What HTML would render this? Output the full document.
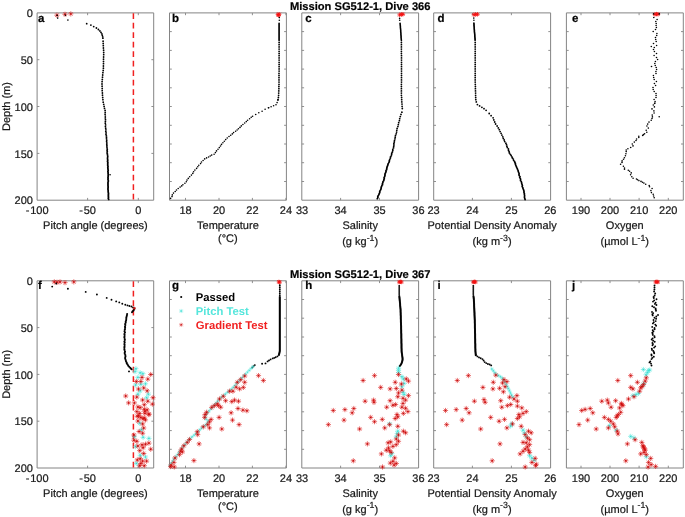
<!DOCTYPE html>
<html><head><meta charset="utf-8"><title>Mission SG512-1 dives 366-367</title>
<style>
html,body{margin:0;padding:0;background:#fff;}
body{width:685px;height:517px;overflow:hidden;font-family:"Liberation Sans",sans-serif;}
svg{display:block;text-rendering:geometricPrecision;shape-rendering:geometricPrecision;will-change:transform;}
</style></head><body>
<svg width="685" height="517" viewBox="0 0 685 517">
<rect x="0" y="0" width="685" height="517" fill="#fff"/>
<g font-family="'Liberation Sans', sans-serif" font-size="11" fill="#1a1a1a" stroke="#1a1a1a" stroke-width="0.22" stroke-linejoin="round">
<path d="M87.6 200.2v-2.3M87.6 12.9v2.3M138.3 200.2v-2.3M138.3 12.9v2.3M37.1 59.7h2.3M153.7 59.7h-2.3M37.1 106.5h2.3M153.7 106.5h-2.3M37.1 153.4h2.3M153.7 153.4h-2.3" stroke="#848484" stroke-width="0.9" fill="none"/>
<rect x="37.1" y="12.9" width="116.6" height="187.3" fill="none" stroke="#848484" stroke-width="1"/>
<text x="37.1" y="214.4" text-anchor="middle" font-size="11"><tspan letter-spacing="0.9">-</tspan>100</text>
<text x="87.6" y="214.4" text-anchor="middle" font-size="11"><tspan letter-spacing="0.9">-</tspan>50</text>
<text x="138.3" y="214.4" text-anchor="middle" font-size="11">0</text>
<text x="95.4" y="228.8" text-anchor="middle">Pitch angle (degrees)</text>
<text x="37.9" y="21.7" font-weight="bold" font-size="11.5" fill="#000">a</text>
<text x="32.9" y="17.1" text-anchor="end" font-size="11">0</text>
<text x="32.9" y="63.9" text-anchor="end" font-size="11">50</text>
<text x="32.9" y="110.8" text-anchor="end" font-size="11">100</text>
<text x="32.9" y="157.6" text-anchor="end" font-size="11">150</text>
<text x="32.9" y="204.4" text-anchor="end" font-size="11">200</text>
<text transform="translate(10.2,106.5) rotate(-90)" text-anchor="middle">Depth (m)</text>
<path d="M185.5 200.2v-2.3M185.5 12.9v2.3M219.0 200.2v-2.3M219.0 12.9v2.3M252.4 200.2v-2.3M252.4 12.9v2.3M285.9 200.2v-2.3M285.9 12.9v2.3M169.5 31.6h2.3M286.4 31.6h-2.3M169.5 50.4h2.3M286.4 50.4h-2.3M169.5 69.1h2.3M286.4 69.1h-2.3M169.5 87.8h2.3M286.4 87.8h-2.3M169.5 106.5h2.3M286.4 106.5h-2.3M169.5 125.3h2.3M286.4 125.3h-2.3M169.5 144.0h2.3M286.4 144.0h-2.3M169.5 162.7h2.3M286.4 162.7h-2.3M169.5 181.5h2.3M286.4 181.5h-2.3" stroke="#848484" stroke-width="0.9" fill="none"/>
<rect x="169.5" y="12.9" width="116.9" height="187.3" fill="none" stroke="#848484" stroke-width="1"/>
<text x="185.5" y="214.4" text-anchor="middle" font-size="11">18</text>
<text x="219.0" y="214.4" text-anchor="middle" font-size="11">20</text>
<text x="252.4" y="214.4" text-anchor="middle" font-size="11">22</text>
<text x="285.9" y="214.4" text-anchor="middle" font-size="11">24</text>
<text x="227.9" y="228.8" text-anchor="middle">Temperature</text>
<text x="227.9" y="241.9" text-anchor="middle">(°C)</text>
<text x="172.0" y="21.7" font-weight="bold" font-size="11.5" fill="#000">b</text>
<path d="M340.6 200.2v-2.3M340.6 12.9v2.3M379.5 200.2v-2.3M379.5 12.9v2.3M301.8 31.6h2.3M418.6 31.6h-2.3M301.8 50.4h2.3M418.6 50.4h-2.3M301.8 69.1h2.3M418.6 69.1h-2.3M301.8 87.8h2.3M418.6 87.8h-2.3M301.8 106.5h2.3M418.6 106.5h-2.3M301.8 125.3h2.3M418.6 125.3h-2.3M301.8 144.0h2.3M418.6 144.0h-2.3M301.8 162.7h2.3M418.6 162.7h-2.3M301.8 181.5h2.3M418.6 181.5h-2.3" stroke="#848484" stroke-width="0.9" fill="none"/>
<rect x="301.8" y="12.9" width="116.8" height="187.3" fill="none" stroke="#848484" stroke-width="1"/>
<text x="302.0" y="214.4" text-anchor="middle" font-size="11">33</text>
<text x="340.6" y="214.4" text-anchor="middle" font-size="11">34</text>
<text x="379.5" y="214.4" text-anchor="middle" font-size="11">35</text>
<text x="418.4" y="214.4" text-anchor="middle" font-size="11">36</text>
<text x="360.2" y="228.8" text-anchor="middle">Salinity</text>
<text x="360.2" y="244.8" text-anchor="middle">(g kg<tspan dy="-4.1" font-size="8.8">-1</tspan><tspan dy="4.1">)</tspan></text>
<text x="305.2" y="21.7" font-weight="bold" font-size="11.5" fill="#000">c</text>
<text x="360.2" y="10.2" text-anchor="middle" font-weight="bold" font-size="11.15" fill="#000">Mission SG512-1, Dive 366</text>
<path d="M472.4 200.2v-2.3M472.4 12.9v2.3M511.4 200.2v-2.3M511.4 12.9v2.3M433.7 31.6h2.3M550.6 31.6h-2.3M433.7 50.4h2.3M550.6 50.4h-2.3M433.7 69.1h2.3M550.6 69.1h-2.3M433.7 87.8h2.3M550.6 87.8h-2.3M433.7 106.5h2.3M550.6 106.5h-2.3M433.7 125.3h2.3M550.6 125.3h-2.3M433.7 144.0h2.3M550.6 144.0h-2.3M433.7 162.7h2.3M550.6 162.7h-2.3M433.7 181.5h2.3M550.6 181.5h-2.3" stroke="#848484" stroke-width="0.9" fill="none"/>
<rect x="433.7" y="12.9" width="116.9" height="187.3" fill="none" stroke="#848484" stroke-width="1"/>
<text x="433.6" y="214.4" text-anchor="middle" font-size="11">23</text>
<text x="472.4" y="214.4" text-anchor="middle" font-size="11">24</text>
<text x="511.4" y="214.4" text-anchor="middle" font-size="11">25</text>
<text x="550.3" y="214.4" text-anchor="middle" font-size="11">26</text>
<text x="492.1" y="228.8" text-anchor="middle" textLength="129.3" lengthAdjust="spacing">Potential Density Anomaly</text>
<text x="492.1" y="244.8" text-anchor="middle">(kg m<tspan dy="-4.1" font-size="8.8">-3</tspan><tspan dy="4.1">)</tspan></text>
<text x="437.4" y="21.7" font-weight="bold" font-size="11.5" fill="#000">d</text>
<path d="M581.0 200.2v-2.3M581.0 12.9v2.3M610.0 200.2v-2.3M610.0 12.9v2.3M639.1 200.2v-2.3M639.1 12.9v2.3M668.3 200.2v-2.3M668.3 12.9v2.3M566.4 31.6h2.3M683.3 31.6h-2.3M566.4 50.4h2.3M683.3 50.4h-2.3M566.4 69.1h2.3M683.3 69.1h-2.3M566.4 87.8h2.3M683.3 87.8h-2.3M566.4 106.5h2.3M683.3 106.5h-2.3M566.4 125.3h2.3M683.3 125.3h-2.3M566.4 144.0h2.3M683.3 144.0h-2.3M566.4 162.7h2.3M683.3 162.7h-2.3M566.4 181.5h2.3M683.3 181.5h-2.3" stroke="#848484" stroke-width="0.9" fill="none"/>
<rect x="566.4" y="12.9" width="116.9" height="187.3" fill="none" stroke="#848484" stroke-width="1"/>
<text x="581.0" y="214.4" text-anchor="middle" font-size="11">190</text>
<text x="610.0" y="214.4" text-anchor="middle" font-size="11">200</text>
<text x="639.1" y="214.4" text-anchor="middle" font-size="11">210</text>
<text x="668.3" y="214.4" text-anchor="middle" font-size="11">220</text>
<text x="624.8" y="228.8" text-anchor="middle">Oxygen</text>
<text x="624.8" y="244.8" text-anchor="middle">(µmol L<tspan dy="-4.1" font-size="8.8">-1</tspan><tspan dy="4.1">)</tspan></text>
<text x="572.0" y="21.7" font-weight="bold" font-size="11.5" fill="#000">e</text>
<path d="M87.6 468.0v-2.3M87.6 280.8v2.3M138.3 468.0v-2.3M138.3 280.8v2.3M37.1 327.6h2.3M153.7 327.6h-2.3M37.1 374.4h2.3M153.7 374.4h-2.3M37.1 421.2h2.3M153.7 421.2h-2.3" stroke="#848484" stroke-width="0.9" fill="none"/>
<rect x="37.1" y="280.8" width="116.6" height="187.2" fill="none" stroke="#848484" stroke-width="1"/>
<text x="37.1" y="482.2" text-anchor="middle" font-size="11"><tspan letter-spacing="0.9">-</tspan>100</text>
<text x="87.6" y="482.2" text-anchor="middle" font-size="11"><tspan letter-spacing="0.9">-</tspan>50</text>
<text x="138.3" y="482.2" text-anchor="middle" font-size="11">0</text>
<text x="95.4" y="496.6" text-anchor="middle">Pitch angle (degrees)</text>
<text x="37.9" y="289.3" font-weight="bold" font-size="11.5" fill="#000">f</text>
<text x="32.9" y="285.0" text-anchor="end" font-size="11">0</text>
<text x="32.9" y="331.8" text-anchor="end" font-size="11">50</text>
<text x="32.9" y="378.6" text-anchor="end" font-size="11">100</text>
<text x="32.9" y="425.4" text-anchor="end" font-size="11">150</text>
<text x="32.9" y="472.2" text-anchor="end" font-size="11">200</text>
<text transform="translate(10.2,374.4) rotate(-90)" text-anchor="middle">Depth (m)</text>
<path d="M185.5 468.0v-2.3M185.5 280.8v2.3M219.0 468.0v-2.3M219.0 280.8v2.3M252.4 468.0v-2.3M252.4 280.8v2.3M285.9 468.0v-2.3M285.9 280.8v2.3M169.5 299.5h2.3M286.4 299.5h-2.3M169.5 318.2h2.3M286.4 318.2h-2.3M169.5 337.0h2.3M286.4 337.0h-2.3M169.5 355.7h2.3M286.4 355.7h-2.3M169.5 374.4h2.3M286.4 374.4h-2.3M169.5 393.1h2.3M286.4 393.1h-2.3M169.5 411.8h2.3M286.4 411.8h-2.3M169.5 430.6h2.3M286.4 430.6h-2.3M169.5 449.3h2.3M286.4 449.3h-2.3" stroke="#848484" stroke-width="0.9" fill="none"/>
<rect x="169.5" y="280.8" width="116.9" height="187.2" fill="none" stroke="#848484" stroke-width="1"/>
<text x="185.5" y="482.2" text-anchor="middle" font-size="11">18</text>
<text x="219.0" y="482.2" text-anchor="middle" font-size="11">20</text>
<text x="252.4" y="482.2" text-anchor="middle" font-size="11">22</text>
<text x="285.9" y="482.2" text-anchor="middle" font-size="11">24</text>
<text x="227.9" y="496.6" text-anchor="middle">Temperature</text>
<text x="227.9" y="509.7" text-anchor="middle">(°C)</text>
<text x="172.0" y="289.3" font-weight="bold" font-size="11.5" fill="#000">g</text>
<path d="M340.6 468.0v-2.3M340.6 280.8v2.3M379.5 468.0v-2.3M379.5 280.8v2.3M301.8 299.5h2.3M418.6 299.5h-2.3M301.8 318.2h2.3M418.6 318.2h-2.3M301.8 337.0h2.3M418.6 337.0h-2.3M301.8 355.7h2.3M418.6 355.7h-2.3M301.8 374.4h2.3M418.6 374.4h-2.3M301.8 393.1h2.3M418.6 393.1h-2.3M301.8 411.8h2.3M418.6 411.8h-2.3M301.8 430.6h2.3M418.6 430.6h-2.3M301.8 449.3h2.3M418.6 449.3h-2.3" stroke="#848484" stroke-width="0.9" fill="none"/>
<rect x="301.8" y="280.8" width="116.8" height="187.2" fill="none" stroke="#848484" stroke-width="1"/>
<text x="302.0" y="482.2" text-anchor="middle" font-size="11">33</text>
<text x="340.6" y="482.2" text-anchor="middle" font-size="11">34</text>
<text x="379.5" y="482.2" text-anchor="middle" font-size="11">35</text>
<text x="418.4" y="482.2" text-anchor="middle" font-size="11">36</text>
<text x="360.2" y="496.6" text-anchor="middle">Salinity</text>
<text x="360.2" y="512.6" text-anchor="middle">(g kg<tspan dy="-4.1" font-size="8.8">-1</tspan><tspan dy="4.1">)</tspan></text>
<text x="305.2" y="289.3" font-weight="bold" font-size="11.5" fill="#000">h</text>
<text x="360.2" y="277.5" text-anchor="middle" font-weight="bold" font-size="11.15" fill="#000">Mission SG512-1, Dive 367</text>
<path d="M472.4 468.0v-2.3M472.4 280.8v2.3M511.4 468.0v-2.3M511.4 280.8v2.3M433.7 299.5h2.3M550.6 299.5h-2.3M433.7 318.2h2.3M550.6 318.2h-2.3M433.7 337.0h2.3M550.6 337.0h-2.3M433.7 355.7h2.3M550.6 355.7h-2.3M433.7 374.4h2.3M550.6 374.4h-2.3M433.7 393.1h2.3M550.6 393.1h-2.3M433.7 411.8h2.3M550.6 411.8h-2.3M433.7 430.6h2.3M550.6 430.6h-2.3M433.7 449.3h2.3M550.6 449.3h-2.3" stroke="#848484" stroke-width="0.9" fill="none"/>
<rect x="433.7" y="280.8" width="116.9" height="187.2" fill="none" stroke="#848484" stroke-width="1"/>
<text x="433.6" y="482.2" text-anchor="middle" font-size="11">23</text>
<text x="472.4" y="482.2" text-anchor="middle" font-size="11">24</text>
<text x="511.4" y="482.2" text-anchor="middle" font-size="11">25</text>
<text x="550.3" y="482.2" text-anchor="middle" font-size="11">26</text>
<text x="492.1" y="496.6" text-anchor="middle" textLength="129.3" lengthAdjust="spacing">Potential Density Anomaly</text>
<text x="492.1" y="512.6" text-anchor="middle">(kg m<tspan dy="-4.1" font-size="8.8">-3</tspan><tspan dy="4.1">)</tspan></text>
<text x="437.4" y="289.3" font-weight="bold" font-size="11.5" fill="#000">i</text>
<path d="M581.0 468.0v-2.3M581.0 280.8v2.3M610.0 468.0v-2.3M610.0 280.8v2.3M639.1 468.0v-2.3M639.1 280.8v2.3M668.3 468.0v-2.3M668.3 280.8v2.3M566.4 299.5h2.3M683.3 299.5h-2.3M566.4 318.2h2.3M683.3 318.2h-2.3M566.4 337.0h2.3M683.3 337.0h-2.3M566.4 355.7h2.3M683.3 355.7h-2.3M566.4 374.4h2.3M683.3 374.4h-2.3M566.4 393.1h2.3M683.3 393.1h-2.3M566.4 411.8h2.3M683.3 411.8h-2.3M566.4 430.6h2.3M683.3 430.6h-2.3M566.4 449.3h2.3M683.3 449.3h-2.3" stroke="#848484" stroke-width="0.9" fill="none"/>
<rect x="566.4" y="280.8" width="116.9" height="187.2" fill="none" stroke="#848484" stroke-width="1"/>
<text x="581.0" y="482.2" text-anchor="middle" font-size="11">190</text>
<text x="610.0" y="482.2" text-anchor="middle" font-size="11">200</text>
<text x="639.1" y="482.2" text-anchor="middle" font-size="11">210</text>
<text x="668.3" y="482.2" text-anchor="middle" font-size="11">220</text>
<text x="624.8" y="496.6" text-anchor="middle">Oxygen</text>
<text x="624.8" y="512.6" text-anchor="middle">(µmol L<tspan dy="-4.1" font-size="8.8">-1</tspan><tspan dy="4.1">)</tspan></text>
<text x="572.0" y="289.3" font-weight="bold" font-size="11.5" fill="#000">j</text>
</g>
<path d="M133.4 13.3V199.79999999999998" stroke="#f02020" stroke-width="1.5" stroke-dasharray="5.8 3.7" fill="none"/>
<path d="M133.4 281.2V467.6" stroke="#f02020" stroke-width="1.5" stroke-dasharray="5.8 3.7" fill="none"/>
<path d="M54.3 15.2H59.5M56.9 12.6V17.8M55.1 13.4L58.7 17.0M55.1 17.0L58.7 13.4" stroke="#dc1010" stroke-width="0.6" fill="none"/>
<circle cx="56.9" cy="15.2" r="0.70" fill="#b80f0f"/>
<path d="M62.4 14.3H67.6M65.0 11.7V16.9M63.2 12.5L66.8 16.1M63.2 16.1L66.8 12.5" stroke="#dc1010" stroke-width="0.6" fill="none"/>
<circle cx="65.0" cy="14.3" r="0.70" fill="#b80f0f"/>
<path d="M68.2 13.9H73.4M70.8 11.3V16.5M69.0 12.1L72.6 15.7M69.0 15.7L72.6 12.1" stroke="#dc1010" stroke-width="0.6" fill="none"/>
<circle cx="70.8" cy="13.9" r="0.70" fill="#b80f0f"/>
<circle cx="57.7" cy="18.1" r="0.8" fill="#000"/>
<circle cx="67.9" cy="20.1" r="0.8" fill="#000"/>
<circle cx="65.4" cy="15.2" r="0.8" fill="#000"/>
<circle cx="57.2" cy="15.4" r="0.8" fill="#000"/>
<circle cx="86.7" cy="23.7" r="0.9" fill="#000"/>
<circle cx="90.9" cy="25.1" r="0.9" fill="#000"/>
<circle cx="93.7" cy="26.6" r="0.9" fill="#000"/>
<circle cx="96.4" cy="28.0" r="0.9" fill="#000"/>
<circle cx="98.4" cy="29.5" r="0.9" fill="#000"/>
<circle cx="99.9" cy="30.9" r="0.9" fill="#000"/>
<circle cx="101.0" cy="32.4" r="0.9" fill="#000"/>
<circle cx="101.9" cy="33.9" r="0.9" fill="#000"/>
<circle cx="102.3" cy="35.3" r="0.9" fill="#000"/>
<circle cx="102.7" cy="36.8" r="0.9" fill="#000"/>
<circle cx="102.9" cy="38.2" r="0.9" fill="#000"/>
<circle cx="103.1" cy="41.2" r="0.9" fill="#000"/>
<circle cx="103.2" cy="43.5" r="0.9" fill="#000"/>
<circle cx="103.3" cy="45.7" r="0.9" fill="#000"/>
<circle cx="103.4" cy="48.0" r="0.9" fill="#000"/>
<circle cx="103.6" cy="50.2" r="0.9" fill="#000"/>
<circle cx="103.7" cy="52.5" r="0.9" fill="#000"/>
<circle cx="103.7" cy="54.7" r="0.9" fill="#000"/>
<circle cx="103.6" cy="57.0" r="0.9" fill="#000"/>
<circle cx="103.5" cy="59.2" r="0.9" fill="#000"/>
<circle cx="103.5" cy="61.5" r="0.9" fill="#000"/>
<circle cx="103.5" cy="63.7" r="0.9" fill="#000"/>
<circle cx="103.4" cy="66.0" r="0.9" fill="#000"/>
<circle cx="103.4" cy="68.2" r="0.9" fill="#000"/>
<circle cx="103.2" cy="70.5" r="0.9" fill="#000"/>
<circle cx="102.9" cy="72.7" r="0.9" fill="#000"/>
<circle cx="102.7" cy="75.0" r="0.9" fill="#000"/>
<circle cx="102.5" cy="77.2" r="0.9" fill="#000"/>
<circle cx="102.3" cy="79.5" r="0.9" fill="#000"/>
<circle cx="102.1" cy="81.7" r="0.9" fill="#000"/>
<circle cx="102.0" cy="84.0" r="0.9" fill="#000"/>
<circle cx="102.1" cy="86.2" r="0.9" fill="#000"/>
<circle cx="102.2" cy="88.5" r="0.9" fill="#000"/>
<circle cx="102.2" cy="90.7" r="0.9" fill="#000"/>
<circle cx="102.4" cy="93.0" r="0.9" fill="#000"/>
<circle cx="102.5" cy="95.2" r="0.9" fill="#000"/>
<circle cx="102.7" cy="97.5" r="0.9" fill="#000"/>
<circle cx="102.9" cy="99.7" r="0.9" fill="#000"/>
<circle cx="103.2" cy="102.2" r="0.9" fill="#000"/>
<circle cx="103.7" cy="104.3" r="0.9" fill="#000"/>
<circle cx="104.1" cy="106.4" r="0.9" fill="#000"/>
<circle cx="104.5" cy="108.4" r="0.9" fill="#000"/>
<circle cx="105.1" cy="110.4" r="0.9" fill="#000"/>
<circle cx="105.2" cy="112.3" r="0.9" fill="#000"/>
<circle cx="105.1" cy="114.2" r="0.9" fill="#000"/>
<circle cx="105.3" cy="116.1" r="0.9" fill="#000"/>
<circle cx="105.3" cy="117.9" r="0.9" fill="#000"/>
<circle cx="105.5" cy="119.7" r="0.9" fill="#000"/>
<circle cx="105.4" cy="121.5" r="0.9" fill="#000"/>
<circle cx="105.3" cy="123.2" r="0.9" fill="#000"/>
<circle cx="105.6" cy="124.9" r="0.9" fill="#000"/>
<circle cx="105.4" cy="126.6" r="0.9" fill="#000"/>
<circle cx="105.7" cy="128.2" r="0.9" fill="#000"/>
<circle cx="105.9" cy="129.8" r="0.9" fill="#000"/>
<circle cx="105.8" cy="131.4" r="0.9" fill="#000"/>
<circle cx="106.1" cy="132.9" r="0.9" fill="#000"/>
<circle cx="106.0" cy="134.5" r="0.9" fill="#000"/>
<circle cx="106.4" cy="135.9" r="0.9" fill="#000"/>
<circle cx="106.5" cy="137.4" r="0.9" fill="#000"/>
<circle cx="106.5" cy="138.8" r="0.9" fill="#000"/>
<circle cx="106.7" cy="140.2" r="0.9" fill="#000"/>
<circle cx="106.6" cy="141.6" r="0.9" fill="#000"/>
<circle cx="106.8" cy="143.0" r="0.9" fill="#000"/>
<circle cx="106.8" cy="144.3" r="0.9" fill="#000"/>
<circle cx="106.9" cy="145.6" r="0.9" fill="#000"/>
<circle cx="106.9" cy="146.9" r="0.9" fill="#000"/>
<circle cx="107.1" cy="148.1" r="0.9" fill="#000"/>
<circle cx="107.3" cy="149.3" r="0.9" fill="#000"/>
<circle cx="107.1" cy="150.5" r="0.9" fill="#000"/>
<circle cx="107.3" cy="151.7" r="0.9" fill="#000"/>
<circle cx="107.1" cy="152.9" r="0.9" fill="#000"/>
<circle cx="107.4" cy="154.0" r="0.9" fill="#000"/>
<circle cx="107.5" cy="155.1" r="0.9" fill="#000"/>
<circle cx="107.7" cy="156.2" r="0.9" fill="#000"/>
<circle cx="107.6" cy="157.3" r="0.9" fill="#000"/>
<circle cx="107.5" cy="158.3" r="0.9" fill="#000"/>
<circle cx="107.6" cy="159.4" r="0.9" fill="#000"/>
<circle cx="107.7" cy="160.4" r="0.9" fill="#000"/>
<circle cx="107.5" cy="161.4" r="0.9" fill="#000"/>
<circle cx="107.8" cy="162.4" r="0.9" fill="#000"/>
<circle cx="107.7" cy="163.4" r="0.9" fill="#000"/>
<circle cx="107.7" cy="164.4" r="0.9" fill="#000"/>
<circle cx="107.7" cy="165.4" r="0.9" fill="#000"/>
<circle cx="108.0" cy="166.4" r="0.9" fill="#000"/>
<circle cx="107.8" cy="167.4" r="0.9" fill="#000"/>
<circle cx="107.9" cy="168.4" r="0.9" fill="#000"/>
<circle cx="108.0" cy="169.4" r="0.9" fill="#000"/>
<circle cx="108.2" cy="170.4" r="0.9" fill="#000"/>
<circle cx="107.9" cy="171.4" r="0.9" fill="#000"/>
<circle cx="108.1" cy="172.4" r="0.9" fill="#000"/>
<circle cx="108.1" cy="173.4" r="0.9" fill="#000"/>
<circle cx="108.3" cy="174.4" r="0.9" fill="#000"/>
<circle cx="108.2" cy="175.4" r="0.9" fill="#000"/>
<circle cx="108.2" cy="176.4" r="0.9" fill="#000"/>
<circle cx="108.0" cy="177.4" r="0.9" fill="#000"/>
<circle cx="108.1" cy="178.4" r="0.9" fill="#000"/>
<circle cx="108.0" cy="179.4" r="0.9" fill="#000"/>
<circle cx="108.3" cy="180.4" r="0.9" fill="#000"/>
<circle cx="108.3" cy="181.4" r="0.9" fill="#000"/>
<circle cx="108.0" cy="182.4" r="0.9" fill="#000"/>
<circle cx="108.0" cy="183.4" r="0.9" fill="#000"/>
<circle cx="108.0" cy="184.4" r="0.9" fill="#000"/>
<circle cx="108.0" cy="185.4" r="0.9" fill="#000"/>
<circle cx="108.1" cy="186.4" r="0.9" fill="#000"/>
<circle cx="108.1" cy="187.4" r="0.9" fill="#000"/>
<circle cx="108.0" cy="188.4" r="0.9" fill="#000"/>
<circle cx="108.0" cy="189.4" r="0.9" fill="#000"/>
<circle cx="108.2" cy="190.4" r="0.9" fill="#000"/>
<circle cx="108.2" cy="191.4" r="0.9" fill="#000"/>
<circle cx="108.3" cy="192.4" r="0.9" fill="#000"/>
<circle cx="108.5" cy="193.4" r="0.9" fill="#000"/>
<circle cx="108.4" cy="194.4" r="0.9" fill="#000"/>
<circle cx="108.4" cy="195.4" r="0.9" fill="#000"/>
<circle cx="108.4" cy="196.4" r="0.9" fill="#000"/>
<circle cx="108.5" cy="197.4" r="0.9" fill="#000"/>
<circle cx="108.3" cy="198.4" r="0.9" fill="#000"/>
<circle cx="108.7" cy="199.4" r="0.9" fill="#000"/>
<circle cx="110.1" cy="174.7" r="0.8" fill="#000"/>
<path d="M275.7 14.6H280.1M277.9 12.4V16.8M276.3 13.0L279.5 16.2M276.3 16.2L279.5 13.0" stroke="#f41010" stroke-width="0.8" fill="none"/>
<path d="M277.0 14.3H281.4M279.2 12.1V16.5M277.6 12.7L280.8 15.9M277.6 15.9L280.8 12.7" stroke="#f41010" stroke-width="0.8" fill="none"/>
<path d="M276.4 15.2H280.8M278.6 13.0V17.4M277.0 13.6L280.2 16.8M277.0 16.8L280.2 13.6" stroke="#f41010" stroke-width="0.8" fill="none"/>
<circle cx="279.3" cy="17.6" r="0.8" fill="#000"/>
<circle cx="279.3" cy="20.2" r="0.8" fill="#000"/>
<circle cx="279.1" cy="23.3" r="0.85" fill="#000"/>
<circle cx="279.1" cy="24.3" r="0.85" fill="#000"/>
<circle cx="279.1" cy="25.3" r="0.85" fill="#000"/>
<circle cx="279.1" cy="26.3" r="0.85" fill="#000"/>
<circle cx="279.1" cy="27.3" r="0.85" fill="#000"/>
<circle cx="279.1" cy="28.3" r="0.85" fill="#000"/>
<circle cx="279.1" cy="29.3" r="0.85" fill="#000"/>
<circle cx="279.1" cy="30.3" r="0.85" fill="#000"/>
<circle cx="279.1" cy="31.3" r="0.85" fill="#000"/>
<circle cx="279.1" cy="32.3" r="0.85" fill="#000"/>
<circle cx="279.1" cy="33.3" r="0.85" fill="#000"/>
<circle cx="279.1" cy="34.3" r="0.85" fill="#000"/>
<circle cx="279.1" cy="35.3" r="0.85" fill="#000"/>
<circle cx="279.1" cy="36.3" r="0.85" fill="#000"/>
<circle cx="279.1" cy="37.3" r="0.85" fill="#000"/>
<circle cx="279.1" cy="38.3" r="0.85" fill="#000"/>
<circle cx="279.1" cy="39.3" r="0.85" fill="#000"/>
<circle cx="279.1" cy="40.3" r="0.85" fill="#000"/>
<circle cx="279.1" cy="42.5" r="0.9" fill="#000"/>
<circle cx="279.1" cy="44.7" r="0.9" fill="#000"/>
<circle cx="279.1" cy="46.9" r="0.9" fill="#000"/>
<circle cx="279.1" cy="49.1" r="0.9" fill="#000"/>
<circle cx="279.1" cy="51.3" r="0.9" fill="#000"/>
<circle cx="279.1" cy="53.5" r="0.9" fill="#000"/>
<circle cx="279.1" cy="55.7" r="0.9" fill="#000"/>
<circle cx="279.1" cy="57.9" r="0.9" fill="#000"/>
<circle cx="279.1" cy="60.1" r="0.9" fill="#000"/>
<circle cx="279.1" cy="62.3" r="0.9" fill="#000"/>
<circle cx="279.1" cy="64.5" r="0.9" fill="#000"/>
<circle cx="279.1" cy="66.7" r="0.9" fill="#000"/>
<circle cx="279.1" cy="68.9" r="0.9" fill="#000"/>
<circle cx="279.1" cy="71.1" r="0.9" fill="#000"/>
<circle cx="279.0" cy="73.3" r="0.9" fill="#000"/>
<circle cx="279.0" cy="75.5" r="0.9" fill="#000"/>
<circle cx="279.0" cy="77.7" r="0.9" fill="#000"/>
<circle cx="279.0" cy="79.9" r="0.9" fill="#000"/>
<circle cx="279.0" cy="82.1" r="0.9" fill="#000"/>
<circle cx="279.0" cy="84.3" r="0.9" fill="#000"/>
<circle cx="278.9" cy="86.5" r="0.9" fill="#000"/>
<circle cx="278.9" cy="88.7" r="0.9" fill="#000"/>
<circle cx="278.8" cy="90.9" r="0.9" fill="#000"/>
<circle cx="278.7" cy="93.1" r="0.9" fill="#000"/>
<circle cx="278.6" cy="95.3" r="0.9" fill="#000"/>
<circle cx="278.4" cy="97.5" r="0.9" fill="#000"/>
<circle cx="278.0" cy="99.7" r="0.9" fill="#000"/>
<circle cx="277.9" cy="100.1" r="0.8" fill="#000"/>
<circle cx="277.1" cy="102.6" r="0.8" fill="#000"/>
<circle cx="276.0" cy="104.8" r="0.8" fill="#000"/>
<circle cx="273.6" cy="105.7" r="0.8" fill="#000"/>
<circle cx="271.1" cy="106.7" r="0.8" fill="#000"/>
<circle cx="268.7" cy="107.7" r="0.8" fill="#000"/>
<circle cx="268.4" cy="107.8" r="0.8" fill="#000"/>
<circle cx="265.1" cy="109.3" r="0.8" fill="#000"/>
<circle cx="262.1" cy="111.2" r="0.8" fill="#000"/>
<circle cx="258.8" cy="112.8" r="0.8" fill="#000"/>
<circle cx="255.7" cy="114.5" r="0.8" fill="#000"/>
<circle cx="252.6" cy="116.3" r="0.8" fill="#000"/>
<circle cx="251.2" cy="117.3" r="0.8" fill="#000"/>
<circle cx="249.6" cy="118.7" r="0.8" fill="#000"/>
<circle cx="247.6" cy="120.2" r="0.8" fill="#000"/>
<circle cx="246.3" cy="121.6" r="0.8" fill="#000"/>
<circle cx="244.7" cy="123.0" r="0.8" fill="#000"/>
<circle cx="242.9" cy="124.5" r="0.8" fill="#000"/>
<circle cx="241.3" cy="125.9" r="0.8" fill="#000"/>
<circle cx="240.0" cy="127.4" r="0.8" fill="#000"/>
<circle cx="238.4" cy="128.7" r="0.8" fill="#000"/>
<circle cx="237.1" cy="130.0" r="0.8" fill="#000"/>
<circle cx="235.6" cy="131.3" r="0.8" fill="#000"/>
<circle cx="233.6" cy="132.6" r="0.8" fill="#000"/>
<circle cx="232.3" cy="133.9" r="0.8" fill="#000"/>
<circle cx="230.7" cy="135.2" r="0.8" fill="#000"/>
<circle cx="229.0" cy="136.5" r="0.8" fill="#000"/>
<circle cx="227.2" cy="138.0" r="0.8" fill="#000"/>
<circle cx="225.7" cy="139.6" r="0.8" fill="#000"/>
<circle cx="224.3" cy="141.2" r="0.8" fill="#000"/>
<circle cx="222.9" cy="142.8" r="0.8" fill="#000"/>
<circle cx="221.5" cy="144.4" r="0.8" fill="#000"/>
<circle cx="220.5" cy="146.0" r="0.8" fill="#000"/>
<circle cx="219.3" cy="147.6" r="0.8" fill="#000"/>
<circle cx="218.0" cy="149.3" r="0.8" fill="#000"/>
<circle cx="216.5" cy="150.9" r="0.8" fill="#000"/>
<circle cx="215.4" cy="152.6" r="0.8" fill="#000"/>
<circle cx="214.1" cy="154.2" r="0.8" fill="#000"/>
<circle cx="211.7" cy="155.1" r="0.8" fill="#000"/>
<circle cx="210.2" cy="156.0" r="0.8" fill="#000"/>
<circle cx="208.6" cy="157.0" r="0.8" fill="#000"/>
<circle cx="206.6" cy="157.9" r="0.8" fill="#000"/>
<circle cx="204.7" cy="158.9" r="0.8" fill="#000"/>
<circle cx="203.1" cy="160.5" r="0.8" fill="#000"/>
<circle cx="201.5" cy="162.0" r="0.8" fill="#000"/>
<circle cx="200.6" cy="163.6" r="0.8" fill="#000"/>
<circle cx="198.8" cy="165.2" r="0.8" fill="#000"/>
<circle cx="197.8" cy="166.8" r="0.8" fill="#000"/>
<circle cx="196.6" cy="168.4" r="0.8" fill="#000"/>
<circle cx="194.9" cy="170.1" r="0.8" fill="#000"/>
<circle cx="193.6" cy="171.7" r="0.8" fill="#000"/>
<circle cx="192.8" cy="173.4" r="0.8" fill="#000"/>
<circle cx="191.4" cy="175.1" r="0.8" fill="#000"/>
<circle cx="189.7" cy="176.8" r="0.8" fill="#000"/>
<circle cx="188.3" cy="178.4" r="0.8" fill="#000"/>
<circle cx="187.0" cy="180.1" r="0.8" fill="#000"/>
<circle cx="186.3" cy="181.7" r="0.8" fill="#000"/>
<circle cx="184.9" cy="183.3" r="0.8" fill="#000"/>
<circle cx="182.9" cy="184.8" r="0.8" fill="#000"/>
<circle cx="181.7" cy="185.9" r="0.8" fill="#000"/>
<circle cx="180.1" cy="187.1" r="0.8" fill="#000"/>
<circle cx="178.2" cy="188.5" r="0.8" fill="#000"/>
<circle cx="176.5" cy="190.0" r="0.8" fill="#000"/>
<circle cx="175.2" cy="191.5" r="0.8" fill="#000"/>
<circle cx="173.5" cy="193.1" r="0.8" fill="#000"/>
<circle cx="172.3" cy="194.9" r="0.8" fill="#000"/>
<circle cx="172.0" cy="196.6" r="0.8" fill="#000"/>
<circle cx="170.6" cy="198.4" r="0.8" fill="#000"/>
<path d="M397.4 14.9H401.8M399.6 12.7V17.1M398.0 13.3L401.2 16.5M398.0 16.5L401.2 13.3" stroke="#f41010" stroke-width="0.8" fill="none"/>
<path d="M399.2 14.4H403.6M401.4 12.2V16.6M399.8 12.8L403.0 16.0M399.8 16.0L403.0 12.8" stroke="#f41010" stroke-width="0.8" fill="none"/>
<path d="M400.7 14.3H405.1M402.9 12.1V16.5M401.3 12.7L404.5 15.9M401.3 15.9L404.5 12.7" stroke="#f41010" stroke-width="0.8" fill="none"/>
<circle cx="399.6" cy="18.4" r="0.8" fill="#000"/>
<circle cx="399.7" cy="20.3" r="0.8" fill="#000"/>
<circle cx="400.1" cy="23.3" r="0.85" fill="#000"/>
<circle cx="400.2" cy="24.3" r="0.85" fill="#000"/>
<circle cx="400.3" cy="25.3" r="0.85" fill="#000"/>
<circle cx="400.4" cy="26.3" r="0.85" fill="#000"/>
<circle cx="400.4" cy="27.3" r="0.85" fill="#000"/>
<circle cx="400.5" cy="28.3" r="0.85" fill="#000"/>
<circle cx="400.6" cy="29.3" r="0.85" fill="#000"/>
<circle cx="400.7" cy="30.3" r="0.85" fill="#000"/>
<circle cx="400.7" cy="31.3" r="0.85" fill="#000"/>
<circle cx="400.8" cy="32.3" r="0.85" fill="#000"/>
<circle cx="400.9" cy="33.3" r="0.85" fill="#000"/>
<circle cx="400.9" cy="34.3" r="0.85" fill="#000"/>
<circle cx="401.0" cy="35.3" r="0.85" fill="#000"/>
<circle cx="401.1" cy="36.3" r="0.85" fill="#000"/>
<circle cx="401.1" cy="37.3" r="0.85" fill="#000"/>
<circle cx="401.2" cy="38.3" r="0.85" fill="#000"/>
<circle cx="401.3" cy="39.3" r="0.85" fill="#000"/>
<circle cx="401.4" cy="40.3" r="0.85" fill="#000"/>
<circle cx="401.4" cy="42.5" r="0.9" fill="#000"/>
<circle cx="401.4" cy="44.7" r="0.9" fill="#000"/>
<circle cx="401.4" cy="46.9" r="0.9" fill="#000"/>
<circle cx="401.4" cy="49.1" r="0.9" fill="#000"/>
<circle cx="401.4" cy="51.3" r="0.9" fill="#000"/>
<circle cx="401.4" cy="53.5" r="0.9" fill="#000"/>
<circle cx="401.5" cy="55.7" r="0.9" fill="#000"/>
<circle cx="401.5" cy="57.9" r="0.9" fill="#000"/>
<circle cx="401.5" cy="60.1" r="0.9" fill="#000"/>
<circle cx="401.5" cy="62.3" r="0.9" fill="#000"/>
<circle cx="401.5" cy="64.5" r="0.9" fill="#000"/>
<circle cx="401.5" cy="66.7" r="0.9" fill="#000"/>
<circle cx="401.5" cy="68.9" r="0.9" fill="#000"/>
<circle cx="401.5" cy="71.1" r="0.9" fill="#000"/>
<circle cx="401.5" cy="73.3" r="0.9" fill="#000"/>
<circle cx="401.5" cy="75.5" r="0.9" fill="#000"/>
<circle cx="401.5" cy="77.7" r="0.9" fill="#000"/>
<circle cx="401.5" cy="79.9" r="0.9" fill="#000"/>
<circle cx="401.5" cy="82.1" r="0.9" fill="#000"/>
<circle cx="401.4" cy="84.3" r="0.9" fill="#000"/>
<circle cx="401.4" cy="86.5" r="0.9" fill="#000"/>
<circle cx="401.4" cy="88.7" r="0.9" fill="#000"/>
<circle cx="401.4" cy="90.9" r="0.9" fill="#000"/>
<circle cx="401.4" cy="93.1" r="0.9" fill="#000"/>
<circle cx="401.4" cy="95.3" r="0.9" fill="#000"/>
<circle cx="401.6" cy="97.5" r="0.9" fill="#000"/>
<circle cx="401.7" cy="99.7" r="0.9" fill="#000"/>
<circle cx="401.8" cy="101.9" r="0.9" fill="#000"/>
<circle cx="402.0" cy="104.1" r="0.9" fill="#000"/>
<circle cx="402.1" cy="106.3" r="0.9" fill="#000"/>
<circle cx="402.3" cy="108.5" r="0.9" fill="#000"/>
<circle cx="401.9" cy="112.2" r="0.9" fill="#000"/>
<circle cx="401.0" cy="114.4" r="0.9" fill="#000"/>
<circle cx="400.3" cy="116.6" r="0.9" fill="#000"/>
<circle cx="399.7" cy="118.7" r="0.9" fill="#000"/>
<circle cx="399.4" cy="120.7" r="0.9" fill="#000"/>
<circle cx="398.7" cy="122.7" r="0.9" fill="#000"/>
<circle cx="398.3" cy="124.7" r="0.9" fill="#000"/>
<circle cx="397.9" cy="126.6" r="0.9" fill="#000"/>
<circle cx="397.1" cy="128.5" r="0.9" fill="#000"/>
<circle cx="396.8" cy="130.3" r="0.9" fill="#000"/>
<circle cx="396.6" cy="132.1" r="0.9" fill="#000"/>
<circle cx="396.2" cy="133.8" r="0.9" fill="#000"/>
<circle cx="395.5" cy="135.5" r="0.9" fill="#000"/>
<circle cx="395.2" cy="137.2" r="0.9" fill="#000"/>
<circle cx="395.0" cy="138.8" r="0.9" fill="#000"/>
<circle cx="394.5" cy="140.4" r="0.9" fill="#000"/>
<circle cx="394.3" cy="142.0" r="0.9" fill="#000"/>
<circle cx="393.9" cy="143.5" r="0.9" fill="#000"/>
<circle cx="393.9" cy="145.0" r="0.9" fill="#000"/>
<circle cx="393.7" cy="146.5" r="0.9" fill="#000"/>
<circle cx="393.5" cy="147.9" r="0.9" fill="#000"/>
<circle cx="392.8" cy="149.3" r="0.9" fill="#000"/>
<circle cx="392.8" cy="150.6" r="0.9" fill="#000"/>
<circle cx="392.4" cy="152.0" r="0.9" fill="#000"/>
<circle cx="391.7" cy="153.2" r="0.9" fill="#000"/>
<circle cx="391.6" cy="154.5" r="0.9" fill="#000"/>
<circle cx="391.3" cy="155.8" r="0.9" fill="#000"/>
<circle cx="390.5" cy="157.0" r="0.9" fill="#000"/>
<circle cx="390.4" cy="158.1" r="0.9" fill="#000"/>
<circle cx="389.8" cy="159.3" r="0.9" fill="#000"/>
<circle cx="389.4" cy="160.4" r="0.9" fill="#000"/>
<circle cx="389.3" cy="161.5" r="0.9" fill="#000"/>
<circle cx="388.9" cy="162.6" r="0.9" fill="#000"/>
<circle cx="388.2" cy="163.7" r="0.9" fill="#000"/>
<circle cx="387.9" cy="164.7" r="0.9" fill="#000"/>
<circle cx="387.6" cy="165.7" r="0.9" fill="#000"/>
<circle cx="387.2" cy="166.7" r="0.9" fill="#000"/>
<circle cx="386.9" cy="167.7" r="0.9" fill="#000"/>
<circle cx="386.7" cy="168.7" r="0.9" fill="#000"/>
<circle cx="386.6" cy="169.7" r="0.9" fill="#000"/>
<circle cx="386.0" cy="170.7" r="0.9" fill="#000"/>
<circle cx="386.0" cy="171.7" r="0.9" fill="#000"/>
<circle cx="385.6" cy="172.7" r="0.9" fill="#000"/>
<circle cx="385.1" cy="173.7" r="0.9" fill="#000"/>
<circle cx="385.0" cy="174.7" r="0.9" fill="#000"/>
<circle cx="384.9" cy="175.7" r="0.9" fill="#000"/>
<circle cx="384.6" cy="176.7" r="0.9" fill="#000"/>
<circle cx="384.1" cy="177.7" r="0.9" fill="#000"/>
<circle cx="384.3" cy="178.7" r="0.9" fill="#000"/>
<circle cx="383.9" cy="179.7" r="0.9" fill="#000"/>
<circle cx="383.7" cy="180.7" r="0.9" fill="#000"/>
<circle cx="383.0" cy="181.7" r="0.9" fill="#000"/>
<circle cx="382.8" cy="182.7" r="0.9" fill="#000"/>
<circle cx="382.4" cy="183.7" r="0.9" fill="#000"/>
<circle cx="382.5" cy="184.7" r="0.9" fill="#000"/>
<circle cx="381.9" cy="185.7" r="0.9" fill="#000"/>
<circle cx="381.4" cy="186.7" r="0.9" fill="#000"/>
<circle cx="381.2" cy="187.7" r="0.9" fill="#000"/>
<circle cx="381.1" cy="188.7" r="0.9" fill="#000"/>
<circle cx="380.7" cy="189.7" r="0.9" fill="#000"/>
<circle cx="380.1" cy="190.7" r="0.9" fill="#000"/>
<circle cx="379.7" cy="191.7" r="0.9" fill="#000"/>
<circle cx="379.7" cy="192.7" r="0.9" fill="#000"/>
<circle cx="379.2" cy="193.7" r="0.9" fill="#000"/>
<circle cx="378.9" cy="194.7" r="0.9" fill="#000"/>
<circle cx="378.2" cy="195.7" r="0.9" fill="#000"/>
<circle cx="377.8" cy="196.7" r="0.9" fill="#000"/>
<circle cx="377.8" cy="197.7" r="0.9" fill="#000"/>
<circle cx="377.3" cy="198.7" r="0.9" fill="#000"/>
<path d="M471.7 14.7H476.1M473.9 12.5V16.9M472.3 13.1L475.5 16.3M472.3 16.3L475.5 13.1" stroke="#f41010" stroke-width="0.8" fill="none"/>
<path d="M473.4 14.4H477.8M475.6 12.2V16.6M474.0 12.8L477.2 16.0M474.0 16.0L477.2 12.8" stroke="#f41010" stroke-width="0.8" fill="none"/>
<path d="M475.3 14.3H479.7M477.5 12.1V16.5M475.9 12.7L479.1 15.9M475.9 15.9L479.1 12.7" stroke="#f41010" stroke-width="0.8" fill="none"/>
<circle cx="473.8" cy="18.1" r="0.8" fill="#000"/>
<circle cx="473.9" cy="20.2" r="0.8" fill="#000"/>
<circle cx="473.9" cy="23.2" r="0.85" fill="#000"/>
<circle cx="474.0" cy="24.2" r="0.85" fill="#000"/>
<circle cx="474.0" cy="25.2" r="0.85" fill="#000"/>
<circle cx="474.1" cy="26.2" r="0.85" fill="#000"/>
<circle cx="474.2" cy="27.2" r="0.85" fill="#000"/>
<circle cx="474.2" cy="28.2" r="0.85" fill="#000"/>
<circle cx="474.3" cy="29.2" r="0.85" fill="#000"/>
<circle cx="474.4" cy="30.2" r="0.85" fill="#000"/>
<circle cx="474.4" cy="31.2" r="0.85" fill="#000"/>
<circle cx="474.5" cy="32.2" r="0.85" fill="#000"/>
<circle cx="474.6" cy="33.2" r="0.85" fill="#000"/>
<circle cx="474.7" cy="34.2" r="0.85" fill="#000"/>
<circle cx="474.8" cy="35.2" r="0.85" fill="#000"/>
<circle cx="474.8" cy="36.2" r="0.85" fill="#000"/>
<circle cx="474.9" cy="37.2" r="0.85" fill="#000"/>
<circle cx="475.0" cy="38.2" r="0.85" fill="#000"/>
<circle cx="475.1" cy="39.2" r="0.85" fill="#000"/>
<circle cx="475.1" cy="40.2" r="0.85" fill="#000"/>
<circle cx="475.2" cy="42.5" r="0.9" fill="#000"/>
<circle cx="475.2" cy="44.7" r="0.9" fill="#000"/>
<circle cx="475.2" cy="46.9" r="0.9" fill="#000"/>
<circle cx="475.2" cy="49.1" r="0.9" fill="#000"/>
<circle cx="475.2" cy="51.3" r="0.9" fill="#000"/>
<circle cx="475.2" cy="53.5" r="0.9" fill="#000"/>
<circle cx="475.2" cy="55.7" r="0.9" fill="#000"/>
<circle cx="475.2" cy="57.9" r="0.9" fill="#000"/>
<circle cx="475.2" cy="60.1" r="0.9" fill="#000"/>
<circle cx="475.2" cy="62.3" r="0.9" fill="#000"/>
<circle cx="475.2" cy="64.5" r="0.9" fill="#000"/>
<circle cx="475.2" cy="66.7" r="0.9" fill="#000"/>
<circle cx="475.2" cy="68.9" r="0.9" fill="#000"/>
<circle cx="475.2" cy="71.1" r="0.9" fill="#000"/>
<circle cx="475.2" cy="73.3" r="0.9" fill="#000"/>
<circle cx="475.2" cy="75.5" r="0.9" fill="#000"/>
<circle cx="475.2" cy="77.7" r="0.9" fill="#000"/>
<circle cx="475.2" cy="79.9" r="0.9" fill="#000"/>
<circle cx="475.2" cy="82.1" r="0.9" fill="#000"/>
<circle cx="475.3" cy="84.3" r="0.9" fill="#000"/>
<circle cx="475.4" cy="86.5" r="0.9" fill="#000"/>
<circle cx="475.4" cy="88.7" r="0.9" fill="#000"/>
<circle cx="475.5" cy="90.9" r="0.9" fill="#000"/>
<circle cx="475.6" cy="93.1" r="0.9" fill="#000"/>
<circle cx="475.6" cy="95.3" r="0.9" fill="#000"/>
<circle cx="475.7" cy="97.5" r="0.9" fill="#000"/>
<circle cx="475.8" cy="99.7" r="0.9" fill="#000"/>
<circle cx="476.3" cy="101.9" r="0.9" fill="#000"/>
<circle cx="477.4" cy="104.6" r="0.9" fill="#000"/>
<circle cx="479.6" cy="105.9" r="0.9" fill="#000"/>
<circle cx="481.9" cy="107.3" r="0.9" fill="#000"/>
<circle cx="484.0" cy="108.7" r="0.9" fill="#000"/>
<circle cx="486.1" cy="110.3" r="0.9" fill="#000"/>
<circle cx="489.2" cy="113.5" r="0.9" fill="#000"/>
<circle cx="491.1" cy="115.7" r="0.9" fill="#000"/>
<circle cx="493.1" cy="117.8" r="0.9" fill="#000"/>
<circle cx="493.8" cy="119.9" r="0.9" fill="#000"/>
<circle cx="494.7" cy="122.0" r="0.9" fill="#000"/>
<circle cx="495.6" cy="124.0" r="0.9" fill="#000"/>
<circle cx="497.1" cy="126.0" r="0.9" fill="#000"/>
<circle cx="498.3" cy="127.9" r="0.9" fill="#000"/>
<circle cx="499.3" cy="129.7" r="0.9" fill="#000"/>
<circle cx="500.1" cy="131.6" r="0.9" fill="#000"/>
<circle cx="501.1" cy="133.3" r="0.9" fill="#000"/>
<circle cx="501.9" cy="135.1" r="0.9" fill="#000"/>
<circle cx="502.8" cy="136.8" r="0.9" fill="#000"/>
<circle cx="503.3" cy="138.4" r="0.9" fill="#000"/>
<circle cx="504.2" cy="140.0" r="0.9" fill="#000"/>
<circle cx="504.7" cy="141.6" r="0.9" fill="#000"/>
<circle cx="505.9" cy="143.2" r="0.9" fill="#000"/>
<circle cx="506.5" cy="144.7" r="0.9" fill="#000"/>
<circle cx="506.9" cy="146.2" r="0.9" fill="#000"/>
<circle cx="507.3" cy="147.6" r="0.9" fill="#000"/>
<circle cx="508.4" cy="149.0" r="0.9" fill="#000"/>
<circle cx="508.5" cy="150.4" r="0.9" fill="#000"/>
<circle cx="509.1" cy="151.7" r="0.9" fill="#000"/>
<circle cx="509.4" cy="153.0" r="0.9" fill="#000"/>
<circle cx="510.3" cy="154.3" r="0.9" fill="#000"/>
<circle cx="511.1" cy="155.5" r="0.9" fill="#000"/>
<circle cx="511.9" cy="156.8" r="0.9" fill="#000"/>
<circle cx="512.4" cy="158.0" r="0.9" fill="#000"/>
<circle cx="513.3" cy="159.1" r="0.9" fill="#000"/>
<circle cx="513.6" cy="160.3" r="0.9" fill="#000"/>
<circle cx="514.5" cy="161.4" r="0.9" fill="#000"/>
<circle cx="514.9" cy="162.5" r="0.9" fill="#000"/>
<circle cx="515.4" cy="163.5" r="0.9" fill="#000"/>
<circle cx="515.5" cy="164.6" r="0.9" fill="#000"/>
<circle cx="515.9" cy="165.6" r="0.9" fill="#000"/>
<circle cx="516.4" cy="166.6" r="0.9" fill="#000"/>
<circle cx="516.7" cy="167.6" r="0.9" fill="#000"/>
<circle cx="517.3" cy="168.6" r="0.9" fill="#000"/>
<circle cx="517.6" cy="169.6" r="0.9" fill="#000"/>
<circle cx="518.1" cy="170.6" r="0.9" fill="#000"/>
<circle cx="518.3" cy="171.6" r="0.9" fill="#000"/>
<circle cx="518.7" cy="172.6" r="0.9" fill="#000"/>
<circle cx="519.1" cy="173.6" r="0.9" fill="#000"/>
<circle cx="519.0" cy="174.6" r="0.9" fill="#000"/>
<circle cx="519.2" cy="175.6" r="0.9" fill="#000"/>
<circle cx="520.0" cy="176.6" r="0.9" fill="#000"/>
<circle cx="519.7" cy="177.6" r="0.9" fill="#000"/>
<circle cx="520.4" cy="178.6" r="0.9" fill="#000"/>
<circle cx="520.6" cy="179.6" r="0.9" fill="#000"/>
<circle cx="520.5" cy="180.6" r="0.9" fill="#000"/>
<circle cx="521.3" cy="181.6" r="0.9" fill="#000"/>
<circle cx="521.6" cy="182.6" r="0.9" fill="#000"/>
<circle cx="521.7" cy="183.6" r="0.9" fill="#000"/>
<circle cx="522.1" cy="184.6" r="0.9" fill="#000"/>
<circle cx="522.4" cy="185.6" r="0.9" fill="#000"/>
<circle cx="522.2" cy="186.6" r="0.9" fill="#000"/>
<circle cx="522.8" cy="187.6" r="0.9" fill="#000"/>
<circle cx="523.0" cy="188.6" r="0.9" fill="#000"/>
<circle cx="523.5" cy="189.6" r="0.9" fill="#000"/>
<circle cx="523.8" cy="190.6" r="0.9" fill="#000"/>
<circle cx="524.0" cy="191.6" r="0.9" fill="#000"/>
<circle cx="524.0" cy="192.6" r="0.9" fill="#000"/>
<circle cx="524.4" cy="193.6" r="0.9" fill="#000"/>
<circle cx="524.4" cy="194.6" r="0.9" fill="#000"/>
<circle cx="524.6" cy="195.6" r="0.9" fill="#000"/>
<circle cx="524.5" cy="196.6" r="0.9" fill="#000"/>
<circle cx="524.5" cy="197.6" r="0.9" fill="#000"/>
<circle cx="524.8" cy="198.6" r="0.9" fill="#000"/>
<circle cx="525.1" cy="199.6" r="0.9" fill="#000"/>
<path d="M652.7 14.3H657.1M654.9 12.1V16.5M653.3 12.7L656.5 15.9M653.3 15.9L656.5 12.7" stroke="#f41010" stroke-width="0.8" fill="none"/>
<path d="M654.3 14.1H658.7M656.5 11.9V16.3M654.9 12.5L658.1 15.7M654.9 15.7L658.1 12.5" stroke="#f41010" stroke-width="0.8" fill="none"/>
<path d="M655.8 14.2H660.2M658.0 12.0V16.4M656.4 12.6L659.6 15.8M656.4 15.8L659.6 12.6" stroke="#f41010" stroke-width="0.8" fill="none"/>
<circle cx="653.6" cy="13.9" r="0.8" fill="#000"/>
<circle cx="659.3" cy="13.9" r="0.8" fill="#000"/>
<circle cx="653.8" cy="17.5" r="0.8" fill="#000"/>
<circle cx="657.1" cy="19.5" r="0.8" fill="#000"/>
<circle cx="655.8" cy="21.5" r="0.8" fill="#000"/>
<circle cx="656.2" cy="23.5" r="0.8" fill="#000"/>
<circle cx="656.1" cy="25.5" r="0.8" fill="#000"/>
<circle cx="656.4" cy="27.5" r="0.8" fill="#000"/>
<circle cx="655.5" cy="29.5" r="0.8" fill="#000"/>
<circle cx="653.2" cy="31.5" r="0.8" fill="#000"/>
<circle cx="656.9" cy="33.5" r="0.8" fill="#000"/>
<circle cx="656.7" cy="35.5" r="0.8" fill="#000"/>
<circle cx="655.5" cy="37.5" r="0.8" fill="#000"/>
<circle cx="655.7" cy="39.5" r="0.8" fill="#000"/>
<circle cx="656.2" cy="41.5" r="0.8" fill="#000"/>
<circle cx="653.5" cy="43.5" r="0.8" fill="#000"/>
<circle cx="656.6" cy="45.5" r="0.8" fill="#000"/>
<circle cx="654.3" cy="47.5" r="0.8" fill="#000"/>
<circle cx="653.5" cy="49.5" r="0.8" fill="#000"/>
<circle cx="654.4" cy="51.5" r="0.8" fill="#000"/>
<circle cx="656.5" cy="53.5" r="0.8" fill="#000"/>
<circle cx="654.1" cy="55.5" r="0.8" fill="#000"/>
<circle cx="656.5" cy="57.5" r="0.8" fill="#000"/>
<circle cx="657.6" cy="59.5" r="0.8" fill="#000"/>
<circle cx="655.4" cy="61.5" r="0.8" fill="#000"/>
<circle cx="654.8" cy="63.5" r="0.8" fill="#000"/>
<circle cx="655.3" cy="65.5" r="0.8" fill="#000"/>
<circle cx="656.2" cy="67.5" r="0.8" fill="#000"/>
<circle cx="656.6" cy="69.5" r="0.8" fill="#000"/>
<circle cx="655.9" cy="71.5" r="0.8" fill="#000"/>
<circle cx="656.0" cy="73.5" r="0.8" fill="#000"/>
<circle cx="653.4" cy="75.5" r="0.8" fill="#000"/>
<circle cx="653.7" cy="77.5" r="0.8" fill="#000"/>
<circle cx="654.2" cy="79.5" r="0.8" fill="#000"/>
<circle cx="656.4" cy="81.5" r="0.8" fill="#000"/>
<circle cx="654.4" cy="83.5" r="0.8" fill="#000"/>
<circle cx="655.6" cy="85.5" r="0.8" fill="#000"/>
<circle cx="653.0" cy="87.5" r="0.8" fill="#000"/>
<circle cx="653.2" cy="89.5" r="0.8" fill="#000"/>
<circle cx="654.2" cy="91.5" r="0.8" fill="#000"/>
<circle cx="656.0" cy="93.5" r="0.8" fill="#000"/>
<circle cx="656.1" cy="95.5" r="0.8" fill="#000"/>
<circle cx="656.0" cy="97.5" r="0.8" fill="#000"/>
<circle cx="654.1" cy="99.5" r="0.8" fill="#000"/>
<circle cx="655.1" cy="101.5" r="0.8" fill="#000"/>
<circle cx="654.6" cy="103.5" r="0.8" fill="#000"/>
<circle cx="654.9" cy="103.0" r="0.8" fill="#000"/>
<circle cx="653.3" cy="105.0" r="0.8" fill="#000"/>
<circle cx="654.4" cy="106.9" r="0.8" fill="#000"/>
<circle cx="652.0" cy="108.9" r="0.8" fill="#000"/>
<circle cx="653.9" cy="110.9" r="0.8" fill="#000"/>
<circle cx="654.1" cy="113.0" r="0.8" fill="#000"/>
<circle cx="652.2" cy="115.1" r="0.8" fill="#000"/>
<circle cx="652.4" cy="116.9" r="0.8" fill="#000"/>
<circle cx="652.0" cy="118.5" r="0.8" fill="#000"/>
<circle cx="651.2" cy="120.2" r="0.8" fill="#000"/>
<circle cx="649.0" cy="122.1" r="0.8" fill="#000"/>
<circle cx="647.7" cy="124.1" r="0.8" fill="#000"/>
<circle cx="646.9" cy="126.0" r="0.8" fill="#000"/>
<circle cx="648.3" cy="128.1" r="0.8" fill="#000"/>
<circle cx="646.2" cy="130.2" r="0.8" fill="#000"/>
<circle cx="646.8" cy="132.2" r="0.8" fill="#000"/>
<circle cx="644.6" cy="133.7" r="0.8" fill="#000"/>
<circle cx="643.6" cy="134.6" r="0.8" fill="#000"/>
<circle cx="642.7" cy="135.4" r="0.8" fill="#000"/>
<circle cx="638.8" cy="136.2" r="0.8" fill="#000"/>
<circle cx="638.8" cy="137.5" r="0.8" fill="#000"/>
<circle cx="636.6" cy="139.0" r="0.8" fill="#000"/>
<circle cx="636.0" cy="140.5" r="0.8" fill="#000"/>
<circle cx="634.3" cy="142.1" r="0.8" fill="#000"/>
<circle cx="632.3" cy="144.0" r="0.8" fill="#000"/>
<circle cx="633.0" cy="145.9" r="0.8" fill="#000"/>
<circle cx="630.7" cy="147.5" r="0.8" fill="#000"/>
<circle cx="627.9" cy="148.7" r="0.8" fill="#000"/>
<circle cx="626.2" cy="150.0" r="0.8" fill="#000"/>
<circle cx="626.2" cy="151.6" r="0.8" fill="#000"/>
<circle cx="625.9" cy="153.7" r="0.8" fill="#000"/>
<circle cx="625.4" cy="155.7" r="0.8" fill="#000"/>
<circle cx="624.4" cy="157.7" r="0.8" fill="#000"/>
<circle cx="623.5" cy="159.3" r="0.8" fill="#000"/>
<circle cx="622.1" cy="160.9" r="0.8" fill="#000"/>
<circle cx="622.0" cy="162.4" r="0.8" fill="#000"/>
<circle cx="620.6" cy="164.3" r="0.8" fill="#000"/>
<circle cx="623.4" cy="166.2" r="0.8" fill="#000"/>
<circle cx="624.5" cy="168.1" r="0.8" fill="#000"/>
<circle cx="624.5" cy="169.2" r="0.8" fill="#000"/>
<circle cx="628.3" cy="170.2" r="0.8" fill="#000"/>
<circle cx="629.6" cy="171.3" r="0.8" fill="#000"/>
<circle cx="631.2" cy="172.9" r="0.8" fill="#000"/>
<circle cx="630.6" cy="174.8" r="0.8" fill="#000"/>
<circle cx="631.8" cy="176.7" r="0.8" fill="#000"/>
<circle cx="633.1" cy="178.2" r="0.8" fill="#000"/>
<circle cx="636.5" cy="179.0" r="0.8" fill="#000"/>
<circle cx="637.5" cy="179.8" r="0.8" fill="#000"/>
<circle cx="638.9" cy="180.6" r="0.8" fill="#000"/>
<circle cx="641.0" cy="181.4" r="0.8" fill="#000"/>
<circle cx="642.5" cy="182.3" r="0.8" fill="#000"/>
<circle cx="643.9" cy="183.1" r="0.8" fill="#000"/>
<circle cx="645.7" cy="184.3" r="0.8" fill="#000"/>
<circle cx="649.2" cy="185.6" r="0.8" fill="#000"/>
<circle cx="649.5" cy="186.8" r="0.8" fill="#000"/>
<circle cx="652.1" cy="188.5" r="0.8" fill="#000"/>
<circle cx="650.9" cy="190.6" r="0.8" fill="#000"/>
<circle cx="651.4" cy="192.6" r="0.8" fill="#000"/>
<circle cx="653.2" cy="194.3" r="0.8" fill="#000"/>
<circle cx="653.6" cy="196.0" r="0.8" fill="#000"/>
<circle cx="654.2" cy="197.8" r="0.8" fill="#000"/>
<circle cx="659.2" cy="116.7" r="0.8" fill="#000"/>
<circle cx="651.3" cy="46.5" r="0.8" fill="#000"/>
<circle cx="651.5" cy="66.5" r="0.8" fill="#000"/>
<circle cx="181.2" cy="297.0" r="1.05" fill="#000"/>
<path d="M179.1 311.0H183.3M181.2 308.9V313.1M179.7 309.5L182.7 312.5M179.7 312.5L182.7 309.5" stroke="#55e6dc" stroke-width="0.5" fill="none"/>
<circle cx="181.2" cy="311.0" r="0.57" fill="#3fd9cf"/>
<path d="M179.1 324.8H183.3M181.2 322.7V326.9M179.7 323.3L182.7 326.3M179.7 326.3L182.7 323.3" stroke="#dc1010" stroke-width="0.42" fill="none"/>
<circle cx="181.2" cy="324.8" r="0.57" fill="#b80f0f"/>
<g font-family="'Liberation Sans', sans-serif" font-size="11.25" font-weight="bold">
<text x="195.8" y="300.9" fill="#000">Passed</text>
<text x="195.8" y="314.8" fill="#55e6dc">Pitch Test</text>
<text x="195.8" y="328.7" fill="#f02020">Gradient Test</text>
</g>
<path d="M51.7 281.9H56.9M54.3 279.3V284.5M52.5 280.1L56.1 283.7M52.5 283.7L56.1 280.1" stroke="#dc1010" stroke-width="0.6" fill="none"/>
<circle cx="54.3" cy="281.9" r="0.70" fill="#b80f0f"/>
<path d="M57.4 281.9H62.6M60.0 279.3V284.5M58.2 280.1L61.8 283.7M58.2 283.7L61.8 280.1" stroke="#dc1010" stroke-width="0.6" fill="none"/>
<circle cx="60.0" cy="281.9" r="0.70" fill="#b80f0f"/>
<path d="M62.4 282.6H67.6M65.0 280.0V285.2M63.2 280.8L66.8 284.4M63.2 284.4L66.8 280.8" stroke="#dc1010" stroke-width="0.6" fill="none"/>
<circle cx="65.0" cy="282.6" r="0.70" fill="#b80f0f"/>
<path d="M71.2 281.9H76.4M73.8 279.3V284.5M72.0 280.1L75.6 283.7M72.0 283.7L75.6 280.1" stroke="#dc1010" stroke-width="0.6" fill="none"/>
<circle cx="73.8" cy="281.9" r="0.70" fill="#b80f0f"/>
<path d="M54.4 282.3H59.6M57.0 279.7V284.9M55.2 280.5L58.8 284.1M55.2 284.1L58.8 280.5" stroke="#dc1010" stroke-width="0.6" fill="none"/>
<circle cx="57.0" cy="282.3" r="0.70" fill="#b80f0f"/>
<circle cx="52.2" cy="286.6" r="0.95" fill="#000"/>
<circle cx="56.3" cy="283.5" r="0.95" fill="#000"/>
<circle cx="67.9" cy="288.8" r="0.95" fill="#000"/>
<circle cx="85.7" cy="291.9" r="0.95" fill="#000"/>
<circle cx="96.9" cy="294.5" r="0.95" fill="#000"/>
<circle cx="106.7" cy="297.9" r="0.95" fill="#000"/>
<circle cx="111.5" cy="299.8" r="0.95" fill="#000"/>
<circle cx="116.2" cy="301.4" r="0.95" fill="#000"/>
<circle cx="119.3" cy="302.4" r="0.95" fill="#000"/>
<circle cx="122.3" cy="303.8" r="0.95" fill="#000"/>
<circle cx="125.3" cy="304.8" r="0.95" fill="#000"/>
<circle cx="127.5" cy="305.4" r="0.95" fill="#000"/>
<circle cx="129.4" cy="306.0" r="0.95" fill="#000"/>
<circle cx="131.4" cy="306.5" r="0.95" fill="#000"/>
<circle cx="133.0" cy="307.4" r="0.95" fill="#000"/>
<circle cx="134.5" cy="308.5" r="0.95" fill="#000"/>
<circle cx="134.0" cy="309.6" r="0.95" fill="#000"/>
<circle cx="133.5" cy="310.5" r="0.95" fill="#000"/>
<circle cx="132.6" cy="311.3" r="0.95" fill="#000"/>
<circle cx="132.0" cy="312.2" r="0.95" fill="#000"/>
<circle cx="129.0" cy="371.4" r="0.95" fill="#000"/>
<path d="M132.7 308.2H135.9M134.3 306.6V309.8M133.2 307.1L135.4 309.3M133.2 309.3L135.4 307.1" stroke="#dc1010" stroke-width="0.6" fill="none"/>
<circle cx="134.3" cy="308.2" r="0.43" fill="#b80f0f"/>
<circle cx="127.1" cy="314.0" r="1.0" fill="#000"/>
<circle cx="126.9" cy="315.2" r="1.0" fill="#000"/>
<circle cx="126.6" cy="316.5" r="1.0" fill="#000"/>
<circle cx="126.3" cy="317.7" r="1.0" fill="#000"/>
<circle cx="126.3" cy="318.9" r="1.0" fill="#000"/>
<circle cx="126.1" cy="320.2" r="1.0" fill="#000"/>
<circle cx="125.7" cy="321.4" r="1.0" fill="#000"/>
<circle cx="125.7" cy="322.7" r="1.0" fill="#000"/>
<circle cx="125.1" cy="323.9" r="1.0" fill="#000"/>
<circle cx="125.4" cy="325.1" r="1.0" fill="#000"/>
<circle cx="125.0" cy="326.4" r="1.0" fill="#000"/>
<circle cx="125.1" cy="327.6" r="1.0" fill="#000"/>
<circle cx="125.0" cy="328.9" r="1.0" fill="#000"/>
<circle cx="124.7" cy="330.1" r="1.0" fill="#000"/>
<circle cx="124.5" cy="331.4" r="1.0" fill="#000"/>
<circle cx="125.0" cy="332.6" r="1.0" fill="#000"/>
<circle cx="124.4" cy="333.9" r="1.0" fill="#000"/>
<circle cx="124.6" cy="335.1" r="1.0" fill="#000"/>
<circle cx="124.5" cy="336.4" r="1.0" fill="#000"/>
<circle cx="124.4" cy="337.6" r="1.0" fill="#000"/>
<circle cx="124.7" cy="338.9" r="1.0" fill="#000"/>
<circle cx="124.8" cy="340.1" r="1.0" fill="#000"/>
<circle cx="124.4" cy="341.4" r="1.0" fill="#000"/>
<circle cx="124.7" cy="342.6" r="1.0" fill="#000"/>
<circle cx="124.4" cy="343.9" r="1.0" fill="#000"/>
<circle cx="124.6" cy="345.1" r="1.0" fill="#000"/>
<circle cx="124.5" cy="346.4" r="1.0" fill="#000"/>
<circle cx="124.4" cy="347.6" r="1.0" fill="#000"/>
<circle cx="124.4" cy="348.9" r="1.0" fill="#000"/>
<circle cx="124.5" cy="350.1" r="1.0" fill="#000"/>
<circle cx="125.0" cy="351.4" r="1.0" fill="#000"/>
<circle cx="124.7" cy="352.6" r="1.0" fill="#000"/>
<circle cx="124.7" cy="353.8" r="1.0" fill="#000"/>
<circle cx="125.3" cy="355.1" r="1.0" fill="#000"/>
<circle cx="125.5" cy="356.3" r="1.0" fill="#000"/>
<circle cx="125.2" cy="357.6" r="1.0" fill="#000"/>
<circle cx="125.2" cy="358.8" r="1.0" fill="#000"/>
<circle cx="125.7" cy="360.0" r="1.0" fill="#000"/>
<circle cx="126.0" cy="361.2" r="1.0" fill="#000"/>
<circle cx="126.6" cy="362.4" r="1.0" fill="#000"/>
<circle cx="126.8" cy="363.5" r="1.0" fill="#000"/>
<circle cx="127.6" cy="364.6" r="1.0" fill="#000"/>
<circle cx="128.2" cy="365.7" r="1.0" fill="#000"/>
<circle cx="129.1" cy="366.8" r="1.0" fill="#000"/>
<circle cx="130.1" cy="367.7" r="1.0" fill="#000"/>
<circle cx="130.9" cy="368.5" r="1.0" fill="#000"/>
<circle cx="131.6" cy="369.3" r="1.0" fill="#000"/>
<path d="M133.3 368.7H138.5M135.9 366.1V371.3M134.1 366.9L137.7 370.5M134.1 370.5L137.7 366.9" stroke="#55e6dc" stroke-width="0.6" fill="none"/>
<circle cx="135.9" cy="368.7" r="0.70" fill="#3fd9cf"/>
<path d="M132.4 371.6H137.6M135.0 369.0V374.2M133.2 369.8L136.8 373.4M133.2 373.4L136.8 369.8" stroke="#55e6dc" stroke-width="0.6" fill="none"/>
<circle cx="135.0" cy="371.6" r="0.70" fill="#3fd9cf"/>
<path d="M137.6 372.8H142.8M140.2 370.2V375.4M138.4 371.0L142.0 374.6M138.4 374.6L142.0 371.0" stroke="#55e6dc" stroke-width="0.6" fill="none"/>
<circle cx="140.2" cy="372.8" r="0.70" fill="#3fd9cf"/>
<path d="M140.3 373.7H145.5M142.9 371.1V376.3M141.1 371.9L144.7 375.5M141.1 375.5L144.7 371.9" stroke="#55e6dc" stroke-width="0.6" fill="none"/>
<circle cx="142.9" cy="373.7" r="0.70" fill="#3fd9cf"/>
<path d="M135.3 377.4H140.5M137.9 374.8V380.0M136.1 375.6L139.7 379.2M136.1 379.2L139.7 375.6" stroke="#55e6dc" stroke-width="0.6" fill="none"/>
<circle cx="137.9" cy="377.4" r="0.70" fill="#3fd9cf"/>
<path d="M142.9 383.8H148.1M145.5 381.2V386.4M143.7 382.0L147.3 385.6M143.7 385.6L147.3 382.0" stroke="#55e6dc" stroke-width="0.6" fill="none"/>
<circle cx="145.5" cy="383.8" r="0.70" fill="#3fd9cf"/>
<path d="M138.2 384.4H143.4M140.8 381.8V387.0M139.0 382.6L142.6 386.2M139.0 386.2L142.6 382.6" stroke="#55e6dc" stroke-width="0.6" fill="none"/>
<circle cx="140.8" cy="384.4" r="0.70" fill="#3fd9cf"/>
<path d="M133.0 385.0H138.2M135.6 382.4V387.6M133.8 383.2L137.4 386.8M133.8 386.8L137.4 383.2" stroke="#55e6dc" stroke-width="0.6" fill="none"/>
<circle cx="135.6" cy="385.0" r="0.70" fill="#3fd9cf"/>
<path d="M137.6 390.8H142.8M140.2 388.2V393.4M138.4 389.0L142.0 392.6M138.4 392.6L142.0 389.0" stroke="#55e6dc" stroke-width="0.6" fill="none"/>
<circle cx="140.2" cy="390.8" r="0.70" fill="#3fd9cf"/>
<path d="M135.3 394.2H140.5M137.9 391.6V396.8M136.1 392.4L139.7 396.0M136.1 396.0L139.7 392.4" stroke="#55e6dc" stroke-width="0.6" fill="none"/>
<circle cx="137.9" cy="394.2" r="0.70" fill="#3fd9cf"/>
<path d="M145.8 394.2H151.0M148.4 391.6V396.8M146.6 392.4L150.2 396.0M146.6 396.0L150.2 392.4" stroke="#55e6dc" stroke-width="0.6" fill="none"/>
<circle cx="148.4" cy="394.2" r="0.70" fill="#3fd9cf"/>
<path d="M144.0 397.7H149.2M146.6 395.1V400.3M144.8 395.9L148.4 399.5M144.8 399.5L148.4 395.9" stroke="#55e6dc" stroke-width="0.6" fill="none"/>
<circle cx="146.6" cy="397.7" r="0.70" fill="#3fd9cf"/>
<path d="M137.1 423.3H142.3M139.7 420.7V425.9M137.9 421.5L141.5 425.1M137.9 425.1L141.5 421.5" stroke="#55e6dc" stroke-width="0.6" fill="none"/>
<circle cx="139.7" cy="423.3" r="0.70" fill="#3fd9cf"/>
<path d="M138.8 429.7H144.0M141.4 427.1V432.3M139.6 427.9L143.2 431.5M139.6 431.5L143.2 427.9" stroke="#55e6dc" stroke-width="0.6" fill="none"/>
<circle cx="141.4" cy="429.7" r="0.70" fill="#3fd9cf"/>
<path d="M131.8 436.7H137.0M134.4 434.1V439.3M132.6 434.9L136.2 438.5M132.6 438.5L136.2 434.9" stroke="#55e6dc" stroke-width="0.6" fill="none"/>
<circle cx="134.4" cy="436.7" r="0.70" fill="#3fd9cf"/>
<path d="M140.5 437.3H145.7M143.1 434.7V439.9M141.3 435.5L144.9 439.1M141.3 439.1L144.9 435.5" stroke="#55e6dc" stroke-width="0.6" fill="none"/>
<circle cx="143.1" cy="437.3" r="0.70" fill="#3fd9cf"/>
<path d="M146.3 438.4H151.5M148.9 435.8V441.0M147.1 436.6L150.7 440.2M147.1 440.2L150.7 436.6" stroke="#55e6dc" stroke-width="0.6" fill="none"/>
<circle cx="148.9" cy="438.4" r="0.70" fill="#3fd9cf"/>
<path d="M133.0 446.6H138.2M135.6 444.0V449.2M133.8 444.8L137.4 448.4M133.8 448.4L137.4 444.8" stroke="#55e6dc" stroke-width="0.6" fill="none"/>
<circle cx="135.6" cy="446.6" r="0.70" fill="#3fd9cf"/>
<path d="M137.6 455.3H142.8M140.2 452.7V457.9M138.4 453.5L142.0 457.1M138.4 457.1L142.0 453.5" stroke="#55e6dc" stroke-width="0.6" fill="none"/>
<circle cx="140.2" cy="455.3" r="0.70" fill="#3fd9cf"/>
<path d="M142.9 457.0H148.1M145.5 454.4V459.6M143.7 455.2L147.3 458.8M143.7 458.8L147.3 455.2" stroke="#55e6dc" stroke-width="0.6" fill="none"/>
<circle cx="145.5" cy="457.0" r="0.70" fill="#3fd9cf"/>
<path d="M133.8 463.4H139.0M136.4 460.8V466.0M134.6 461.6L138.2 465.2M134.6 465.2L138.2 461.6" stroke="#55e6dc" stroke-width="0.6" fill="none"/>
<circle cx="136.4" cy="463.4" r="0.70" fill="#3fd9cf"/>
<path d="M148.1 374.5H153.3M150.7 371.9V377.1M148.9 372.7L152.5 376.3M148.9 376.3L152.5 372.7" stroke="#dc1010" stroke-width="0.6" fill="none"/>
<circle cx="150.7" cy="374.5" r="0.70" fill="#b80f0f"/>
<path d="M139.4 377.4H144.6M142.0 374.8V380.0M140.2 375.6L143.8 379.2M140.2 379.2L143.8 375.6" stroke="#dc1010" stroke-width="0.6" fill="none"/>
<circle cx="142.0" cy="377.4" r="0.70" fill="#b80f0f"/>
<path d="M145.2 379.1H150.4M147.8 376.5V381.7M146.0 377.3L149.6 380.9M146.0 380.9L149.6 377.3" stroke="#dc1010" stroke-width="0.6" fill="none"/>
<circle cx="147.8" cy="379.1" r="0.70" fill="#b80f0f"/>
<path d="M133.8 381.5H139.0M136.4 378.9V384.1M134.6 379.7L138.2 383.3M134.6 383.3L138.2 379.7" stroke="#dc1010" stroke-width="0.6" fill="none"/>
<circle cx="136.4" cy="381.5" r="0.70" fill="#b80f0f"/>
<path d="M138.2 381.5H143.4M140.8 378.9V384.1M139.0 379.7L142.6 383.3M139.0 383.3L142.6 379.7" stroke="#dc1010" stroke-width="0.6" fill="none"/>
<circle cx="140.8" cy="381.5" r="0.70" fill="#b80f0f"/>
<path d="M141.1 387.9H146.3M143.7 385.3V390.5M141.9 386.1L145.5 389.7M141.9 389.7L145.5 386.1" stroke="#dc1010" stroke-width="0.6" fill="none"/>
<circle cx="143.7" cy="387.9" r="0.70" fill="#b80f0f"/>
<path d="M135.9 389.0H141.1M138.5 386.4V391.6M136.7 387.2L140.3 390.8M136.7 390.8L140.3 387.2" stroke="#dc1010" stroke-width="0.6" fill="none"/>
<circle cx="138.5" cy="389.0" r="0.70" fill="#b80f0f"/>
<path d="M144.6 390.8H149.8M147.2 388.2V393.4M145.4 389.0L149.0 392.6M145.4 392.6L149.0 389.0" stroke="#dc1010" stroke-width="0.6" fill="none"/>
<circle cx="147.2" cy="390.8" r="0.70" fill="#b80f0f"/>
<path d="M123.1 396.0H128.3M125.7 393.4V398.6M123.9 394.2L127.5 397.8M123.9 397.8L127.5 394.2" stroke="#dc1010" stroke-width="0.6" fill="none"/>
<circle cx="125.7" cy="396.0" r="0.70" fill="#b80f0f"/>
<path d="M134.2 397.1H139.4M136.8 394.5V399.7M135.0 395.3L138.6 398.9M135.0 398.9L138.6 395.3" stroke="#dc1010" stroke-width="0.6" fill="none"/>
<circle cx="136.8" cy="397.1" r="0.70" fill="#b80f0f"/>
<path d="M150.4 397.7H155.6M153.0 395.1V400.3M151.2 395.9L154.8 399.5M151.2 399.5L154.8 395.9" stroke="#dc1010" stroke-width="0.6" fill="none"/>
<circle cx="153.0" cy="397.7" r="0.70" fill="#b80f0f"/>
<path d="M140.0 400.0H145.2M142.6 397.4V402.6M140.8 398.2L144.4 401.8M140.8 401.8L144.4 398.2" stroke="#dc1010" stroke-width="0.6" fill="none"/>
<circle cx="142.6" cy="400.0" r="0.70" fill="#b80f0f"/>
<path d="M145.2 401.2H150.4M147.8 398.6V403.8M146.0 399.4L149.6 403.0M146.0 403.0L149.6 399.4" stroke="#dc1010" stroke-width="0.6" fill="none"/>
<circle cx="147.8" cy="401.2" r="0.70" fill="#b80f0f"/>
<path d="M126.0 402.9H131.2M128.6 400.3V405.5M126.8 401.1L130.4 404.7M126.8 404.7L130.4 401.1" stroke="#dc1010" stroke-width="0.6" fill="none"/>
<circle cx="128.6" cy="402.9" r="0.70" fill="#b80f0f"/>
<path d="M131.8 402.9H137.0M134.4 400.3V405.5M132.6 401.1L136.2 404.7M132.6 404.7L136.2 401.1" stroke="#dc1010" stroke-width="0.6" fill="none"/>
<circle cx="134.4" cy="402.9" r="0.70" fill="#b80f0f"/>
<path d="M141.7 404.7H146.9M144.3 402.1V407.3M142.5 402.9L146.1 406.5M142.5 406.5L146.1 402.9" stroke="#dc1010" stroke-width="0.6" fill="none"/>
<circle cx="144.3" cy="404.7" r="0.70" fill="#b80f0f"/>
<path d="M149.8 404.1H155.0M152.4 401.5V406.7M150.6 402.3L154.2 405.9M150.6 405.9L154.2 402.3" stroke="#dc1010" stroke-width="0.6" fill="none"/>
<circle cx="152.4" cy="404.1" r="0.70" fill="#b80f0f"/>
<path d="M135.3 407.0H140.5M137.9 404.4V409.6M136.1 405.2L139.7 408.8M136.1 408.8L139.7 405.2" stroke="#dc1010" stroke-width="0.6" fill="none"/>
<circle cx="137.9" cy="407.0" r="0.70" fill="#b80f0f"/>
<path d="M137.6 407.6H142.8M140.2 405.0V410.2M138.4 405.8L142.0 409.4M138.4 409.4L142.0 405.8" stroke="#dc1010" stroke-width="0.6" fill="none"/>
<circle cx="140.2" cy="407.6" r="0.70" fill="#b80f0f"/>
<path d="M141.7 409.3H146.9M144.3 406.7V411.9M142.5 407.5L146.1 411.1M142.5 411.1L146.1 407.5" stroke="#dc1010" stroke-width="0.6" fill="none"/>
<circle cx="144.3" cy="409.3" r="0.70" fill="#b80f0f"/>
<path d="M144.6 409.9H149.8M147.2 407.3V412.5M145.4 408.1L149.0 411.7M145.4 411.7L149.0 408.1" stroke="#dc1010" stroke-width="0.6" fill="none"/>
<circle cx="147.2" cy="409.9" r="0.70" fill="#b80f0f"/>
<path d="M134.2 411.6H139.4M136.8 409.0V414.2M135.0 409.8L138.6 413.4M135.0 413.4L138.6 409.8" stroke="#dc1010" stroke-width="0.6" fill="none"/>
<circle cx="136.8" cy="411.6" r="0.70" fill="#b80f0f"/>
<path d="M137.1 413.4H142.3M139.7 410.8V416.0M137.9 411.6L141.5 415.2M137.9 415.2L141.5 411.6" stroke="#dc1010" stroke-width="0.6" fill="none"/>
<circle cx="139.7" cy="413.4" r="0.70" fill="#b80f0f"/>
<path d="M146.3 414.0H151.5M148.9 411.4V416.6M147.1 412.2L150.7 415.8M147.1 415.8L150.7 412.2" stroke="#dc1010" stroke-width="0.6" fill="none"/>
<circle cx="148.9" cy="414.0" r="0.70" fill="#b80f0f"/>
<path d="M142.3 413.4H147.5M144.9 410.8V416.0M143.1 411.6L146.7 415.2M143.1 415.2L146.7 411.6" stroke="#dc1010" stroke-width="0.6" fill="none"/>
<circle cx="144.9" cy="413.4" r="0.70" fill="#b80f0f"/>
<path d="M134.7 416.3H139.9M137.3 413.7V418.9M135.5 414.5L139.1 418.1M135.5 418.1L139.1 414.5" stroke="#dc1010" stroke-width="0.6" fill="none"/>
<circle cx="137.3" cy="416.3" r="0.70" fill="#b80f0f"/>
<path d="M138.2 417.4H143.4M140.8 414.8V420.0M139.0 415.6L142.6 419.2M139.0 419.2L142.6 415.6" stroke="#dc1010" stroke-width="0.6" fill="none"/>
<circle cx="140.8" cy="417.4" r="0.70" fill="#b80f0f"/>
<path d="M141.7 418.0H146.9M144.3 415.4V420.6M142.5 416.2L146.1 419.8M142.5 419.8L146.1 416.2" stroke="#dc1010" stroke-width="0.6" fill="none"/>
<circle cx="144.3" cy="418.0" r="0.70" fill="#b80f0f"/>
<path d="M142.3 411.2H147.5M144.9 408.6V413.8M143.1 409.4L146.7 413.0M143.1 413.0L146.7 409.4" stroke="#dc1010" stroke-width="0.6" fill="none"/>
<circle cx="144.9" cy="411.2" r="0.70" fill="#b80f0f"/>
<path d="M146.3 414.6H151.5M148.9 412.0V417.2M147.1 412.8L150.7 416.4M147.1 416.4L150.7 412.8" stroke="#dc1010" stroke-width="0.6" fill="none"/>
<circle cx="148.9" cy="414.6" r="0.70" fill="#b80f0f"/>
<path d="M135.9 415.8H141.1M138.5 413.2V418.4M136.7 414.0L140.3 417.6M136.7 417.6L140.3 414.0" stroke="#dc1010" stroke-width="0.6" fill="none"/>
<circle cx="138.5" cy="415.8" r="0.70" fill="#b80f0f"/>
<path d="M140.5 418.7H145.7M143.1 416.1V421.3M141.3 416.9L144.9 420.5M141.3 420.5L144.9 416.9" stroke="#dc1010" stroke-width="0.6" fill="none"/>
<circle cx="143.1" cy="418.7" r="0.70" fill="#b80f0f"/>
<path d="M142.9 419.9H148.1M145.5 417.3V422.5M143.7 418.1L147.3 421.7M143.7 421.7L147.3 418.1" stroke="#dc1010" stroke-width="0.6" fill="none"/>
<circle cx="145.5" cy="419.9" r="0.70" fill="#b80f0f"/>
<path d="M135.3 421.0H140.5M137.9 418.4V423.6M136.1 419.2L139.7 422.8M136.1 422.8L139.7 419.2" stroke="#dc1010" stroke-width="0.6" fill="none"/>
<circle cx="137.9" cy="421.0" r="0.70" fill="#b80f0f"/>
<path d="M140.0 423.9H145.2M142.6 421.3V426.5M140.8 422.1L144.4 425.7M140.8 425.7L144.4 422.1" stroke="#dc1010" stroke-width="0.6" fill="none"/>
<circle cx="142.6" cy="423.9" r="0.70" fill="#b80f0f"/>
<path d="M141.1 428.0H146.3M143.7 425.4V430.6M141.9 426.2L145.5 429.8M141.9 429.8L145.5 426.2" stroke="#dc1010" stroke-width="0.6" fill="none"/>
<circle cx="143.7" cy="428.0" r="0.70" fill="#b80f0f"/>
<path d="M136.5 431.5H141.7M139.1 428.9V434.1M137.3 429.7L140.9 433.3M137.3 433.3L140.9 429.7" stroke="#dc1010" stroke-width="0.6" fill="none"/>
<circle cx="139.1" cy="431.5" r="0.70" fill="#b80f0f"/>
<path d="M140.0 433.2H145.2M142.6 430.6V435.8M140.8 431.4L144.4 435.0M140.8 435.0L144.4 431.4" stroke="#dc1010" stroke-width="0.6" fill="none"/>
<circle cx="142.6" cy="433.2" r="0.70" fill="#b80f0f"/>
<path d="M131.3 435.0H136.5M133.9 432.4V437.6M132.1 433.2L135.7 436.8M132.1 436.8L135.7 433.2" stroke="#dc1010" stroke-width="0.6" fill="none"/>
<circle cx="133.9" cy="435.0" r="0.70" fill="#b80f0f"/>
<path d="M131.3 440.2H136.5M133.9 437.6V442.8M132.1 438.4L135.7 442.0M132.1 442.0L135.7 438.4" stroke="#dc1010" stroke-width="0.6" fill="none"/>
<circle cx="133.9" cy="440.2" r="0.70" fill="#b80f0f"/>
<path d="M134.2 441.3H139.4M136.8 438.7V443.9M135.0 439.5L138.6 443.1M135.0 443.1L138.6 439.5" stroke="#dc1010" stroke-width="0.6" fill="none"/>
<circle cx="136.8" cy="441.3" r="0.70" fill="#b80f0f"/>
<path d="M146.3 443.1H151.5M148.9 440.5V445.7M147.1 441.3L150.7 444.9M147.1 444.9L150.7 441.3" stroke="#dc1010" stroke-width="0.6" fill="none"/>
<circle cx="148.9" cy="443.1" r="0.70" fill="#b80f0f"/>
<path d="M142.9 444.2H148.1M145.5 441.6V446.8M143.7 442.4L147.3 446.0M143.7 446.0L147.3 442.4" stroke="#dc1010" stroke-width="0.6" fill="none"/>
<circle cx="145.5" cy="444.2" r="0.70" fill="#b80f0f"/>
<path d="M139.4 444.8H144.6M142.0 442.2V447.4M140.2 443.0L143.8 446.6M140.2 446.6L143.8 443.0" stroke="#dc1010" stroke-width="0.6" fill="none"/>
<circle cx="142.0" cy="444.8" r="0.70" fill="#b80f0f"/>
<path d="M135.3 446.0H140.5M137.9 443.4V448.6M136.1 444.2L139.7 447.8M136.1 447.8L139.7 444.2" stroke="#dc1010" stroke-width="0.6" fill="none"/>
<circle cx="137.9" cy="446.0" r="0.70" fill="#b80f0f"/>
<path d="M140.5 447.7H145.7M143.1 445.1V450.3M141.3 445.9L144.9 449.5M141.3 449.5L144.9 445.9" stroke="#dc1010" stroke-width="0.6" fill="none"/>
<circle cx="143.1" cy="447.7" r="0.70" fill="#b80f0f"/>
<path d="M148.1 449.2H153.3M150.7 446.6V451.8M148.9 447.4L152.5 451.0M148.9 451.0L152.5 447.4" stroke="#dc1010" stroke-width="0.6" fill="none"/>
<circle cx="150.7" cy="449.2" r="0.70" fill="#b80f0f"/>
<path d="M137.1 450.6H142.3M139.7 448.0V453.2M137.9 448.8L141.5 452.4M137.9 452.4L141.5 448.8" stroke="#dc1010" stroke-width="0.6" fill="none"/>
<circle cx="139.7" cy="450.6" r="0.70" fill="#b80f0f"/>
<path d="M141.1 453.5H146.3M143.7 450.9V456.1M141.9 451.7L145.5 455.3M141.9 455.3L145.5 451.7" stroke="#dc1010" stroke-width="0.6" fill="none"/>
<circle cx="143.7" cy="453.5" r="0.70" fill="#b80f0f"/>
<path d="M137.6 458.7H142.8M140.2 456.1V461.3M138.4 456.9L142.0 460.5M138.4 460.5L142.0 456.9" stroke="#dc1010" stroke-width="0.6" fill="none"/>
<circle cx="140.2" cy="458.7" r="0.70" fill="#b80f0f"/>
<path d="M134.7 459.9H139.9M137.3 457.3V462.5M135.5 458.1L139.1 461.7M135.5 461.7L139.1 458.1" stroke="#dc1010" stroke-width="0.6" fill="none"/>
<circle cx="137.3" cy="459.9" r="0.70" fill="#b80f0f"/>
<path d="M140.0 461.1H145.2M142.6 458.5V463.7M140.8 459.3L144.4 462.9M140.8 462.9L144.4 459.3" stroke="#dc1010" stroke-width="0.6" fill="none"/>
<circle cx="142.6" cy="461.1" r="0.70" fill="#b80f0f"/>
<path d="M144.0 461.1H149.2M146.6 458.5V463.7M144.8 459.3L148.4 462.9M144.8 462.9L148.4 459.3" stroke="#dc1010" stroke-width="0.6" fill="none"/>
<circle cx="146.6" cy="461.1" r="0.70" fill="#b80f0f"/>
<path d="M141.7 465.7H146.9M144.3 463.1V468.3M142.5 463.9L146.1 467.5M142.5 467.5L146.1 463.9" stroke="#dc1010" stroke-width="0.6" fill="none"/>
<circle cx="144.3" cy="465.7" r="0.70" fill="#b80f0f"/>
<path d="M137.1 465.7H142.3M139.7 463.1V468.3M137.9 463.9L141.5 467.5M137.9 467.5L141.5 463.9" stroke="#dc1010" stroke-width="0.6" fill="none"/>
<circle cx="139.7" cy="465.7" r="0.70" fill="#b80f0f"/>
<path d="M138.2 463.4H143.4M140.8 460.8V466.0M139.0 461.6L142.6 465.2M139.0 465.2L142.6 461.6" stroke="#dc1010" stroke-width="0.6" fill="none"/>
<circle cx="140.8" cy="463.4" r="0.70" fill="#b80f0f"/>
<path d="M276.7 281.9H281.1M278.9 279.7V284.1M277.3 280.3L280.5 283.5M277.3 283.5L280.5 280.3" stroke="#f41010" stroke-width="0.8" fill="none"/>
<path d="M277.4 282.2H281.8M279.6 280.0V284.4M278.0 280.6L281.2 283.8M278.0 283.8L281.2 280.6" stroke="#f41010" stroke-width="0.8" fill="none"/>
<circle cx="279.8" cy="285.2" r="0.95" fill="#000"/>
<circle cx="279.8" cy="287.2" r="0.95" fill="#000"/>
<circle cx="279.8" cy="289.2" r="0.95" fill="#000"/>
<circle cx="279.8" cy="291.2" r="0.95" fill="#000"/>
<circle cx="279.8" cy="293.2" r="0.95" fill="#000"/>
<circle cx="279.8" cy="295.2" r="0.95" fill="#000"/>
<circle cx="279.8" cy="297.0" r="1.07" fill="#000"/>
<circle cx="279.8" cy="298.0" r="1.07" fill="#000"/>
<circle cx="279.8" cy="299.0" r="1.07" fill="#000"/>
<circle cx="279.8" cy="300.0" r="1.07" fill="#000"/>
<circle cx="279.8" cy="301.0" r="1.07" fill="#000"/>
<circle cx="279.8" cy="302.0" r="1.07" fill="#000"/>
<circle cx="279.8" cy="303.0" r="1.07" fill="#000"/>
<circle cx="279.8" cy="304.0" r="1.07" fill="#000"/>
<circle cx="279.8" cy="305.0" r="1.07" fill="#000"/>
<circle cx="279.8" cy="306.0" r="1.07" fill="#000"/>
<circle cx="279.8" cy="307.0" r="1.07" fill="#000"/>
<circle cx="279.8" cy="308.0" r="1.07" fill="#000"/>
<circle cx="279.8" cy="309.0" r="1.07" fill="#000"/>
<circle cx="279.8" cy="310.0" r="1.07" fill="#000"/>
<circle cx="279.8" cy="311.0" r="1.07" fill="#000"/>
<circle cx="279.8" cy="312.0" r="1.07" fill="#000"/>
<circle cx="279.8" cy="313.0" r="1.07" fill="#000"/>
<circle cx="279.8" cy="314.0" r="1.07" fill="#000"/>
<circle cx="279.8" cy="315.0" r="1.07" fill="#000"/>
<circle cx="279.8" cy="316.0" r="1.07" fill="#000"/>
<circle cx="279.8" cy="317.0" r="1.07" fill="#000"/>
<circle cx="279.8" cy="318.0" r="1.07" fill="#000"/>
<circle cx="279.8" cy="319.0" r="1.07" fill="#000"/>
<circle cx="279.8" cy="320.0" r="1.07" fill="#000"/>
<circle cx="279.8" cy="321.0" r="1.07" fill="#000"/>
<circle cx="279.8" cy="322.0" r="1.07" fill="#000"/>
<circle cx="279.8" cy="323.0" r="1.07" fill="#000"/>
<circle cx="279.8" cy="324.0" r="1.07" fill="#000"/>
<circle cx="279.8" cy="325.0" r="1.07" fill="#000"/>
<circle cx="279.8" cy="326.0" r="1.07" fill="#000"/>
<circle cx="279.8" cy="327.0" r="1.07" fill="#000"/>
<circle cx="279.8" cy="328.0" r="1.07" fill="#000"/>
<circle cx="279.8" cy="329.0" r="1.07" fill="#000"/>
<circle cx="279.8" cy="330.0" r="1.07" fill="#000"/>
<circle cx="279.8" cy="331.0" r="1.07" fill="#000"/>
<circle cx="279.8" cy="332.0" r="1.07" fill="#000"/>
<circle cx="279.8" cy="333.0" r="1.07" fill="#000"/>
<circle cx="279.8" cy="334.0" r="1.07" fill="#000"/>
<circle cx="279.8" cy="335.0" r="1.07" fill="#000"/>
<circle cx="279.8" cy="336.0" r="1.07" fill="#000"/>
<circle cx="279.8" cy="337.0" r="1.07" fill="#000"/>
<circle cx="279.8" cy="338.0" r="1.07" fill="#000"/>
<circle cx="279.8" cy="339.0" r="1.07" fill="#000"/>
<circle cx="279.8" cy="340.0" r="1.07" fill="#000"/>
<circle cx="279.8" cy="341.0" r="1.07" fill="#000"/>
<circle cx="279.8" cy="342.0" r="1.07" fill="#000"/>
<circle cx="279.8" cy="343.0" r="1.07" fill="#000"/>
<circle cx="279.8" cy="344.0" r="1.07" fill="#000"/>
<circle cx="279.8" cy="345.0" r="1.07" fill="#000"/>
<circle cx="279.8" cy="346.0" r="1.07" fill="#000"/>
<circle cx="279.8" cy="347.0" r="1.07" fill="#000"/>
<circle cx="279.8" cy="348.0" r="1.07" fill="#000"/>
<circle cx="279.8" cy="349.0" r="1.07" fill="#000"/>
<circle cx="279.8" cy="350.0" r="1.07" fill="#000"/>
<circle cx="279.8" cy="351.0" r="1.07" fill="#000"/>
<circle cx="279.6" cy="352.0" r="1.07" fill="#000"/>
<circle cx="279.4" cy="353.0" r="1.07" fill="#000"/>
<circle cx="279.1" cy="354.0" r="1.07" fill="#000"/>
<circle cx="278.9" cy="355.0" r="1.07" fill="#000"/>
<circle cx="277.4" cy="356.4" r="0.95" fill="#000"/>
<circle cx="275.7" cy="357.3" r="0.95" fill="#000"/>
<circle cx="274.2" cy="357.9" r="0.95" fill="#000"/>
<circle cx="272.7" cy="358.4" r="0.95" fill="#000"/>
<circle cx="270.6" cy="359.4" r="0.95" fill="#000"/>
<circle cx="269.0" cy="360.4" r="0.95" fill="#000"/>
<circle cx="267.6" cy="361.4" r="0.95" fill="#000"/>
<circle cx="265.5" cy="363.4" r="0.95" fill="#000"/>
<circle cx="262.1" cy="363.8" r="0.95" fill="#000"/>
<circle cx="254.8" cy="365.1" r="0.95" fill="#000"/>
<circle cx="253.5" cy="366.3" r="0.95" fill="#000"/>
<circle cx="252.3" cy="367.5" r="0.95" fill="#000"/>
<path d="M251.1 366.7H254.7M252.9 364.9V368.5M251.6 365.4L254.2 368.0M251.6 368.0L254.2 365.4" stroke="#55e6dc" stroke-width="0.45" fill="none"/>
<circle cx="252.9" cy="366.7" r="0.49" fill="#3fd9cf"/>
<path d="M249.3 368.5H252.9M251.1 366.7V370.3M249.8 367.3L252.3 369.8M249.8 369.8L252.3 367.3" stroke="#55e6dc" stroke-width="0.45" fill="none"/>
<circle cx="251.1" cy="368.5" r="0.49" fill="#3fd9cf"/>
<path d="M247.4 370.4H251.0M249.2 368.6V372.2M248.0 369.1L250.5 371.6M248.0 371.6L250.5 369.1" stroke="#55e6dc" stroke-width="0.45" fill="none"/>
<circle cx="249.2" cy="370.4" r="0.49" fill="#3fd9cf"/>
<path d="M245.6 372.2H249.2M247.4 370.4V374.0M246.1 370.9L248.7 373.5M246.1 373.5L248.7 370.9" stroke="#55e6dc" stroke-width="0.45" fill="none"/>
<circle cx="247.4" cy="372.2" r="0.49" fill="#3fd9cf"/>
<path d="M243.7 374.1H247.3M245.5 372.3V375.9M244.3 372.8L246.8 375.3M244.3 375.3L246.8 372.8" stroke="#55e6dc" stroke-width="0.45" fill="none"/>
<circle cx="245.5" cy="374.1" r="0.49" fill="#3fd9cf"/>
<path d="M241.9 375.9H245.5M243.7 374.1V377.7M242.4 374.6L245.0 377.2M242.4 377.2L245.0 374.6" stroke="#55e6dc" stroke-width="0.45" fill="none"/>
<circle cx="243.7" cy="375.9" r="0.49" fill="#3fd9cf"/>
<path d="M240.1 377.8H243.7M241.9 376.0V379.6M240.6 376.5L243.2 379.1M240.6 379.1L243.2 376.5" stroke="#55e6dc" stroke-width="0.45" fill="none"/>
<circle cx="241.9" cy="377.8" r="0.49" fill="#3fd9cf"/>
<path d="M238.4 379.7H242.0M240.2 377.9V381.5M238.9 378.4L241.4 381.0M238.9 381.0L241.4 378.4" stroke="#55e6dc" stroke-width="0.45" fill="none"/>
<circle cx="240.2" cy="379.7" r="0.49" fill="#3fd9cf"/>
<path d="M236.6 381.6H240.2M238.4 379.8V383.4M237.1 380.4L239.7 382.9M237.1 382.9L239.7 380.4" stroke="#55e6dc" stroke-width="0.45" fill="none"/>
<circle cx="238.4" cy="381.6" r="0.49" fill="#3fd9cf"/>
<path d="M234.9 383.5H238.5M236.7 381.7V385.3M235.4 382.3L237.9 384.8M235.4 384.8L237.9 382.3" stroke="#55e6dc" stroke-width="0.45" fill="none"/>
<circle cx="236.7" cy="383.5" r="0.49" fill="#3fd9cf"/>
<path d="M233.1 385.5H236.7M234.9 383.7V387.3M233.6 384.2L236.2 386.7M233.6 386.7L236.2 384.2" stroke="#55e6dc" stroke-width="0.45" fill="none"/>
<circle cx="234.9" cy="385.5" r="0.49" fill="#3fd9cf"/>
<path d="M231.4 387.4H235.0M233.2 385.6V389.2M231.9 386.1L234.4 388.7M231.9 388.7L234.4 386.1" stroke="#55e6dc" stroke-width="0.45" fill="none"/>
<circle cx="233.2" cy="387.4" r="0.49" fill="#3fd9cf"/>
<path d="M229.6 389.3H233.2M231.4 387.5V391.1M230.1 388.0L232.6 390.5M230.1 390.5L232.6 388.0" stroke="#55e6dc" stroke-width="0.45" fill="none"/>
<circle cx="231.4" cy="389.3" r="0.49" fill="#3fd9cf"/>
<path d="M227.5 390.9H231.1M229.3 389.1V392.7M228.1 389.6L230.6 392.2M228.1 392.2L230.6 389.6" stroke="#55e6dc" stroke-width="0.45" fill="none"/>
<circle cx="229.3" cy="390.9" r="0.49" fill="#3fd9cf"/>
<path d="M225.5 392.5H229.1M227.3 390.7V394.3M226.0 391.2L228.6 393.8M226.0 393.8L228.6 391.2" stroke="#55e6dc" stroke-width="0.45" fill="none"/>
<circle cx="227.3" cy="392.5" r="0.49" fill="#3fd9cf"/>
<path d="M223.5 394.1H227.1M225.3 392.3V395.9M224.0 392.9L226.5 395.4M224.0 395.4L226.5 392.9" stroke="#55e6dc" stroke-width="0.45" fill="none"/>
<circle cx="225.3" cy="394.1" r="0.49" fill="#3fd9cf"/>
<path d="M221.4 395.8H225.0M223.2 394.0V397.6M222.0 394.5L224.5 397.0M222.0 397.0L224.5 394.5" stroke="#55e6dc" stroke-width="0.45" fill="none"/>
<circle cx="223.2" cy="395.8" r="0.49" fill="#3fd9cf"/>
<path d="M219.4 397.4H223.0M221.2 395.6V399.2M219.9 396.1L222.5 398.7M219.9 398.7L222.5 396.1" stroke="#55e6dc" stroke-width="0.45" fill="none"/>
<circle cx="221.2" cy="397.4" r="0.49" fill="#3fd9cf"/>
<path d="M217.6 399.3H221.2M219.4 397.5V401.1M218.2 398.0L220.7 400.5M218.2 400.5L220.7 398.0" stroke="#55e6dc" stroke-width="0.45" fill="none"/>
<circle cx="219.4" cy="399.3" r="0.49" fill="#3fd9cf"/>
<path d="M215.9 401.2H219.5M217.7 399.4V403.0M216.4 399.9L219.0 402.5M216.4 402.5L219.0 399.9" stroke="#55e6dc" stroke-width="0.45" fill="none"/>
<circle cx="217.7" cy="401.2" r="0.49" fill="#3fd9cf"/>
<path d="M214.2 403.2H217.8M216.0 401.4V405.0M214.7 401.9L217.3 404.4M214.7 404.4L217.3 401.9" stroke="#55e6dc" stroke-width="0.45" fill="none"/>
<circle cx="216.0" cy="403.2" r="0.49" fill="#3fd9cf"/>
<path d="M212.5 405.1H216.1M214.3 403.3V406.9M213.0 403.8L215.6 406.4M213.0 406.4L215.6 403.8" stroke="#55e6dc" stroke-width="0.45" fill="none"/>
<circle cx="214.3" cy="405.1" r="0.49" fill="#3fd9cf"/>
<path d="M210.8 407.1H214.4M212.6 405.3V408.9M211.3 405.8L213.8 408.3M211.3 408.3L213.8 405.8" stroke="#55e6dc" stroke-width="0.45" fill="none"/>
<circle cx="212.6" cy="407.1" r="0.49" fill="#3fd9cf"/>
<path d="M209.0 409.0H212.6M210.8 407.2V410.8M209.6 407.8L212.1 410.3M209.6 410.3L212.1 407.8" stroke="#55e6dc" stroke-width="0.45" fill="none"/>
<circle cx="210.8" cy="409.0" r="0.49" fill="#3fd9cf"/>
<path d="M207.3 411.0H210.9M209.1 409.2V412.8M207.8 409.7L210.4 412.2M207.8 412.2L210.4 409.7" stroke="#55e6dc" stroke-width="0.45" fill="none"/>
<circle cx="209.1" cy="411.0" r="0.49" fill="#3fd9cf"/>
<path d="M205.6 412.9H209.2M207.4 411.1V414.7M206.1 411.6L208.7 414.2M206.1 414.2L208.7 411.6" stroke="#55e6dc" stroke-width="0.45" fill="none"/>
<circle cx="207.4" cy="412.9" r="0.49" fill="#3fd9cf"/>
<path d="M204.1 415.0H207.7M205.9 413.2V416.8M204.6 413.7L207.1 416.2M204.6 416.2L207.1 413.7" stroke="#55e6dc" stroke-width="0.45" fill="none"/>
<circle cx="205.9" cy="415.0" r="0.49" fill="#3fd9cf"/>
<path d="M203.3 417.5H206.9M205.1 415.7V419.3M203.8 416.2L206.4 418.7M203.8 418.7L206.4 416.2" stroke="#55e6dc" stroke-width="0.45" fill="none"/>
<circle cx="205.1" cy="417.5" r="0.49" fill="#3fd9cf"/>
<path d="M204.3 419.3H207.9M206.1 417.5V421.1M204.8 418.1L207.3 420.6M204.8 420.6L207.3 418.1" stroke="#55e6dc" stroke-width="0.45" fill="none"/>
<circle cx="206.1" cy="419.3" r="0.49" fill="#3fd9cf"/>
<path d="M206.4 420.8H210.0M208.2 419.0V422.6M206.9 419.5L209.5 422.1M206.9 422.1L209.5 419.5" stroke="#55e6dc" stroke-width="0.45" fill="none"/>
<circle cx="208.2" cy="420.8" r="0.49" fill="#3fd9cf"/>
<path d="M205.6 423.0H209.2M207.4 421.2V424.8M206.1 421.7L208.7 424.2M206.1 424.2L208.7 421.7" stroke="#55e6dc" stroke-width="0.45" fill="none"/>
<circle cx="207.4" cy="423.0" r="0.49" fill="#3fd9cf"/>
<path d="M204.0 424.9H207.6M205.8 423.1V426.7M204.5 423.7L207.1 426.2M204.5 426.2L207.1 423.7" stroke="#55e6dc" stroke-width="0.45" fill="none"/>
<circle cx="205.8" cy="424.9" r="0.49" fill="#3fd9cf"/>
<path d="M201.8 426.3H205.4M203.6 424.5V428.1M202.3 425.0L204.9 427.6M202.3 427.6L204.9 425.0" stroke="#55e6dc" stroke-width="0.45" fill="none"/>
<circle cx="203.6" cy="426.3" r="0.49" fill="#3fd9cf"/>
<path d="M199.8 428.0H203.4M201.6 426.2V429.8M200.4 426.7L202.9 429.3M200.4 429.3L202.9 426.7" stroke="#55e6dc" stroke-width="0.45" fill="none"/>
<circle cx="201.6" cy="428.0" r="0.49" fill="#3fd9cf"/>
<path d="M198.0 429.8H201.6M199.8 428.0V431.6M198.5 428.6L201.1 431.1M198.5 431.1L201.1 428.6" stroke="#55e6dc" stroke-width="0.45" fill="none"/>
<circle cx="199.8" cy="429.8" r="0.49" fill="#3fd9cf"/>
<path d="M196.2 431.7H199.8M198.0 429.9V433.5M196.7 430.4L199.3 433.0M196.7 433.0L199.3 430.4" stroke="#55e6dc" stroke-width="0.45" fill="none"/>
<circle cx="198.0" cy="431.7" r="0.49" fill="#3fd9cf"/>
<path d="M194.3 433.4H197.9M196.1 431.6V435.2M194.8 432.2L197.4 434.7M194.8 434.7L197.4 432.2" stroke="#55e6dc" stroke-width="0.45" fill="none"/>
<circle cx="196.1" cy="433.4" r="0.49" fill="#3fd9cf"/>
<path d="M192.3 435.1H195.9M194.1 433.3V436.9M192.8 433.9L195.4 436.4M192.8 436.4L195.4 433.9" stroke="#55e6dc" stroke-width="0.45" fill="none"/>
<circle cx="194.1" cy="435.1" r="0.49" fill="#3fd9cf"/>
<path d="M190.3 436.8H193.9M192.1 435.0V438.6M190.9 435.6L193.4 438.1M190.9 438.1L193.4 435.6" stroke="#55e6dc" stroke-width="0.45" fill="none"/>
<circle cx="192.1" cy="436.8" r="0.49" fill="#3fd9cf"/>
<path d="M188.4 438.5H192.0M190.2 436.7V440.3M188.9 437.3L191.4 439.8M188.9 439.8L191.4 437.3" stroke="#55e6dc" stroke-width="0.45" fill="none"/>
<circle cx="190.2" cy="438.5" r="0.49" fill="#3fd9cf"/>
<path d="M186.6 440.4H190.2M188.4 438.6V442.2M187.1 439.1L189.6 441.7M187.1 441.7L189.6 439.1" stroke="#55e6dc" stroke-width="0.45" fill="none"/>
<circle cx="188.4" cy="440.4" r="0.49" fill="#3fd9cf"/>
<path d="M184.9 442.4H188.5M186.7 440.6V444.2M185.4 441.1L188.0 443.7M185.4 443.7L188.0 441.1" stroke="#55e6dc" stroke-width="0.45" fill="none"/>
<circle cx="186.7" cy="442.4" r="0.49" fill="#3fd9cf"/>
<path d="M183.2 444.4H186.8M185.0 442.6V446.2M183.7 443.1L186.3 445.6M183.7 445.6L186.3 443.1" stroke="#55e6dc" stroke-width="0.45" fill="none"/>
<circle cx="185.0" cy="444.4" r="0.49" fill="#3fd9cf"/>
<path d="M181.5 446.3H185.1M183.3 444.5V448.1M182.0 445.1L184.6 447.6M182.0 447.6L184.6 445.1" stroke="#55e6dc" stroke-width="0.45" fill="none"/>
<circle cx="183.3" cy="446.3" r="0.49" fill="#3fd9cf"/>
<path d="M180.0 448.4H183.6M181.8 446.6V450.2M180.5 447.2L183.0 449.7M180.5 449.7L183.0 447.2" stroke="#55e6dc" stroke-width="0.45" fill="none"/>
<circle cx="181.8" cy="448.4" r="0.49" fill="#3fd9cf"/>
<path d="M178.5 450.6H182.1M180.3 448.8V452.4M179.1 449.3L181.6 451.9M179.1 451.9L181.6 449.3" stroke="#55e6dc" stroke-width="0.45" fill="none"/>
<circle cx="180.3" cy="450.6" r="0.49" fill="#3fd9cf"/>
<path d="M177.1 452.8H180.7M178.9 451.0V454.6M177.6 451.5L180.2 454.0M177.6 454.0L180.2 451.5" stroke="#55e6dc" stroke-width="0.45" fill="none"/>
<circle cx="178.9" cy="452.8" r="0.49" fill="#3fd9cf"/>
<path d="M175.5 454.8H179.1M177.3 453.0V456.6M176.1 453.6L178.6 456.1M176.1 456.1L178.6 453.6" stroke="#55e6dc" stroke-width="0.45" fill="none"/>
<circle cx="177.3" cy="454.8" r="0.49" fill="#3fd9cf"/>
<path d="M173.9 456.9H177.5M175.7 455.1V458.7M174.4 455.6L177.0 458.1M174.4 458.1L177.0 455.6" stroke="#55e6dc" stroke-width="0.45" fill="none"/>
<circle cx="175.7" cy="456.9" r="0.49" fill="#3fd9cf"/>
<path d="M172.3 458.9H175.9M174.1 457.1V460.7M172.8 457.6L175.3 460.2M172.8 460.2L175.3 457.6" stroke="#55e6dc" stroke-width="0.45" fill="none"/>
<circle cx="174.1" cy="458.9" r="0.49" fill="#3fd9cf"/>
<path d="M170.9 461.1H174.5M172.7 459.3V462.9M171.4 459.8L173.9 462.4M171.4 462.4L173.9 459.8" stroke="#55e6dc" stroke-width="0.45" fill="none"/>
<circle cx="172.7" cy="461.1" r="0.49" fill="#3fd9cf"/>
<path d="M169.5 463.3H173.1M171.3 461.5V465.1M170.0 462.0L172.6 464.6M170.0 464.6L172.6 462.0" stroke="#55e6dc" stroke-width="0.45" fill="none"/>
<circle cx="171.3" cy="463.3" r="0.49" fill="#3fd9cf"/>
<path d="M168.1 465.5H171.7M169.9 463.7V467.3M168.7 464.2L171.2 466.8M168.7 466.8L171.2 464.2" stroke="#55e6dc" stroke-width="0.45" fill="none"/>
<circle cx="169.9" cy="465.5" r="0.49" fill="#3fd9cf"/>
<path d="M255.9 375.6H261.1M258.5 373.0V378.2M256.7 373.8L260.3 377.4M256.7 377.4L260.3 373.8" stroke="#dc1010" stroke-width="0.6" fill="none"/>
<circle cx="258.5" cy="375.6" r="0.70" fill="#b80f0f"/>
<path d="M260.8 380.5H266.0M263.4 377.9V383.1M261.6 378.7L265.2 382.3M261.6 382.3L265.2 378.7" stroke="#dc1010" stroke-width="0.6" fill="none"/>
<circle cx="263.4" cy="380.5" r="0.70" fill="#b80f0f"/>
<path d="M242.1 376.0H247.3M244.7 373.4V378.6M242.9 374.2L246.5 377.8M242.9 377.8L246.5 374.2" stroke="#dc1010" stroke-width="0.6" fill="none"/>
<circle cx="244.7" cy="376.0" r="0.70" fill="#b80f0f"/>
<path d="M238.1 379.6H243.3M240.7 377.0V382.2M238.9 377.8L242.5 381.4M238.9 381.4L242.5 377.8" stroke="#dc1010" stroke-width="0.6" fill="none"/>
<circle cx="240.7" cy="379.6" r="0.70" fill="#b80f0f"/>
<path d="M234.7 382.3H239.9M237.3 379.7V384.9M235.5 380.5L239.1 384.1M235.5 384.1L239.1 380.5" stroke="#dc1010" stroke-width="0.6" fill="none"/>
<circle cx="237.3" cy="382.3" r="0.70" fill="#b80f0f"/>
<path d="M242.1 382.3H247.3M244.7 379.7V384.9M242.9 380.5L246.5 384.1M242.9 384.1L246.5 380.5" stroke="#dc1010" stroke-width="0.6" fill="none"/>
<circle cx="244.7" cy="382.3" r="0.70" fill="#b80f0f"/>
<path d="M233.6 387.2H238.8M236.2 384.6V389.8M234.4 385.4L238.0 389.0M234.4 389.0L238.0 385.4" stroke="#dc1010" stroke-width="0.6" fill="none"/>
<circle cx="236.2" cy="387.2" r="0.70" fill="#b80f0f"/>
<path d="M237.0 388.9H242.2M239.6 386.3V391.5M237.8 387.1L241.4 390.7M237.8 390.7L241.4 387.1" stroke="#dc1010" stroke-width="0.6" fill="none"/>
<circle cx="239.6" cy="388.9" r="0.70" fill="#b80f0f"/>
<path d="M240.8 387.4H246.0M243.4 384.8V390.0M241.6 385.6L245.2 389.2M241.6 389.2L245.2 385.6" stroke="#dc1010" stroke-width="0.6" fill="none"/>
<circle cx="243.4" cy="387.4" r="0.70" fill="#b80f0f"/>
<path d="M227.0 391.2H232.2M229.6 388.6V393.8M227.8 389.4L231.4 393.0M227.8 393.0L231.4 389.4" stroke="#dc1010" stroke-width="0.6" fill="none"/>
<circle cx="229.6" cy="391.2" r="0.70" fill="#b80f0f"/>
<path d="M230.3 391.2H235.5M232.9 388.6V393.8M231.1 389.4L234.7 393.0M231.1 393.0L234.7 389.4" stroke="#dc1010" stroke-width="0.6" fill="none"/>
<circle cx="232.9" cy="391.2" r="0.70" fill="#b80f0f"/>
<path d="M220.7 396.3H225.9M223.3 393.7V398.9M221.5 394.5L225.1 398.1M221.5 398.1L225.1 394.5" stroke="#dc1010" stroke-width="0.6" fill="none"/>
<circle cx="223.3" cy="396.3" r="0.70" fill="#b80f0f"/>
<path d="M216.9 399.0H222.1M219.5 396.4V401.6M217.7 397.2L221.3 400.8M217.7 400.8L221.3 397.2" stroke="#dc1010" stroke-width="0.6" fill="none"/>
<circle cx="219.5" cy="399.0" r="0.70" fill="#b80f0f"/>
<path d="M223.0 400.7H228.2M225.6 398.1V403.3M223.8 398.9L227.4 402.5M223.8 402.5L227.4 398.9" stroke="#dc1010" stroke-width="0.6" fill="none"/>
<circle cx="225.6" cy="400.7" r="0.70" fill="#b80f0f"/>
<path d="M229.2 401.6H234.4M231.8 399.0V404.2M230.0 399.8L233.6 403.4M230.0 403.4L233.6 399.8" stroke="#dc1010" stroke-width="0.6" fill="none"/>
<circle cx="231.8" cy="401.6" r="0.70" fill="#b80f0f"/>
<path d="M231.9 400.1H237.1M234.5 397.5V402.7M232.7 398.3L236.3 401.9M232.7 401.9L236.3 398.3" stroke="#dc1010" stroke-width="0.6" fill="none"/>
<circle cx="234.5" cy="400.1" r="0.70" fill="#b80f0f"/>
<path d="M235.9 401.2H241.1M238.5 398.6V403.8M236.7 399.4L240.3 403.0M236.7 403.0L240.3 399.4" stroke="#dc1010" stroke-width="0.6" fill="none"/>
<circle cx="238.5" cy="401.2" r="0.70" fill="#b80f0f"/>
<path d="M214.7 403.9H219.9M217.3 401.3V406.5M215.5 402.1L219.1 405.7M215.5 405.7L219.1 402.1" stroke="#dc1010" stroke-width="0.6" fill="none"/>
<circle cx="217.3" cy="403.9" r="0.70" fill="#b80f0f"/>
<path d="M211.8 405.6H217.0M214.4 403.0V408.2M212.6 403.8L216.2 407.4M212.6 407.4L216.2 403.8" stroke="#dc1010" stroke-width="0.6" fill="none"/>
<circle cx="214.4" cy="405.6" r="0.70" fill="#b80f0f"/>
<path d="M209.1 407.4H214.3M211.7 404.8V410.0M209.9 405.6L213.5 409.2M209.9 409.2L213.5 405.6" stroke="#dc1010" stroke-width="0.6" fill="none"/>
<circle cx="211.7" cy="407.4" r="0.70" fill="#b80f0f"/>
<path d="M215.8 405.6H221.0M218.4 403.0V408.2M216.6 403.8L220.2 407.4M216.6 407.4L220.2 403.8" stroke="#dc1010" stroke-width="0.6" fill="none"/>
<circle cx="218.4" cy="405.6" r="0.70" fill="#b80f0f"/>
<path d="M218.1 407.2H223.3M220.7 404.6V409.8M218.9 405.4L222.5 409.0M218.9 409.0L222.5 405.4" stroke="#dc1010" stroke-width="0.6" fill="none"/>
<circle cx="220.7" cy="407.2" r="0.70" fill="#b80f0f"/>
<path d="M235.4 408.5H240.6M238.0 405.9V411.1M236.2 406.7L239.8 410.3M236.2 410.3L239.8 406.7" stroke="#dc1010" stroke-width="0.6" fill="none"/>
<circle cx="238.0" cy="408.5" r="0.70" fill="#b80f0f"/>
<path d="M240.3 410.1H245.5M242.9 407.5V412.7M241.1 408.3L244.7 411.9M241.1 411.9L244.7 408.3" stroke="#dc1010" stroke-width="0.6" fill="none"/>
<circle cx="242.9" cy="410.1" r="0.70" fill="#b80f0f"/>
<path d="M244.3 410.8H249.5M246.9 408.2V413.4M245.1 409.0L248.7 412.6M245.1 412.6L248.7 409.0" stroke="#dc1010" stroke-width="0.6" fill="none"/>
<circle cx="246.9" cy="410.8" r="0.70" fill="#b80f0f"/>
<path d="M228.5 412.8H233.7M231.1 410.2V415.4M229.3 411.0L232.9 414.6M229.3 414.6L232.9 411.0" stroke="#dc1010" stroke-width="0.6" fill="none"/>
<circle cx="231.1" cy="412.8" r="0.70" fill="#b80f0f"/>
<path d="M204.0 412.3H209.2M206.6 409.7V414.9M204.8 410.5L208.4 414.1M204.8 414.1L208.4 410.5" stroke="#dc1010" stroke-width="0.6" fill="none"/>
<circle cx="206.6" cy="412.3" r="0.70" fill="#b80f0f"/>
<path d="M202.5 414.5H207.7M205.1 411.9V417.1M203.3 412.7L206.9 416.3M203.3 416.3L206.9 412.7" stroke="#dc1010" stroke-width="0.6" fill="none"/>
<circle cx="205.1" cy="414.5" r="0.70" fill="#b80f0f"/>
<path d="M202.0 417.4H207.2M204.6 414.8V420.0M202.8 415.6L206.4 419.2M202.8 419.2L206.4 415.6" stroke="#dc1010" stroke-width="0.6" fill="none"/>
<circle cx="204.6" cy="417.4" r="0.70" fill="#b80f0f"/>
<path d="M216.5 417.4H221.7M219.1 414.8V420.0M217.3 415.6L220.9 419.2M217.3 419.2L220.9 415.6" stroke="#dc1010" stroke-width="0.6" fill="none"/>
<circle cx="219.1" cy="417.4" r="0.70" fill="#b80f0f"/>
<path d="M208.5 419.4H213.7M211.1 416.8V422.0M209.3 417.6L212.9 421.2M209.3 421.2L212.9 417.6" stroke="#dc1010" stroke-width="0.6" fill="none"/>
<circle cx="211.1" cy="419.4" r="0.70" fill="#b80f0f"/>
<path d="M206.9 421.9H212.1M209.5 419.3V424.5M207.7 420.1L211.3 423.7M207.7 423.7L211.3 420.1" stroke="#dc1010" stroke-width="0.6" fill="none"/>
<circle cx="209.5" cy="421.9" r="0.70" fill="#b80f0f"/>
<path d="M229.9 420.1H235.1M232.5 417.5V422.7M230.7 418.3L234.3 421.9M230.7 421.9L234.3 418.3" stroke="#dc1010" stroke-width="0.6" fill="none"/>
<circle cx="232.5" cy="420.1" r="0.70" fill="#b80f0f"/>
<path d="M236.5 424.6H241.7M239.1 422.0V427.2M237.3 422.8L240.9 426.4M237.3 426.4L240.9 422.8" stroke="#dc1010" stroke-width="0.6" fill="none"/>
<circle cx="239.1" cy="424.6" r="0.70" fill="#b80f0f"/>
<path d="M205.1 424.6H210.3M207.7 422.0V427.2M205.9 422.8L209.5 426.4M205.9 426.4L209.5 422.8" stroke="#dc1010" stroke-width="0.6" fill="none"/>
<circle cx="207.7" cy="424.6" r="0.70" fill="#b80f0f"/>
<path d="M200.7 426.8H205.9M203.3 424.2V429.4M201.5 425.0L205.1 428.6M201.5 428.6L205.1 425.0" stroke="#dc1010" stroke-width="0.6" fill="none"/>
<circle cx="203.3" cy="426.8" r="0.70" fill="#b80f0f"/>
<path d="M206.9 427.9H212.1M209.5 425.3V430.5M207.7 426.1L211.3 429.7M207.7 429.7L211.3 426.1" stroke="#dc1010" stroke-width="0.6" fill="none"/>
<circle cx="209.5" cy="427.9" r="0.70" fill="#b80f0f"/>
<path d="M219.2 429.0H224.4M221.8 426.4V431.6M220.0 427.2L223.6 430.8M220.0 430.8L223.6 427.2" stroke="#dc1010" stroke-width="0.6" fill="none"/>
<circle cx="221.8" cy="429.0" r="0.70" fill="#b80f0f"/>
<path d="M194.7 431.7H199.9M197.3 429.1V434.3M195.5 429.9L199.1 433.5M195.5 433.5L199.1 429.9" stroke="#dc1010" stroke-width="0.6" fill="none"/>
<circle cx="197.3" cy="431.7" r="0.70" fill="#b80f0f"/>
<path d="M195.1 434.6H200.3M197.7 432.0V437.2M195.9 432.8L199.5 436.4M195.9 436.4L199.5 432.8" stroke="#dc1010" stroke-width="0.6" fill="none"/>
<circle cx="197.7" cy="434.6" r="0.70" fill="#b80f0f"/>
<path d="M186.9 439.5H192.1M189.5 436.9V442.1M187.7 437.7L191.3 441.3M187.7 441.3L191.3 437.7" stroke="#dc1010" stroke-width="0.6" fill="none"/>
<circle cx="189.5" cy="439.5" r="0.70" fill="#b80f0f"/>
<path d="M184.7 442.4H189.9M187.3 439.8V445.0M185.5 440.6L189.1 444.2M185.5 444.2L189.1 440.6" stroke="#dc1010" stroke-width="0.6" fill="none"/>
<circle cx="187.3" cy="442.4" r="0.70" fill="#b80f0f"/>
<path d="M196.5 443.9H201.7M199.1 441.3V446.5M197.3 442.1L200.9 445.7M197.3 445.7L200.9 442.1" stroke="#dc1010" stroke-width="0.6" fill="none"/>
<circle cx="199.1" cy="443.9" r="0.70" fill="#b80f0f"/>
<path d="M181.3 445.7H186.5M183.9 443.1V448.3M182.1 443.9L185.7 447.5M182.1 447.5L185.7 443.9" stroke="#dc1010" stroke-width="0.6" fill="none"/>
<circle cx="183.9" cy="445.7" r="0.70" fill="#b80f0f"/>
<path d="M179.1 449.0H184.3M181.7 446.4V451.6M179.9 447.2L183.5 450.8M179.9 450.8L183.5 447.2" stroke="#dc1010" stroke-width="0.6" fill="none"/>
<circle cx="181.7" cy="449.0" r="0.70" fill="#b80f0f"/>
<path d="M178.0 451.3H183.2M180.6 448.7V453.9M178.8 449.5L182.4 453.1M178.8 453.1L182.4 449.5" stroke="#dc1010" stroke-width="0.6" fill="none"/>
<circle cx="180.6" cy="451.3" r="0.70" fill="#b80f0f"/>
<path d="M179.8 451.9H185.0M182.4 449.3V454.5M180.6 450.1L184.2 453.7M180.6 453.7L184.2 450.1" stroke="#dc1010" stroke-width="0.6" fill="none"/>
<circle cx="182.4" cy="451.9" r="0.70" fill="#b80f0f"/>
<path d="M176.9 454.6H182.1M179.5 452.0V457.2M177.7 452.8L181.3 456.4M177.7 456.4L181.3 452.8" stroke="#dc1010" stroke-width="0.6" fill="none"/>
<circle cx="179.5" cy="454.6" r="0.70" fill="#b80f0f"/>
<path d="M172.4 458.0H177.6M175.0 455.4V460.6M173.2 456.2L176.8 459.8M173.2 459.8L176.8 456.2" stroke="#dc1010" stroke-width="0.6" fill="none"/>
<circle cx="175.0" cy="458.0" r="0.70" fill="#b80f0f"/>
<path d="M191.3 460.6H196.5M193.9 458.0V463.2M192.1 458.8L195.7 462.4M192.1 462.4L195.7 458.8" stroke="#dc1010" stroke-width="0.6" fill="none"/>
<circle cx="193.9" cy="460.6" r="0.70" fill="#b80f0f"/>
<path d="M171.3 462.4H176.5M173.9 459.8V465.0M172.1 460.6L175.7 464.2M172.1 464.2L175.7 460.6" stroke="#dc1010" stroke-width="0.6" fill="none"/>
<circle cx="173.9" cy="462.4" r="0.70" fill="#b80f0f"/>
<path d="M168.6 465.1H173.8M171.2 462.5V467.7M169.4 463.3L173.0 466.9M169.4 466.9L173.0 463.3" stroke="#dc1010" stroke-width="0.6" fill="none"/>
<circle cx="171.2" cy="465.1" r="0.70" fill="#b80f0f"/>
<path d="M171.7 466.9H176.9M174.3 464.3V469.5M172.5 465.1L176.1 468.7M172.5 468.7L176.1 465.1" stroke="#dc1010" stroke-width="0.6" fill="none"/>
<circle cx="174.3" cy="466.9" r="0.70" fill="#b80f0f"/>
<path d="M168.0 466.6H173.2M170.6 464.0V469.2M168.8 464.8L172.4 468.4M168.8 468.4L172.4 464.8" stroke="#dc1010" stroke-width="0.6" fill="none"/>
<circle cx="170.6" cy="466.6" r="0.70" fill="#b80f0f"/>
<path d="M397.0 282.1H401.4M399.2 279.9V284.3M397.6 280.5L400.8 283.7M397.6 283.7L400.8 280.5" stroke="#f41010" stroke-width="0.8" fill="none"/>
<path d="M398.2 281.8H402.6M400.4 279.6V284.0M398.8 280.2L402.0 283.4M398.8 283.4L402.0 280.2" stroke="#f41010" stroke-width="0.8" fill="none"/>
<path d="M399.2 282.0H403.6M401.4 279.8V284.2M399.8 280.4L403.0 283.6M399.8 283.6L403.0 280.4" stroke="#f41010" stroke-width="0.8" fill="none"/>
<circle cx="399.2" cy="286.0" r="0.95" fill="#000"/>
<circle cx="399.2" cy="288.0" r="0.95" fill="#000"/>
<circle cx="399.2" cy="290.0" r="0.95" fill="#000"/>
<circle cx="399.2" cy="292.0" r="0.95" fill="#000"/>
<circle cx="399.2" cy="294.0" r="0.95" fill="#000"/>
<circle cx="399.3" cy="296.0" r="0.95" fill="#000"/>
<circle cx="399.4" cy="297.0" r="1.07" fill="#000"/>
<circle cx="399.5" cy="298.0" r="1.07" fill="#000"/>
<circle cx="399.6" cy="299.0" r="1.07" fill="#000"/>
<circle cx="399.7" cy="300.0" r="1.07" fill="#000"/>
<circle cx="399.8" cy="301.0" r="1.07" fill="#000"/>
<circle cx="399.9" cy="302.0" r="1.07" fill="#000"/>
<circle cx="400.0" cy="303.0" r="1.07" fill="#000"/>
<circle cx="400.1" cy="304.0" r="1.07" fill="#000"/>
<circle cx="400.1" cy="305.0" r="1.07" fill="#000"/>
<circle cx="400.2" cy="306.0" r="1.07" fill="#000"/>
<circle cx="400.3" cy="307.0" r="1.07" fill="#000"/>
<circle cx="400.4" cy="308.0" r="1.07" fill="#000"/>
<circle cx="400.5" cy="309.0" r="1.07" fill="#000"/>
<circle cx="400.6" cy="310.0" r="1.07" fill="#000"/>
<circle cx="400.6" cy="311.0" r="1.07" fill="#000"/>
<circle cx="400.6" cy="312.0" r="1.07" fill="#000"/>
<circle cx="400.7" cy="313.0" r="1.07" fill="#000"/>
<circle cx="400.7" cy="314.0" r="1.07" fill="#000"/>
<circle cx="400.7" cy="315.0" r="1.07" fill="#000"/>
<circle cx="400.8" cy="316.0" r="1.07" fill="#000"/>
<circle cx="400.8" cy="317.0" r="1.07" fill="#000"/>
<circle cx="400.8" cy="318.0" r="1.07" fill="#000"/>
<circle cx="400.8" cy="319.0" r="1.07" fill="#000"/>
<circle cx="400.9" cy="320.0" r="1.07" fill="#000"/>
<circle cx="400.9" cy="321.0" r="1.07" fill="#000"/>
<circle cx="400.9" cy="322.0" r="1.07" fill="#000"/>
<circle cx="401.0" cy="323.0" r="1.07" fill="#000"/>
<circle cx="401.0" cy="324.0" r="1.07" fill="#000"/>
<circle cx="401.0" cy="325.0" r="1.07" fill="#000"/>
<circle cx="401.1" cy="326.0" r="1.07" fill="#000"/>
<circle cx="401.1" cy="327.0" r="1.07" fill="#000"/>
<circle cx="401.1" cy="328.0" r="1.07" fill="#000"/>
<circle cx="401.1" cy="329.0" r="1.07" fill="#000"/>
<circle cx="401.2" cy="330.0" r="1.07" fill="#000"/>
<circle cx="401.2" cy="331.0" r="1.07" fill="#000"/>
<circle cx="401.2" cy="332.0" r="1.07" fill="#000"/>
<circle cx="401.2" cy="333.0" r="1.07" fill="#000"/>
<circle cx="401.3" cy="334.0" r="1.07" fill="#000"/>
<circle cx="401.3" cy="335.0" r="1.07" fill="#000"/>
<circle cx="401.3" cy="336.0" r="1.07" fill="#000"/>
<circle cx="401.3" cy="337.0" r="1.07" fill="#000"/>
<circle cx="401.3" cy="338.0" r="1.07" fill="#000"/>
<circle cx="401.4" cy="339.0" r="1.07" fill="#000"/>
<circle cx="401.4" cy="340.0" r="1.07" fill="#000"/>
<circle cx="401.4" cy="341.0" r="1.07" fill="#000"/>
<circle cx="401.4" cy="342.0" r="1.07" fill="#000"/>
<circle cx="401.4" cy="343.0" r="1.07" fill="#000"/>
<circle cx="401.5" cy="344.0" r="1.07" fill="#000"/>
<circle cx="401.5" cy="345.0" r="1.07" fill="#000"/>
<circle cx="401.5" cy="346.0" r="1.07" fill="#000"/>
<circle cx="401.5" cy="347.0" r="1.07" fill="#000"/>
<circle cx="401.5" cy="348.0" r="1.07" fill="#000"/>
<circle cx="401.6" cy="349.0" r="1.07" fill="#000"/>
<circle cx="401.6" cy="350.0" r="1.07" fill="#000"/>
<circle cx="401.6" cy="351.0" r="1.07" fill="#000"/>
<circle cx="401.7" cy="352.0" r="1.07" fill="#000"/>
<circle cx="401.8" cy="353.0" r="1.07" fill="#000"/>
<circle cx="402.0" cy="354.0" r="1.07" fill="#000"/>
<circle cx="402.1" cy="355.0" r="1.07" fill="#000"/>
<circle cx="402.2" cy="356.0" r="1.07" fill="#000"/>
<circle cx="402.4" cy="357.0" r="1.07" fill="#000"/>
<circle cx="402.5" cy="358.0" r="1.07" fill="#000"/>
<circle cx="402.6" cy="359.0" r="1.07" fill="#000"/>
<circle cx="402.5" cy="360.0" r="1.07" fill="#000"/>
<circle cx="402.3" cy="361.0" r="1.07" fill="#000"/>
<circle cx="402.0" cy="362.0" r="1.07" fill="#000"/>
<circle cx="401.7" cy="363.0" r="1.07" fill="#000"/>
<circle cx="401.2" cy="364.0" r="1.07" fill="#000"/>
<circle cx="400.6" cy="365.0" r="1.07" fill="#000"/>
<circle cx="399.9" cy="366.0" r="1.07" fill="#000"/>
<path d="M396.0 368.2H401.2M398.6 365.6V370.8M396.8 366.4L400.4 370.0M396.8 370.0L400.4 366.4" stroke="#55e6dc" stroke-width="0.6" fill="none"/>
<circle cx="398.6" cy="368.2" r="0.70" fill="#3fd9cf"/>
<path d="M395.9 370.4H401.1M398.5 367.8V373.0M396.7 368.6L400.3 372.2M396.7 372.2L400.3 368.6" stroke="#55e6dc" stroke-width="0.6" fill="none"/>
<circle cx="398.5" cy="370.4" r="0.70" fill="#3fd9cf"/>
<path d="M396.0 372.6H401.2M398.6 370.0V375.2M396.8 370.8L400.4 374.4M396.8 374.4L400.4 370.8" stroke="#55e6dc" stroke-width="0.6" fill="none"/>
<circle cx="398.6" cy="372.6" r="0.70" fill="#3fd9cf"/>
<path d="M399.3 376.7H404.5M401.9 374.1V379.3M400.1 374.9L403.7 378.5M400.1 378.5L403.7 374.9" stroke="#55e6dc" stroke-width="0.6" fill="none"/>
<circle cx="401.9" cy="376.7" r="0.70" fill="#3fd9cf"/>
<path d="M400.8 379.0H406.0M403.4 376.4V381.6M401.6 377.2L405.2 380.8M401.6 380.8L405.2 377.2" stroke="#55e6dc" stroke-width="0.6" fill="none"/>
<circle cx="403.4" cy="379.0" r="0.70" fill="#3fd9cf"/>
<path d="M401.5 383.4H406.7M404.1 380.8V386.0M402.3 381.6L405.9 385.2M402.3 385.2L405.9 381.6" stroke="#55e6dc" stroke-width="0.6" fill="none"/>
<circle cx="404.1" cy="383.4" r="0.70" fill="#3fd9cf"/>
<path d="M399.3 386.7H404.5M401.9 384.1V389.3M400.1 384.9L403.7 388.5M400.1 388.5L403.7 384.9" stroke="#55e6dc" stroke-width="0.6" fill="none"/>
<circle cx="401.9" cy="386.7" r="0.70" fill="#3fd9cf"/>
<path d="M401.5 394.5H406.7M404.1 391.9V397.1M402.3 392.7L405.9 396.3M402.3 396.3L405.9 392.7" stroke="#55e6dc" stroke-width="0.6" fill="none"/>
<circle cx="404.1" cy="394.5" r="0.70" fill="#3fd9cf"/>
<path d="M400.6 392.4H405.8M403.2 389.8V395.0M401.4 390.6L405.0 394.2M401.4 394.2L405.0 390.6" stroke="#55e6dc" stroke-width="0.6" fill="none"/>
<circle cx="403.2" cy="392.4" r="0.70" fill="#3fd9cf"/>
<path d="M387.0 423.9H392.2M389.6 421.3V426.5M387.8 422.1L391.4 425.7M387.8 425.7L391.4 422.1" stroke="#55e6dc" stroke-width="0.6" fill="none"/>
<circle cx="389.6" cy="423.9" r="0.70" fill="#3fd9cf"/>
<path d="M395.2 431.2H400.4M397.8 428.6V433.8M396.0 429.4L399.6 433.0M396.0 433.0L399.6 429.4" stroke="#55e6dc" stroke-width="0.6" fill="none"/>
<circle cx="397.8" cy="431.2" r="0.70" fill="#3fd9cf"/>
<path d="M394.6 433.6H399.8M397.2 431.0V436.2M395.4 431.8L399.0 435.4M395.4 435.4L399.0 431.8" stroke="#55e6dc" stroke-width="0.6" fill="none"/>
<circle cx="397.2" cy="433.6" r="0.70" fill="#3fd9cf"/>
<path d="M393.7 436.8H398.9M396.3 434.2V439.4M394.5 435.0L398.1 438.6M394.5 438.6L398.1 435.0" stroke="#55e6dc" stroke-width="0.6" fill="none"/>
<circle cx="396.3" cy="436.8" r="0.70" fill="#3fd9cf"/>
<path d="M388.1 455.7H393.3M390.7 453.1V458.3M388.9 453.9L392.5 457.5M388.9 457.5L392.5 453.9" stroke="#55e6dc" stroke-width="0.6" fill="none"/>
<circle cx="390.7" cy="455.7" r="0.70" fill="#3fd9cf"/>
<path d="M389.2 453.6H394.4M391.8 451.0V456.2M390.0 451.8L393.6 455.4M390.0 455.4L393.6 451.8" stroke="#55e6dc" stroke-width="0.6" fill="none"/>
<circle cx="391.8" cy="453.6" r="0.70" fill="#3fd9cf"/>
<path d="M371.9 375.6H377.1M374.5 373.0V378.2M372.7 373.8L376.3 377.4M372.7 377.4L376.3 373.8" stroke="#dc1010" stroke-width="0.6" fill="none"/>
<circle cx="374.5" cy="375.6" r="0.70" fill="#b80f0f"/>
<path d="M360.5 380.5H365.7M363.1 377.9V383.1M361.3 378.7L364.9 382.3M361.3 382.3L364.9 378.7" stroke="#dc1010" stroke-width="0.6" fill="none"/>
<circle cx="363.1" cy="380.5" r="0.70" fill="#b80f0f"/>
<path d="M395.9 374.5H401.1M398.5 371.9V377.1M396.7 372.7L400.3 376.3M396.7 376.3L400.3 372.7" stroke="#dc1010" stroke-width="0.6" fill="none"/>
<circle cx="398.5" cy="374.5" r="0.70" fill="#b80f0f"/>
<path d="M403.7 378.9H408.9M406.3 376.3V381.5M404.5 377.1L408.1 380.7M404.5 380.7L408.1 377.1" stroke="#dc1010" stroke-width="0.6" fill="none"/>
<circle cx="406.3" cy="378.9" r="0.70" fill="#b80f0f"/>
<path d="M405.9 381.1H411.1M408.5 378.5V383.7M406.7 379.3L410.3 382.9M406.7 382.9L410.3 379.3" stroke="#dc1010" stroke-width="0.6" fill="none"/>
<circle cx="408.5" cy="381.1" r="0.70" fill="#b80f0f"/>
<path d="M392.6 382.3H397.8M395.2 379.7V384.9M393.4 380.5L397.0 384.1M393.4 384.1L397.0 380.5" stroke="#dc1010" stroke-width="0.6" fill="none"/>
<circle cx="395.2" cy="382.3" r="0.70" fill="#b80f0f"/>
<path d="M398.8 384.0H404.0M401.4 381.4V386.6M399.6 382.2L403.2 385.8M399.6 385.8L403.2 382.2" stroke="#dc1010" stroke-width="0.6" fill="none"/>
<circle cx="401.4" cy="384.0" r="0.70" fill="#b80f0f"/>
<path d="M378.1 387.4H383.3M380.7 384.8V390.0M378.9 385.6L382.5 389.2M378.9 389.2L382.5 385.6" stroke="#dc1010" stroke-width="0.6" fill="none"/>
<circle cx="380.7" cy="387.4" r="0.70" fill="#b80f0f"/>
<path d="M387.5 388.9H392.7M390.1 386.3V391.5M388.3 387.1L391.9 390.7M388.3 390.7L391.9 387.1" stroke="#dc1010" stroke-width="0.6" fill="none"/>
<circle cx="390.1" cy="388.9" r="0.70" fill="#b80f0f"/>
<path d="M393.7 388.5H398.9M396.3 385.9V391.1M394.5 386.7L398.1 390.3M394.5 390.3L398.1 386.7" stroke="#dc1010" stroke-width="0.6" fill="none"/>
<circle cx="396.3" cy="388.5" r="0.70" fill="#b80f0f"/>
<path d="M399.3 390.1H404.5M401.9 387.5V392.7M400.1 388.3L403.7 391.9M400.1 391.9L403.7 388.3" stroke="#dc1010" stroke-width="0.6" fill="none"/>
<circle cx="401.9" cy="390.1" r="0.70" fill="#b80f0f"/>
<path d="M395.9 392.9H401.1M398.5 390.3V395.5M396.7 391.1L400.3 394.7M396.7 394.7L400.3 391.1" stroke="#dc1010" stroke-width="0.6" fill="none"/>
<circle cx="398.5" cy="392.9" r="0.70" fill="#b80f0f"/>
<path d="M405.9 395.6H411.1M408.5 393.0V398.2M406.7 393.8L410.3 397.4M406.7 397.4L410.3 393.8" stroke="#dc1010" stroke-width="0.6" fill="none"/>
<circle cx="408.5" cy="395.6" r="0.70" fill="#b80f0f"/>
<path d="M395.2 396.7H400.4M397.8 394.1V399.3M396.0 394.9L399.6 398.5M396.0 398.5L399.6 394.9" stroke="#dc1010" stroke-width="0.6" fill="none"/>
<circle cx="397.8" cy="396.7" r="0.70" fill="#b80f0f"/>
<path d="M400.4 398.3H405.6M403.0 395.7V400.9M401.2 396.5L404.8 400.1M401.2 400.1L404.8 396.5" stroke="#dc1010" stroke-width="0.6" fill="none"/>
<circle cx="403.0" cy="398.3" r="0.70" fill="#b80f0f"/>
<path d="M403.0 400.1H408.2M405.6 397.5V402.7M403.8 398.3L407.4 401.9M403.8 401.9L407.4 398.3" stroke="#dc1010" stroke-width="0.6" fill="none"/>
<circle cx="405.6" cy="400.1" r="0.70" fill="#b80f0f"/>
<path d="M362.5 401.2H367.7M365.1 398.6V403.8M363.3 399.4L366.9 403.0M363.3 403.0L366.9 399.4" stroke="#dc1010" stroke-width="0.6" fill="none"/>
<circle cx="365.1" cy="401.2" r="0.70" fill="#b80f0f"/>
<path d="M371.0 400.1H376.2M373.6 397.5V402.7M371.8 398.3L375.4 401.9M371.8 401.9L375.4 398.3" stroke="#dc1010" stroke-width="0.6" fill="none"/>
<circle cx="373.6" cy="400.1" r="0.70" fill="#b80f0f"/>
<path d="M371.4 402.3H376.6M374.0 399.7V404.9M372.2 400.5L375.8 404.1M372.2 404.1L375.8 400.5" stroke="#dc1010" stroke-width="0.6" fill="none"/>
<circle cx="374.0" cy="402.3" r="0.70" fill="#b80f0f"/>
<path d="M387.5 400.7H392.7M390.1 398.1V403.3M388.3 398.9L391.9 402.5M388.3 402.5L391.9 398.9" stroke="#dc1010" stroke-width="0.6" fill="none"/>
<circle cx="390.1" cy="400.7" r="0.70" fill="#b80f0f"/>
<path d="M400.4 403.4H405.6M403.0 400.8V406.0M401.2 401.6L404.8 405.2M401.2 405.2L404.8 401.6" stroke="#dc1010" stroke-width="0.6" fill="none"/>
<circle cx="403.0" cy="403.4" r="0.70" fill="#b80f0f"/>
<path d="M390.3 405.2H395.5M392.9 402.6V407.8M391.1 403.4L394.7 407.0M391.1 407.0L394.7 403.4" stroke="#dc1010" stroke-width="0.6" fill="none"/>
<circle cx="392.9" cy="405.2" r="0.70" fill="#b80f0f"/>
<path d="M393.0 404.5H398.2M395.6 401.9V407.1M393.8 402.7L397.4 406.3M393.8 406.3L397.4 402.7" stroke="#dc1010" stroke-width="0.6" fill="none"/>
<circle cx="395.6" cy="404.5" r="0.70" fill="#b80f0f"/>
<path d="M384.1 407.2H389.3M386.7 404.6V409.8M384.9 405.4L388.5 409.0M384.9 409.0L388.5 405.4" stroke="#dc1010" stroke-width="0.6" fill="none"/>
<circle cx="386.7" cy="407.2" r="0.70" fill="#b80f0f"/>
<path d="M399.3 407.2H404.5M401.9 404.6V409.8M400.1 405.4L403.7 409.0M400.1 409.0L403.7 405.4" stroke="#dc1010" stroke-width="0.6" fill="none"/>
<circle cx="401.9" cy="407.2" r="0.70" fill="#b80f0f"/>
<path d="M403.0 408.3H408.2M405.6 405.7V410.9M403.8 406.5L407.4 410.1M403.8 410.1L407.4 406.5" stroke="#dc1010" stroke-width="0.6" fill="none"/>
<circle cx="405.6" cy="408.3" r="0.70" fill="#b80f0f"/>
<path d="M330.7 410.5H335.9M333.3 407.9V413.1M331.5 408.7L335.1 412.3M331.5 412.3L335.1 408.7" stroke="#dc1010" stroke-width="0.6" fill="none"/>
<circle cx="333.3" cy="410.5" r="0.70" fill="#b80f0f"/>
<path d="M342.3 409.6H347.5M344.9 407.0V412.2M343.1 407.8L346.7 411.4M343.1 411.4L346.7 407.8" stroke="#dc1010" stroke-width="0.6" fill="none"/>
<circle cx="344.9" cy="409.6" r="0.70" fill="#b80f0f"/>
<path d="M351.2 408.5H356.4M353.8 405.9V411.1M352.0 406.7L355.6 410.3M352.0 410.3L355.6 406.7" stroke="#dc1010" stroke-width="0.6" fill="none"/>
<circle cx="353.8" cy="408.5" r="0.70" fill="#b80f0f"/>
<path d="M349.6 412.8H354.8M352.2 410.2V415.4M350.4 411.0L354.0 414.6M350.4 414.6L354.0 411.0" stroke="#dc1010" stroke-width="0.6" fill="none"/>
<circle cx="352.2" cy="412.8" r="0.70" fill="#b80f0f"/>
<path d="M405.3 411.6H410.5M407.9 409.0V414.2M406.1 409.8L409.7 413.4M406.1 413.4L409.7 409.8" stroke="#dc1010" stroke-width="0.6" fill="none"/>
<circle cx="407.9" cy="411.6" r="0.70" fill="#b80f0f"/>
<path d="M400.8 413.4H406.0M403.4 410.8V416.0M401.6 411.6L405.2 415.2M401.6 415.2L405.2 411.6" stroke="#dc1010" stroke-width="0.6" fill="none"/>
<circle cx="403.4" cy="413.4" r="0.70" fill="#b80f0f"/>
<path d="M394.4 414.5H399.6M397.0 411.9V417.1M395.2 412.7L398.8 416.3M395.2 416.3L398.8 412.7" stroke="#dc1010" stroke-width="0.6" fill="none"/>
<circle cx="397.0" cy="414.5" r="0.70" fill="#b80f0f"/>
<path d="M368.1 417.4H373.3M370.7 414.8V420.0M368.9 415.6L372.5 419.2M368.9 419.2L372.5 415.6" stroke="#dc1010" stroke-width="0.6" fill="none"/>
<circle cx="370.7" cy="417.4" r="0.70" fill="#b80f0f"/>
<path d="M395.2 416.8H400.4M397.8 414.2V419.4M396.0 415.0L399.6 418.6M396.0 418.6L399.6 415.0" stroke="#dc1010" stroke-width="0.6" fill="none"/>
<circle cx="397.8" cy="416.8" r="0.70" fill="#b80f0f"/>
<path d="M392.6 418.5H397.8M395.2 415.9V421.1M393.4 416.7L397.0 420.3M393.4 420.3L397.0 416.7" stroke="#dc1010" stroke-width="0.6" fill="none"/>
<circle cx="395.2" cy="418.5" r="0.70" fill="#b80f0f"/>
<path d="M341.4 420.1H346.6M344.0 417.5V422.7M342.2 418.3L345.8 421.9M342.2 421.9L345.8 418.3" stroke="#dc1010" stroke-width="0.6" fill="none"/>
<circle cx="344.0" cy="420.1" r="0.70" fill="#b80f0f"/>
<path d="M379.7 419.4H384.9M382.3 416.8V422.0M380.5 417.6L384.1 421.2M380.5 421.2L384.1 417.6" stroke="#dc1010" stroke-width="0.6" fill="none"/>
<circle cx="382.3" cy="419.4" r="0.70" fill="#b80f0f"/>
<path d="M371.9 421.7H377.1M374.5 419.1V424.3M372.7 419.9L376.3 423.5M372.7 423.5L376.3 419.9" stroke="#dc1010" stroke-width="0.6" fill="none"/>
<circle cx="374.5" cy="421.7" r="0.70" fill="#b80f0f"/>
<path d="M325.8 424.6H331.0M328.4 422.0V427.2M326.6 422.8L330.2 426.4M326.6 426.4L330.2 422.8" stroke="#dc1010" stroke-width="0.6" fill="none"/>
<circle cx="328.4" cy="424.6" r="0.70" fill="#b80f0f"/>
<path d="M387.0 424.6H392.2M389.6 422.0V427.2M387.8 422.8L391.4 426.4M387.8 426.4L391.4 422.8" stroke="#dc1010" stroke-width="0.6" fill="none"/>
<circle cx="389.6" cy="424.6" r="0.70" fill="#b80f0f"/>
<path d="M395.2 426.3H400.4M397.8 423.7V428.9M396.0 424.5L399.6 428.1M396.0 428.1L399.6 424.5" stroke="#dc1010" stroke-width="0.6" fill="none"/>
<circle cx="397.8" cy="426.3" r="0.70" fill="#b80f0f"/>
<path d="M382.1 427.9H387.3M384.7 425.3V430.5M382.9 426.1L386.5 429.7M382.9 429.7L386.5 426.1" stroke="#dc1010" stroke-width="0.6" fill="none"/>
<circle cx="384.7" cy="427.9" r="0.70" fill="#b80f0f"/>
<path d="M357.0 429.0H362.2M359.6 426.4V431.6M357.8 427.2L361.4 430.8M357.8 430.8L361.4 427.2" stroke="#dc1010" stroke-width="0.6" fill="none"/>
<circle cx="359.6" cy="429.0" r="0.70" fill="#b80f0f"/>
<path d="M400.8 431.2H406.0M403.4 428.6V433.8M401.6 429.4L405.2 433.0M401.6 433.0L405.2 429.4" stroke="#dc1010" stroke-width="0.6" fill="none"/>
<circle cx="403.4" cy="431.2" r="0.70" fill="#b80f0f"/>
<path d="M403.0 432.8H408.2M405.6 430.2V435.4M403.8 431.0L407.4 434.6M403.8 434.6L407.4 431.0" stroke="#dc1010" stroke-width="0.6" fill="none"/>
<circle cx="405.6" cy="432.8" r="0.70" fill="#b80f0f"/>
<path d="M395.9 435.0H401.1M398.5 432.4V437.6M396.7 433.2L400.3 436.8M396.7 436.8L400.3 433.2" stroke="#dc1010" stroke-width="0.6" fill="none"/>
<circle cx="398.5" cy="435.0" r="0.70" fill="#b80f0f"/>
<path d="M393.7 439.0H398.9M396.3 436.4V441.6M394.5 437.2L398.1 440.8M394.5 440.8L398.1 437.2" stroke="#dc1010" stroke-width="0.6" fill="none"/>
<circle cx="396.3" cy="439.0" r="0.70" fill="#b80f0f"/>
<path d="M395.9 441.3H401.1M398.5 438.7V443.9M396.7 439.5L400.3 443.1M396.7 443.1L400.3 439.5" stroke="#dc1010" stroke-width="0.6" fill="none"/>
<circle cx="398.5" cy="441.3" r="0.70" fill="#b80f0f"/>
<path d="M388.1 441.9H393.3M390.7 439.3V444.5M388.9 440.1L392.5 443.7M388.9 443.7L392.5 440.1" stroke="#dc1010" stroke-width="0.6" fill="none"/>
<circle cx="390.7" cy="441.9" r="0.70" fill="#b80f0f"/>
<path d="M385.5 442.8H390.7M388.1 440.2V445.4M386.3 441.0L389.9 444.6M386.3 444.6L389.9 441.0" stroke="#dc1010" stroke-width="0.6" fill="none"/>
<circle cx="388.1" cy="442.8" r="0.70" fill="#b80f0f"/>
<path d="M364.8 443.9H370.0M367.4 441.3V446.5M365.6 442.1L369.2 445.7M365.6 445.7L369.2 442.1" stroke="#dc1010" stroke-width="0.6" fill="none"/>
<circle cx="367.4" cy="443.9" r="0.70" fill="#b80f0f"/>
<path d="M393.7 444.6H398.9M396.3 442.0V447.2M394.5 442.8L398.1 446.4M394.5 446.4L398.1 442.8" stroke="#dc1010" stroke-width="0.6" fill="none"/>
<circle cx="396.3" cy="444.6" r="0.70" fill="#b80f0f"/>
<path d="M390.3 446.4H395.5M392.9 443.8V449.0M391.1 444.6L394.7 448.2M391.1 448.2L394.7 444.6" stroke="#dc1010" stroke-width="0.6" fill="none"/>
<circle cx="392.9" cy="446.4" r="0.70" fill="#b80f0f"/>
<path d="M385.9 447.9H391.1M388.5 445.3V450.5M386.7 446.1L390.3 449.7M386.7 449.7L390.3 446.1" stroke="#dc1010" stroke-width="0.6" fill="none"/>
<circle cx="388.5" cy="447.9" r="0.70" fill="#b80f0f"/>
<path d="M383.7 450.2H388.9M386.3 447.6V452.8M384.5 448.4L388.1 452.0M384.5 452.0L388.1 448.4" stroke="#dc1010" stroke-width="0.6" fill="none"/>
<circle cx="386.3" cy="450.2" r="0.70" fill="#b80f0f"/>
<path d="M387.0 450.8H392.2M389.6 448.2V453.4M387.8 449.0L391.4 452.6M387.8 452.6L391.4 449.0" stroke="#dc1010" stroke-width="0.6" fill="none"/>
<circle cx="389.6" cy="450.8" r="0.70" fill="#b80f0f"/>
<path d="M388.6 452.4H393.8M391.2 449.8V455.0M389.4 450.6L393.0 454.2M389.4 454.2L393.0 450.6" stroke="#dc1010" stroke-width="0.6" fill="none"/>
<circle cx="391.2" cy="452.4" r="0.70" fill="#b80f0f"/>
<path d="M378.8 453.9H384.0M381.4 451.3V456.5M379.6 452.1L383.2 455.7M379.6 455.7L383.2 452.1" stroke="#dc1010" stroke-width="0.6" fill="none"/>
<circle cx="381.4" cy="453.9" r="0.70" fill="#b80f0f"/>
<path d="M392.1 457.9H397.3M394.7 455.3V460.5M392.9 456.1L396.5 459.7M392.9 459.7L396.5 456.1" stroke="#dc1010" stroke-width="0.6" fill="none"/>
<circle cx="394.7" cy="457.9" r="0.70" fill="#b80f0f"/>
<path d="M350.7 460.8H355.9M353.3 458.2V463.4M351.5 459.0L355.1 462.6M351.5 462.6L355.1 459.0" stroke="#dc1010" stroke-width="0.6" fill="none"/>
<circle cx="353.3" cy="460.8" r="0.70" fill="#b80f0f"/>
<path d="M390.3 461.3H395.5M392.9 458.7V463.9M391.1 459.5L394.7 463.1M391.1 463.1L394.7 459.5" stroke="#dc1010" stroke-width="0.6" fill="none"/>
<circle cx="392.9" cy="461.3" r="0.70" fill="#b80f0f"/>
<path d="M387.7 463.1H392.9M390.3 460.5V465.7M388.5 461.3L392.1 464.9M388.5 464.9L392.1 461.3" stroke="#dc1010" stroke-width="0.6" fill="none"/>
<circle cx="390.3" cy="463.1" r="0.70" fill="#b80f0f"/>
<path d="M393.7 463.5H398.9M396.3 460.9V466.1M394.5 461.7L398.1 465.3M394.5 465.3L398.1 461.7" stroke="#dc1010" stroke-width="0.6" fill="none"/>
<circle cx="396.3" cy="463.5" r="0.70" fill="#b80f0f"/>
<path d="M391.5 465.1H396.7M394.1 462.5V467.7M392.3 463.3L395.9 466.9M392.3 466.9L395.9 463.3" stroke="#dc1010" stroke-width="0.6" fill="none"/>
<circle cx="394.1" cy="465.1" r="0.70" fill="#b80f0f"/>
<path d="M379.9 467.0H385.1M382.5 464.4V469.6M380.7 465.2L384.3 468.8M380.7 468.8L384.3 465.2" stroke="#dc1010" stroke-width="0.6" fill="none"/>
<circle cx="382.5" cy="467.0" r="0.70" fill="#b80f0f"/>
<path d="M471.1 282.1H475.5M473.3 279.9V284.3M471.7 280.5L474.9 283.7M471.7 283.7L474.9 280.5" stroke="#f41010" stroke-width="0.8" fill="none"/>
<path d="M472.2 281.8H476.6M474.4 279.6V284.0M472.8 280.2L476.0 283.4M472.8 283.4L476.0 280.2" stroke="#f41010" stroke-width="0.8" fill="none"/>
<path d="M473.2 282.0H477.6M475.4 279.8V284.2M473.8 280.4L477.0 283.6M473.8 283.6L477.0 280.4" stroke="#f41010" stroke-width="0.8" fill="none"/>
<circle cx="473.3" cy="286.0" r="0.95" fill="#000"/>
<circle cx="473.3" cy="288.0" r="0.95" fill="#000"/>
<circle cx="473.3" cy="290.0" r="0.95" fill="#000"/>
<circle cx="473.3" cy="292.0" r="0.95" fill="#000"/>
<circle cx="473.3" cy="294.0" r="0.95" fill="#000"/>
<circle cx="473.4" cy="296.0" r="0.95" fill="#000"/>
<circle cx="473.6" cy="297.0" r="1.07" fill="#000"/>
<circle cx="473.7" cy="298.0" r="1.07" fill="#000"/>
<circle cx="473.8" cy="299.0" r="1.07" fill="#000"/>
<circle cx="473.9" cy="300.0" r="1.07" fill="#000"/>
<circle cx="473.9" cy="301.0" r="1.07" fill="#000"/>
<circle cx="474.0" cy="302.0" r="1.07" fill="#000"/>
<circle cx="474.0" cy="303.0" r="1.07" fill="#000"/>
<circle cx="474.1" cy="304.0" r="1.07" fill="#000"/>
<circle cx="474.1" cy="305.0" r="1.07" fill="#000"/>
<circle cx="474.1" cy="306.0" r="1.07" fill="#000"/>
<circle cx="474.2" cy="307.0" r="1.07" fill="#000"/>
<circle cx="474.2" cy="308.0" r="1.07" fill="#000"/>
<circle cx="474.3" cy="309.0" r="1.07" fill="#000"/>
<circle cx="474.3" cy="310.0" r="1.07" fill="#000"/>
<circle cx="474.4" cy="311.0" r="1.07" fill="#000"/>
<circle cx="474.4" cy="312.0" r="1.07" fill="#000"/>
<circle cx="474.5" cy="313.0" r="1.07" fill="#000"/>
<circle cx="474.5" cy="314.0" r="1.07" fill="#000"/>
<circle cx="474.5" cy="315.0" r="1.07" fill="#000"/>
<circle cx="474.6" cy="316.0" r="1.07" fill="#000"/>
<circle cx="474.6" cy="317.0" r="1.07" fill="#000"/>
<circle cx="474.7" cy="318.0" r="1.07" fill="#000"/>
<circle cx="474.7" cy="319.0" r="1.07" fill="#000"/>
<circle cx="474.8" cy="320.0" r="1.07" fill="#000"/>
<circle cx="474.8" cy="321.0" r="1.07" fill="#000"/>
<circle cx="474.8" cy="322.0" r="1.07" fill="#000"/>
<circle cx="474.8" cy="323.0" r="1.07" fill="#000"/>
<circle cx="474.9" cy="324.0" r="1.07" fill="#000"/>
<circle cx="474.9" cy="325.0" r="1.07" fill="#000"/>
<circle cx="474.9" cy="326.0" r="1.07" fill="#000"/>
<circle cx="474.9" cy="327.0" r="1.07" fill="#000"/>
<circle cx="474.9" cy="328.0" r="1.07" fill="#000"/>
<circle cx="475.0" cy="329.0" r="1.07" fill="#000"/>
<circle cx="475.0" cy="330.0" r="1.07" fill="#000"/>
<circle cx="475.0" cy="331.0" r="1.07" fill="#000"/>
<circle cx="475.0" cy="332.0" r="1.07" fill="#000"/>
<circle cx="475.0" cy="333.0" r="1.07" fill="#000"/>
<circle cx="475.1" cy="334.0" r="1.07" fill="#000"/>
<circle cx="475.1" cy="335.0" r="1.07" fill="#000"/>
<circle cx="475.1" cy="336.0" r="1.07" fill="#000"/>
<circle cx="475.1" cy="337.0" r="1.07" fill="#000"/>
<circle cx="475.1" cy="338.0" r="1.07" fill="#000"/>
<circle cx="475.2" cy="339.0" r="1.07" fill="#000"/>
<circle cx="475.2" cy="340.0" r="1.07" fill="#000"/>
<circle cx="475.2" cy="341.0" r="1.07" fill="#000"/>
<circle cx="475.2" cy="342.0" r="1.07" fill="#000"/>
<circle cx="475.2" cy="343.0" r="1.07" fill="#000"/>
<circle cx="475.3" cy="344.0" r="1.07" fill="#000"/>
<circle cx="475.3" cy="345.0" r="1.07" fill="#000"/>
<circle cx="475.3" cy="346.0" r="1.07" fill="#000"/>
<circle cx="475.3" cy="347.0" r="1.07" fill="#000"/>
<circle cx="475.3" cy="348.0" r="1.07" fill="#000"/>
<circle cx="475.4" cy="349.0" r="1.07" fill="#000"/>
<circle cx="475.4" cy="350.0" r="1.07" fill="#000"/>
<circle cx="475.4" cy="351.0" r="1.07" fill="#000"/>
<circle cx="475.5" cy="352.0" r="1.07" fill="#000"/>
<circle cx="475.6" cy="353.0" r="1.07" fill="#000"/>
<circle cx="475.7" cy="354.0" r="1.07" fill="#000"/>
<circle cx="475.8" cy="355.0" r="1.07" fill="#000"/>
<circle cx="475.8" cy="355.3" r="0.95" fill="#000"/>
<circle cx="477.4" cy="356.4" r="0.95" fill="#000"/>
<circle cx="479.0" cy="357.4" r="0.95" fill="#000"/>
<circle cx="480.7" cy="358.3" r="0.95" fill="#000"/>
<circle cx="482.4" cy="359.1" r="0.95" fill="#000"/>
<circle cx="483.6" cy="360.5" r="0.95" fill="#000"/>
<circle cx="484.7" cy="362.1" r="0.95" fill="#000"/>
<circle cx="486.2" cy="363.1" r="0.95" fill="#000"/>
<circle cx="487.9" cy="364.0" r="0.95" fill="#000"/>
<circle cx="489.7" cy="364.5" r="0.95" fill="#000"/>
<circle cx="491.2" cy="365.4" r="0.95" fill="#000"/>
<path d="M489.9 368.9H493.7M491.8 367.0V370.8M490.5 367.6L493.1 370.2M490.5 370.2L493.1 367.6" stroke="#55e6dc" stroke-width="0.45" fill="none"/>
<circle cx="491.8" cy="368.9" r="0.51" fill="#3fd9cf"/>
<path d="M491.4 370.8H495.2M493.3 368.9V372.7M491.9 369.4L494.6 372.1M491.9 372.1L494.6 369.4" stroke="#55e6dc" stroke-width="0.45" fill="none"/>
<circle cx="493.3" cy="370.8" r="0.51" fill="#3fd9cf"/>
<path d="M492.9 372.7H496.7M494.8 370.8V374.6M493.4 371.3L496.1 374.0M493.4 374.0L496.1 371.3" stroke="#55e6dc" stroke-width="0.45" fill="none"/>
<circle cx="494.8" cy="372.7" r="0.51" fill="#3fd9cf"/>
<path d="M494.4 374.5H498.2M496.3 372.6V376.4M494.9 373.2L497.6 375.9M494.9 375.9L497.6 373.2" stroke="#55e6dc" stroke-width="0.45" fill="none"/>
<circle cx="496.3" cy="374.5" r="0.51" fill="#3fd9cf"/>
<path d="M496.5 375.6H500.3M498.4 373.7V377.5M497.1 374.3L499.7 377.0M497.1 377.0L499.7 374.3" stroke="#55e6dc" stroke-width="0.45" fill="none"/>
<circle cx="498.4" cy="375.6" r="0.51" fill="#3fd9cf"/>
<path d="M498.6 376.7H502.4M500.5 374.8V378.6M499.2 375.4L501.9 378.1M499.2 378.1L501.9 375.4" stroke="#55e6dc" stroke-width="0.45" fill="none"/>
<circle cx="500.5" cy="376.7" r="0.51" fill="#3fd9cf"/>
<path d="M500.4 378.2H504.2M502.3 376.3V380.1M501.0 376.9L503.7 379.6M501.0 379.6L503.7 376.9" stroke="#55e6dc" stroke-width="0.45" fill="none"/>
<circle cx="502.3" cy="378.2" r="0.51" fill="#3fd9cf"/>
<path d="M501.7 380.2H505.5M503.6 378.3V382.1M502.3 378.9L504.9 381.6M502.3 381.6L504.9 378.9" stroke="#55e6dc" stroke-width="0.45" fill="none"/>
<circle cx="503.6" cy="380.2" r="0.51" fill="#3fd9cf"/>
<path d="M503.0 382.3H506.8M504.9 380.4V384.2M503.5 380.9L506.2 383.6M503.5 383.6L506.2 380.9" stroke="#55e6dc" stroke-width="0.45" fill="none"/>
<circle cx="504.9" cy="382.3" r="0.51" fill="#3fd9cf"/>
<path d="M504.3 384.3H508.1M506.2 382.4V386.2M504.8 383.0L507.5 385.6M504.8 385.6L507.5 383.0" stroke="#55e6dc" stroke-width="0.45" fill="none"/>
<circle cx="506.2" cy="384.3" r="0.51" fill="#3fd9cf"/>
<path d="M505.4 386.4H509.2M507.3 384.5V388.3M505.9 385.1L508.6 387.8M505.9 387.8L508.6 385.1" stroke="#55e6dc" stroke-width="0.45" fill="none"/>
<circle cx="507.3" cy="386.4" r="0.51" fill="#3fd9cf"/>
<path d="M506.4 388.6H510.2M508.3 386.7V390.5M507.0 387.2L509.7 389.9M507.0 389.9L509.7 387.2" stroke="#55e6dc" stroke-width="0.45" fill="none"/>
<circle cx="508.3" cy="388.6" r="0.51" fill="#3fd9cf"/>
<path d="M507.5 390.7H511.3M509.4 388.8V392.6M508.0 389.4L510.7 392.1M508.0 392.1L510.7 389.4" stroke="#55e6dc" stroke-width="0.45" fill="none"/>
<circle cx="509.4" cy="390.7" r="0.51" fill="#3fd9cf"/>
<path d="M508.6 392.9H512.4M510.5 391.0V394.8M509.1 391.6L511.8 394.2M509.1 394.2L511.8 391.6" stroke="#55e6dc" stroke-width="0.45" fill="none"/>
<circle cx="510.5" cy="392.9" r="0.51" fill="#3fd9cf"/>
<path d="M509.7 395.0H513.5M511.6 393.1V396.9M510.3 393.6L513.0 396.3M510.3 396.3L513.0 393.6" stroke="#55e6dc" stroke-width="0.45" fill="none"/>
<circle cx="511.6" cy="395.0" r="0.51" fill="#3fd9cf"/>
<path d="M511.0 397.1H514.8M512.9 395.2V399.0M511.5 395.7L514.2 398.4M511.5 398.4L514.2 395.7" stroke="#55e6dc" stroke-width="0.45" fill="none"/>
<circle cx="512.9" cy="397.1" r="0.51" fill="#3fd9cf"/>
<path d="M509.2 423.9H514.4M511.8 421.3V426.5M510.0 422.1L513.6 425.7M510.0 425.7L513.6 422.1" stroke="#55e6dc" stroke-width="0.6" fill="none"/>
<circle cx="511.8" cy="423.9" r="0.70" fill="#3fd9cf"/>
<path d="M508.0 426.0H513.2M510.6 423.4V428.6M508.8 424.2L512.4 427.8M508.8 427.8L512.4 424.2" stroke="#55e6dc" stroke-width="0.6" fill="none"/>
<circle cx="510.6" cy="426.0" r="0.70" fill="#3fd9cf"/>
<path d="M520.4 430.1H525.6M523.0 427.5V432.7M521.2 428.3L524.8 431.9M521.2 431.9L524.8 428.3" stroke="#55e6dc" stroke-width="0.6" fill="none"/>
<circle cx="523.0" cy="430.1" r="0.70" fill="#3fd9cf"/>
<path d="M521.9 433.2H527.1M524.5 430.6V435.8M522.7 431.4L526.3 435.0M522.7 435.0L526.3 431.4" stroke="#55e6dc" stroke-width="0.6" fill="none"/>
<circle cx="524.5" cy="433.2" r="0.70" fill="#3fd9cf"/>
<path d="M523.7 436.8H528.9M526.3 434.2V439.4M524.5 435.0L528.1 438.6M524.5 438.6L528.1 435.0" stroke="#55e6dc" stroke-width="0.6" fill="none"/>
<circle cx="526.3" cy="436.8" r="0.70" fill="#3fd9cf"/>
<path d="M527.0 455.7H532.2M529.6 453.1V458.3M527.8 453.9L531.4 457.5M527.8 457.5L531.4 453.9" stroke="#55e6dc" stroke-width="0.6" fill="none"/>
<circle cx="529.6" cy="455.7" r="0.70" fill="#3fd9cf"/>
<path d="M529.2 458.0H534.4M531.8 455.4V460.6M530.0 456.2L533.6 459.8M530.0 459.8L533.6 456.2" stroke="#55e6dc" stroke-width="0.6" fill="none"/>
<circle cx="531.8" cy="458.0" r="0.70" fill="#3fd9cf"/>
<path d="M531.5 460.2H536.7M534.1 457.6V462.8M532.3 458.4L535.9 462.0M532.3 462.0L535.9 458.4" stroke="#55e6dc" stroke-width="0.6" fill="none"/>
<circle cx="534.1" cy="460.2" r="0.70" fill="#3fd9cf"/>
<path d="M493.2 375.1H498.4M495.8 372.5V377.7M494.0 373.3L497.6 376.9M494.0 376.9L497.6 373.3" stroke="#dc1010" stroke-width="0.6" fill="none"/>
<circle cx="495.8" cy="375.1" r="0.70" fill="#b80f0f"/>
<path d="M501.4 379.6H506.6M504.0 377.0V382.2M502.2 377.8L505.8 381.4M502.2 381.4L505.8 377.8" stroke="#dc1010" stroke-width="0.6" fill="none"/>
<circle cx="504.0" cy="379.6" r="0.70" fill="#b80f0f"/>
<path d="M504.3 381.6H509.5M506.9 379.0V384.2M505.1 379.8L508.7 383.4M505.1 383.4L508.7 379.8" stroke="#dc1010" stroke-width="0.6" fill="none"/>
<circle cx="506.9" cy="381.6" r="0.70" fill="#b80f0f"/>
<path d="M499.9 382.9H505.1M502.5 380.3V385.5M500.7 381.1L504.3 384.7M500.7 384.7L504.3 381.1" stroke="#dc1010" stroke-width="0.6" fill="none"/>
<circle cx="502.5" cy="382.9" r="0.70" fill="#b80f0f"/>
<path d="M502.5 386.7H507.7M505.1 384.1V389.3M503.3 384.9L506.9 388.5M503.3 388.5L506.9 384.9" stroke="#dc1010" stroke-width="0.6" fill="none"/>
<circle cx="505.1" cy="386.7" r="0.70" fill="#b80f0f"/>
<path d="M497.0 388.3H502.2M499.6 385.7V390.9M497.8 386.5L501.4 390.1M497.8 390.1L501.4 386.5" stroke="#dc1010" stroke-width="0.6" fill="none"/>
<circle cx="499.6" cy="388.3" r="0.70" fill="#b80f0f"/>
<path d="M500.8 391.8H506.0M503.4 389.2V394.4M501.6 390.0L505.2 393.6M501.6 393.6L505.2 390.0" stroke="#dc1010" stroke-width="0.6" fill="none"/>
<circle cx="503.4" cy="391.8" r="0.70" fill="#b80f0f"/>
<path d="M514.3 395.6H519.5M516.9 393.0V398.2M515.1 393.8L518.7 397.4M515.1 397.4L518.7 393.8" stroke="#dc1010" stroke-width="0.6" fill="none"/>
<circle cx="516.9" cy="395.6" r="0.70" fill="#b80f0f"/>
<path d="M507.0 397.2H512.2M509.6 394.6V399.8M507.8 395.4L511.4 399.0M507.8 399.0L511.4 395.4" stroke="#dc1010" stroke-width="0.6" fill="none"/>
<circle cx="509.6" cy="397.2" r="0.70" fill="#b80f0f"/>
<path d="M511.4 399.0H516.6M514.0 396.4V401.6M512.2 397.2L515.8 400.8M512.2 400.8L515.8 397.2" stroke="#dc1010" stroke-width="0.6" fill="none"/>
<circle cx="514.0" cy="399.0" r="0.70" fill="#b80f0f"/>
<path d="M514.8 401.2H520.0M517.4 398.6V403.8M515.6 399.4L519.2 403.0M515.6 403.0L519.2 399.4" stroke="#dc1010" stroke-width="0.6" fill="none"/>
<circle cx="517.4" cy="401.2" r="0.70" fill="#b80f0f"/>
<path d="M498.1 400.7H503.3M500.7 398.1V403.3M498.9 398.9L502.5 402.5M498.9 402.5L502.5 398.9" stroke="#dc1010" stroke-width="0.6" fill="none"/>
<circle cx="500.7" cy="400.7" r="0.70" fill="#b80f0f"/>
<path d="M508.1 404.5H513.3M510.7 401.9V407.1M508.9 402.7L512.5 406.3M508.9 406.3L512.5 402.7" stroke="#dc1010" stroke-width="0.6" fill="none"/>
<circle cx="510.7" cy="404.5" r="0.70" fill="#b80f0f"/>
<path d="M504.8 405.6H510.0M507.4 403.0V408.2M505.6 403.8L509.2 407.4M505.6 407.4L509.2 403.8" stroke="#dc1010" stroke-width="0.6" fill="none"/>
<circle cx="507.4" cy="405.6" r="0.70" fill="#b80f0f"/>
<path d="M514.8 406.1H520.0M517.4 403.5V408.7M515.6 404.3L519.2 407.9M515.6 407.9L519.2 404.3" stroke="#dc1010" stroke-width="0.6" fill="none"/>
<circle cx="517.4" cy="406.1" r="0.70" fill="#b80f0f"/>
<path d="M499.2 407.2H504.4M501.8 404.6V409.8M500.0 405.4L503.6 409.0M500.0 409.0L503.6 405.4" stroke="#dc1010" stroke-width="0.6" fill="none"/>
<circle cx="501.8" cy="407.2" r="0.70" fill="#b80f0f"/>
<path d="M519.2 407.9H524.4M521.8 405.3V410.5M520.0 406.1L523.6 409.7M520.0 409.7L523.6 406.1" stroke="#dc1010" stroke-width="0.6" fill="none"/>
<circle cx="521.8" cy="407.9" r="0.70" fill="#b80f0f"/>
<path d="M523.7 411.6H528.9M526.3 409.0V414.2M524.5 409.8L528.1 413.4M524.5 413.4L528.1 409.8" stroke="#dc1010" stroke-width="0.6" fill="none"/>
<circle cx="526.3" cy="411.6" r="0.70" fill="#b80f0f"/>
<path d="M520.4 413.4H525.6M523.0 410.8V416.0M521.2 411.6L524.8 415.2M521.2 415.2L524.8 411.6" stroke="#dc1010" stroke-width="0.6" fill="none"/>
<circle cx="523.0" cy="413.4" r="0.70" fill="#b80f0f"/>
<path d="M516.3 414.5H521.5M518.9 411.9V417.1M517.1 412.7L520.7 416.3M517.1 416.3L520.7 412.7" stroke="#dc1010" stroke-width="0.6" fill="none"/>
<circle cx="518.9" cy="414.5" r="0.70" fill="#b80f0f"/>
<path d="M517.0 416.8H522.2M519.6 414.2V419.4M517.8 415.0L521.4 418.6M517.8 418.6L521.4 415.0" stroke="#dc1010" stroke-width="0.6" fill="none"/>
<circle cx="519.6" cy="416.8" r="0.70" fill="#b80f0f"/>
<path d="M514.8 418.5H520.0M517.4 415.9V421.1M515.6 416.7L519.2 420.3M515.6 420.3L519.2 416.7" stroke="#dc1010" stroke-width="0.6" fill="none"/>
<circle cx="517.4" cy="418.5" r="0.70" fill="#b80f0f"/>
<path d="M501.9 419.4H507.1M504.5 416.8V422.0M502.7 417.6L506.3 421.2M502.7 421.2L506.3 417.6" stroke="#dc1010" stroke-width="0.6" fill="none"/>
<circle cx="504.5" cy="419.4" r="0.70" fill="#b80f0f"/>
<path d="M496.5 421.2H501.7M499.1 418.6V423.8M497.3 419.4L500.9 423.0M497.3 423.0L500.9 419.4" stroke="#dc1010" stroke-width="0.6" fill="none"/>
<circle cx="499.1" cy="421.2" r="0.70" fill="#b80f0f"/>
<path d="M509.9 423.9H515.1M512.5 421.3V426.5M510.7 422.1L514.3 425.7M510.7 425.7L514.3 422.1" stroke="#dc1010" stroke-width="0.6" fill="none"/>
<circle cx="512.5" cy="423.9" r="0.70" fill="#b80f0f"/>
<path d="M518.6 426.3H523.8M521.2 423.7V428.9M519.4 424.5L523.0 428.1M519.4 428.1L523.0 424.5" stroke="#dc1010" stroke-width="0.6" fill="none"/>
<circle cx="521.2" cy="426.3" r="0.70" fill="#b80f0f"/>
<path d="M504.3 427.9H509.5M506.9 425.3V430.5M505.1 426.1L508.7 429.7M505.1 429.7L508.7 426.1" stroke="#dc1010" stroke-width="0.6" fill="none"/>
<circle cx="506.9" cy="427.9" r="0.70" fill="#b80f0f"/>
<path d="M525.9 431.2H531.1M528.5 428.6V433.8M526.7 429.4L530.3 433.0M526.7 433.0L530.3 429.4" stroke="#dc1010" stroke-width="0.6" fill="none"/>
<circle cx="528.5" cy="431.2" r="0.70" fill="#b80f0f"/>
<path d="M528.6 432.8H533.8M531.2 430.2V435.4M529.4 431.0L533.0 434.6M529.4 434.6L533.0 431.0" stroke="#dc1010" stroke-width="0.6" fill="none"/>
<circle cx="531.2" cy="432.8" r="0.70" fill="#b80f0f"/>
<path d="M522.6 434.6H527.8M525.2 432.0V437.2M523.4 432.8L527.0 436.4M523.4 436.4L527.0 432.8" stroke="#dc1010" stroke-width="0.6" fill="none"/>
<circle cx="525.2" cy="434.6" r="0.70" fill="#b80f0f"/>
<path d="M524.8 437.9H530.0M527.4 435.3V440.5M525.6 436.1L529.2 439.7M525.6 439.7L529.2 436.1" stroke="#dc1010" stroke-width="0.6" fill="none"/>
<circle cx="527.4" cy="437.9" r="0.70" fill="#b80f0f"/>
<path d="M527.0 439.7H532.2M529.6 437.1V442.3M527.8 437.9L531.4 441.5M527.8 441.5L531.4 437.9" stroke="#dc1010" stroke-width="0.6" fill="none"/>
<circle cx="529.6" cy="439.7" r="0.70" fill="#b80f0f"/>
<path d="M520.4 442.4H525.6M523.0 439.8V445.0M521.2 440.6L524.8 444.2M521.2 444.2L524.8 440.6" stroke="#dc1010" stroke-width="0.6" fill="none"/>
<circle cx="523.0" cy="442.4" r="0.70" fill="#b80f0f"/>
<path d="M523.7 442.8H528.9M526.3 440.2V445.4M524.5 441.0L528.1 444.6M524.5 444.6L528.1 441.0" stroke="#dc1010" stroke-width="0.6" fill="none"/>
<circle cx="526.3" cy="442.8" r="0.70" fill="#b80f0f"/>
<path d="M527.0 444.6H532.2M529.6 442.0V447.2M527.8 442.8L531.4 446.4M527.8 446.4L531.4 442.8" stroke="#dc1010" stroke-width="0.6" fill="none"/>
<circle cx="529.6" cy="444.6" r="0.70" fill="#b80f0f"/>
<path d="M524.8 446.8H530.0M527.4 444.2V449.4M525.6 445.0L529.2 448.6M525.6 448.6L529.2 445.0" stroke="#dc1010" stroke-width="0.6" fill="none"/>
<circle cx="527.4" cy="446.8" r="0.70" fill="#b80f0f"/>
<path d="M522.6 449.0H527.8M525.2 446.4V451.6M523.4 447.2L527.0 450.8M523.4 450.8L527.0 447.2" stroke="#dc1010" stroke-width="0.6" fill="none"/>
<circle cx="525.2" cy="449.0" r="0.70" fill="#b80f0f"/>
<path d="M525.9 450.2H531.1M528.5 447.6V452.8M526.7 448.4L530.3 452.0M526.7 452.0L530.3 448.4" stroke="#dc1010" stroke-width="0.6" fill="none"/>
<circle cx="528.5" cy="450.2" r="0.70" fill="#b80f0f"/>
<path d="M520.4 451.3H525.6M523.0 448.7V453.9M521.2 449.5L524.8 453.1M521.2 453.1L524.8 449.5" stroke="#dc1010" stroke-width="0.6" fill="none"/>
<circle cx="523.0" cy="451.3" r="0.70" fill="#b80f0f"/>
<path d="M517.5 453.9H522.7M520.1 451.3V456.5M518.3 452.1L521.9 455.7M518.3 455.7L521.9 452.1" stroke="#dc1010" stroke-width="0.6" fill="none"/>
<circle cx="520.1" cy="453.9" r="0.70" fill="#b80f0f"/>
<path d="M527.0 452.4H532.2M529.6 449.8V455.0M527.8 450.6L531.4 454.2M527.8 454.2L531.4 450.6" stroke="#dc1010" stroke-width="0.6" fill="none"/>
<circle cx="529.6" cy="452.4" r="0.70" fill="#b80f0f"/>
<path d="M532.6 458.4H537.8M535.2 455.8V461.0M533.4 456.6L537.0 460.2M533.4 460.2L537.0 456.6" stroke="#dc1010" stroke-width="0.6" fill="none"/>
<circle cx="535.2" cy="458.4" r="0.70" fill="#b80f0f"/>
<path d="M529.3 462.4H534.5M531.9 459.8V465.0M530.1 460.6L533.7 464.2M530.1 464.2L533.7 460.6" stroke="#dc1010" stroke-width="0.6" fill="none"/>
<circle cx="531.9" cy="462.4" r="0.70" fill="#b80f0f"/>
<path d="M533.7 464.2H538.9M536.3 461.6V466.8M534.5 462.4L538.1 466.0M534.5 466.0L538.1 462.4" stroke="#dc1010" stroke-width="0.6" fill="none"/>
<circle cx="536.3" cy="464.2" r="0.70" fill="#b80f0f"/>
<path d="M533.0 465.7H538.2M535.6 463.1V468.3M533.8 463.9L537.4 467.5M533.8 467.5L537.4 463.9" stroke="#dc1010" stroke-width="0.6" fill="none"/>
<circle cx="535.6" cy="465.7" r="0.70" fill="#b80f0f"/>
<path d="M522.6 467.0H527.8M525.2 464.4V469.6M523.4 465.2L527.0 468.8M523.4 468.8L527.0 465.2" stroke="#dc1010" stroke-width="0.6" fill="none"/>
<circle cx="525.2" cy="467.0" r="0.70" fill="#b80f0f"/>
<path d="M465.8 375.6H471.0M468.4 373.0V378.2M466.6 373.8L470.2 377.4M466.6 377.4L470.2 373.8" stroke="#dc1010" stroke-width="0.6" fill="none"/>
<circle cx="468.4" cy="375.6" r="0.70" fill="#b80f0f"/>
<path d="M454.7 380.5H459.9M457.3 377.9V383.1M455.5 378.7L459.1 382.3M455.5 382.3L459.1 378.7" stroke="#dc1010" stroke-width="0.6" fill="none"/>
<circle cx="457.3" cy="380.5" r="0.70" fill="#b80f0f"/>
<path d="M490.7 382.3H495.9M493.3 379.7V384.9M491.5 380.5L495.1 384.1M491.5 384.1L495.1 380.5" stroke="#dc1010" stroke-width="0.6" fill="none"/>
<circle cx="493.3" cy="382.3" r="0.70" fill="#b80f0f"/>
<path d="M480.3 387.4H485.5M482.9 384.8V390.0M481.1 385.6L484.7 389.2M481.1 389.2L484.7 385.6" stroke="#dc1010" stroke-width="0.6" fill="none"/>
<circle cx="482.9" cy="387.4" r="0.70" fill="#b80f0f"/>
<path d="M490.3 388.9H495.5M492.9 386.3V391.5M491.1 387.1L494.7 390.7M491.1 390.7L494.7 387.1" stroke="#dc1010" stroke-width="0.6" fill="none"/>
<circle cx="492.9" cy="388.9" r="0.70" fill="#b80f0f"/>
<path d="M471.8 401.2H477.0M474.4 398.6V403.8M472.6 399.4L476.2 403.0M472.6 403.0L476.2 399.4" stroke="#dc1010" stroke-width="0.6" fill="none"/>
<circle cx="474.4" cy="401.2" r="0.70" fill="#b80f0f"/>
<path d="M481.4 399.6H486.6M484.0 397.0V402.2M482.2 397.8L485.8 401.4M482.2 401.4L485.8 397.8" stroke="#dc1010" stroke-width="0.6" fill="none"/>
<circle cx="484.0" cy="399.6" r="0.70" fill="#b80f0f"/>
<path d="M482.5 402.3H487.7M485.1 399.7V404.9M483.3 400.5L486.9 404.1M483.3 404.1L486.9 400.5" stroke="#dc1010" stroke-width="0.6" fill="none"/>
<circle cx="485.1" cy="402.3" r="0.70" fill="#b80f0f"/>
<path d="M442.9 410.5H448.1M445.5 407.9V413.1M443.7 408.7L447.3 412.3M443.7 412.3L447.3 408.7" stroke="#dc1010" stroke-width="0.6" fill="none"/>
<circle cx="445.5" cy="410.5" r="0.70" fill="#b80f0f"/>
<path d="M453.6 409.6H458.8M456.2 407.0V412.2M454.4 407.8L458.0 411.4M454.4 411.4L458.0 407.8" stroke="#dc1010" stroke-width="0.6" fill="none"/>
<circle cx="456.2" cy="409.6" r="0.70" fill="#b80f0f"/>
<path d="M463.6 408.5H468.8M466.2 405.9V411.1M464.4 406.7L468.0 410.3M464.4 410.3L468.0 406.7" stroke="#dc1010" stroke-width="0.6" fill="none"/>
<circle cx="466.2" cy="408.5" r="0.70" fill="#b80f0f"/>
<path d="M466.5 412.8H471.7M469.1 410.2V415.4M467.3 411.0L470.9 414.6M467.3 414.6L470.9 411.0" stroke="#dc1010" stroke-width="0.6" fill="none"/>
<circle cx="469.1" cy="412.8" r="0.70" fill="#b80f0f"/>
<path d="M488.1 417.4H493.3M490.7 414.8V420.0M488.9 415.6L492.5 419.2M488.9 419.2L492.5 415.6" stroke="#dc1010" stroke-width="0.6" fill="none"/>
<circle cx="490.7" cy="417.4" r="0.70" fill="#b80f0f"/>
<path d="M459.6 420.1H464.8M462.2 417.5V422.7M460.4 418.3L464.0 421.9M460.4 421.9L464.0 418.3" stroke="#dc1010" stroke-width="0.6" fill="none"/>
<circle cx="462.2" cy="420.1" r="0.70" fill="#b80f0f"/>
<path d="M444.0 424.6H449.2M446.6 422.0V427.2M444.8 422.8L448.4 426.4M444.8 426.4L448.4 422.8" stroke="#dc1010" stroke-width="0.6" fill="none"/>
<circle cx="446.6" cy="424.6" r="0.70" fill="#b80f0f"/>
<path d="M478.1 429.0H483.3M480.7 426.4V431.6M478.9 427.2L482.5 430.8M478.9 430.8L482.5 427.2" stroke="#dc1010" stroke-width="0.6" fill="none"/>
<circle cx="480.7" cy="429.0" r="0.70" fill="#b80f0f"/>
<path d="M497.4 443.9H502.6M500.0 441.3V446.5M498.2 442.1L501.8 445.7M498.2 445.7L501.8 442.1" stroke="#dc1010" stroke-width="0.6" fill="none"/>
<circle cx="500.0" cy="443.9" r="0.70" fill="#b80f0f"/>
<path d="M489.6 460.8H494.8M492.2 458.2V463.4M490.4 459.0L494.0 462.6M490.4 462.6L494.0 459.0" stroke="#dc1010" stroke-width="0.6" fill="none"/>
<circle cx="492.2" cy="460.8" r="0.70" fill="#b80f0f"/>
<path d="M653.5 282.0H657.9M655.7 279.8V284.2M654.1 280.4L657.3 283.6M654.1 283.6L657.3 280.4" stroke="#f41010" stroke-width="0.8" fill="none"/>
<path d="M654.6 281.8H659.0M656.8 279.6V284.0M655.2 280.2L658.4 283.4M655.2 283.4L658.4 280.2" stroke="#f41010" stroke-width="0.8" fill="none"/>
<path d="M655.6 282.0H660.0M657.8 279.8V284.2M656.2 280.4L659.4 283.6M656.2 283.6L659.4 280.4" stroke="#f41010" stroke-width="0.8" fill="none"/>
<circle cx="654.5" cy="285.5" r="0.95" fill="#000"/>
<circle cx="654.5" cy="287.5" r="0.95" fill="#000"/>
<circle cx="654.4" cy="289.5" r="0.95" fill="#000"/>
<circle cx="654.1" cy="291.5" r="0.95" fill="#000"/>
<circle cx="655.2" cy="293.5" r="0.95" fill="#000"/>
<circle cx="654.6" cy="295.5" r="0.95" fill="#000"/>
<circle cx="653.6" cy="297.0" r="0.95" fill="#000"/>
<circle cx="653.8" cy="298.1" r="0.95" fill="#000"/>
<circle cx="656.5" cy="299.3" r="0.95" fill="#000"/>
<circle cx="654.2" cy="300.4" r="0.95" fill="#000"/>
<circle cx="653.0" cy="301.6" r="0.95" fill="#000"/>
<circle cx="655.6" cy="302.7" r="0.95" fill="#000"/>
<circle cx="654.9" cy="303.9" r="0.95" fill="#000"/>
<circle cx="656.4" cy="305.0" r="0.95" fill="#000"/>
<circle cx="652.3" cy="306.2" r="0.95" fill="#000"/>
<circle cx="654.0" cy="307.3" r="0.95" fill="#000"/>
<circle cx="655.6" cy="308.5" r="0.95" fill="#000"/>
<circle cx="655.7" cy="309.6" r="0.95" fill="#000"/>
<circle cx="656.0" cy="310.8" r="0.95" fill="#000"/>
<circle cx="652.0" cy="311.9" r="0.95" fill="#000"/>
<circle cx="653.2" cy="313.1" r="0.95" fill="#000"/>
<circle cx="652.4" cy="314.2" r="0.95" fill="#000"/>
<circle cx="652.7" cy="315.4" r="0.95" fill="#000"/>
<circle cx="656.3" cy="316.5" r="0.95" fill="#000"/>
<circle cx="654.5" cy="317.7" r="0.95" fill="#000"/>
<circle cx="656.1" cy="318.8" r="0.95" fill="#000"/>
<circle cx="653.5" cy="320.0" r="0.95" fill="#000"/>
<circle cx="655.7" cy="321.1" r="0.95" fill="#000"/>
<circle cx="653.8" cy="322.3" r="0.95" fill="#000"/>
<circle cx="652.9" cy="323.4" r="0.95" fill="#000"/>
<circle cx="655.3" cy="324.6" r="0.95" fill="#000"/>
<circle cx="656.1" cy="325.7" r="0.95" fill="#000"/>
<circle cx="652.2" cy="326.9" r="0.95" fill="#000"/>
<circle cx="654.5" cy="328.0" r="0.95" fill="#000"/>
<circle cx="654.6" cy="329.2" r="0.95" fill="#000"/>
<circle cx="652.7" cy="330.3" r="0.95" fill="#000"/>
<circle cx="653.4" cy="331.5" r="0.95" fill="#000"/>
<circle cx="652.3" cy="332.6" r="0.95" fill="#000"/>
<circle cx="652.6" cy="333.8" r="0.95" fill="#000"/>
<circle cx="652.8" cy="334.9" r="0.95" fill="#000"/>
<circle cx="654.4" cy="336.1" r="0.95" fill="#000"/>
<circle cx="654.6" cy="337.2" r="0.95" fill="#000"/>
<circle cx="652.6" cy="338.4" r="0.95" fill="#000"/>
<circle cx="651.7" cy="339.5" r="0.95" fill="#000"/>
<circle cx="653.1" cy="340.7" r="0.95" fill="#000"/>
<circle cx="654.7" cy="341.8" r="0.95" fill="#000"/>
<circle cx="652.4" cy="343.0" r="0.95" fill="#000"/>
<circle cx="653.0" cy="344.1" r="0.95" fill="#000"/>
<circle cx="652.5" cy="345.3" r="0.95" fill="#000"/>
<circle cx="655.2" cy="346.4" r="0.95" fill="#000"/>
<circle cx="654.1" cy="347.6" r="0.95" fill="#000"/>
<circle cx="651.8" cy="348.7" r="0.95" fill="#000"/>
<circle cx="652.0" cy="349.9" r="0.95" fill="#000"/>
<circle cx="653.3" cy="351.0" r="0.95" fill="#000"/>
<circle cx="654.0" cy="352.2" r="0.95" fill="#000"/>
<circle cx="654.2" cy="353.3" r="0.95" fill="#000"/>
<circle cx="651.4" cy="354.5" r="0.95" fill="#000"/>
<circle cx="651.6" cy="355.6" r="0.95" fill="#000"/>
<circle cx="653.8" cy="356.8" r="0.95" fill="#000"/>
<circle cx="652.3" cy="357.9" r="0.95" fill="#000"/>
<circle cx="651.5" cy="359.1" r="0.95" fill="#000"/>
<circle cx="649.5" cy="362.4" r="0.95" fill="#000"/>
<circle cx="651.0" cy="363.6" r="0.95" fill="#000"/>
<circle cx="651.5" cy="365.5" r="0.95" fill="#000"/>
<circle cx="650.3" cy="361.5" r="0.95" fill="#000"/>
<circle cx="658.0" cy="315.0" r="0.95" fill="#000"/>
<path d="M640.8 369.5H646.0M643.4 366.9V372.1M641.6 367.7L645.2 371.3M641.6 371.3L645.2 367.7" stroke="#55e6dc" stroke-width="0.6" fill="none"/>
<circle cx="643.4" cy="369.5" r="0.70" fill="#3fd9cf"/>
<path d="M645.8 370.5H651.0M648.4 367.9V373.1M646.6 368.7L650.2 372.3M646.6 372.3L650.2 368.7" stroke="#55e6dc" stroke-width="0.6" fill="none"/>
<circle cx="648.4" cy="370.5" r="0.70" fill="#3fd9cf"/>
<path d="M644.8 372.6H650.0M647.4 370.0V375.2M645.6 370.8L649.2 374.4M645.6 374.4L649.2 370.8" stroke="#55e6dc" stroke-width="0.6" fill="none"/>
<circle cx="647.4" cy="372.6" r="0.70" fill="#3fd9cf"/>
<path d="M647.0 370.0H652.2M649.6 367.4V372.6M647.8 368.2L651.4 371.8M647.8 371.8L651.4 368.2" stroke="#55e6dc" stroke-width="0.6" fill="none"/>
<circle cx="649.6" cy="370.0" r="0.70" fill="#3fd9cf"/>
<path d="M643.4 374.8H648.6M646.0 372.2V377.4M644.2 373.0L647.8 376.6M644.2 376.6L647.8 373.0" stroke="#55e6dc" stroke-width="0.6" fill="none"/>
<circle cx="646.0" cy="374.8" r="0.70" fill="#3fd9cf"/>
<path d="M641.4 383.4H646.6M644.0 380.8V386.0M642.2 381.6L645.8 385.2M642.2 385.2L645.8 381.6" stroke="#55e6dc" stroke-width="0.6" fill="none"/>
<circle cx="644.0" cy="383.4" r="0.70" fill="#3fd9cf"/>
<path d="M640.0 385.6H645.2M642.6 383.0V388.2M640.8 383.8L644.4 387.4M640.8 387.4L644.4 383.8" stroke="#55e6dc" stroke-width="0.6" fill="none"/>
<circle cx="642.6" cy="385.6" r="0.70" fill="#3fd9cf"/>
<path d="M635.9 393.4H641.1M638.5 390.8V396.0M636.7 391.6L640.3 395.2M636.7 395.2L640.3 391.6" stroke="#55e6dc" stroke-width="0.6" fill="none"/>
<circle cx="638.5" cy="393.4" r="0.70" fill="#3fd9cf"/>
<path d="M633.4 394.6H638.6M636.0 392.0V397.2M634.2 392.8L637.8 396.4M634.2 396.4L637.8 392.8" stroke="#55e6dc" stroke-width="0.6" fill="none"/>
<circle cx="636.0" cy="394.6" r="0.70" fill="#3fd9cf"/>
<path d="M630.3 395.6H635.5M632.9 393.0V398.2M631.1 393.8L634.7 397.4M631.1 397.4L634.7 393.8" stroke="#55e6dc" stroke-width="0.6" fill="none"/>
<circle cx="632.9" cy="395.6" r="0.70" fill="#3fd9cf"/>
<path d="M606.9 425.7H612.1M609.5 423.1V428.3M607.7 423.9L611.3 427.5M607.7 427.5L611.3 423.9" stroke="#55e6dc" stroke-width="0.6" fill="none"/>
<circle cx="609.5" cy="425.7" r="0.70" fill="#3fd9cf"/>
<path d="M613.6 430.1H618.8M616.2 427.5V432.7M614.4 428.3L618.0 431.9M614.4 431.9L618.0 428.3" stroke="#55e6dc" stroke-width="0.6" fill="none"/>
<circle cx="616.2" cy="430.1" r="0.70" fill="#3fd9cf"/>
<path d="M628.1 436.4H633.3M630.7 433.8V439.0M628.9 434.6L632.5 438.2M628.9 438.2L632.5 434.6" stroke="#55e6dc" stroke-width="0.6" fill="none"/>
<circle cx="630.7" cy="436.4" r="0.70" fill="#3fd9cf"/>
<path d="M631.4 437.9H636.6M634.0 435.3V440.5M632.2 436.1L635.8 439.7M632.2 439.7L635.8 436.1" stroke="#55e6dc" stroke-width="0.6" fill="none"/>
<circle cx="634.0" cy="437.9" r="0.70" fill="#3fd9cf"/>
<path d="M643.7 456.8H648.9M646.3 454.2V459.4M644.5 455.0L648.1 458.6M644.5 458.6L648.1 455.0" stroke="#55e6dc" stroke-width="0.6" fill="none"/>
<circle cx="646.3" cy="456.8" r="0.70" fill="#3fd9cf"/>
<path d="M643.7 377.8H648.9M646.3 375.2V380.4M644.5 376.0L648.1 379.6M644.5 379.6L648.1 376.0" stroke="#dc1010" stroke-width="0.6" fill="none"/>
<circle cx="646.3" cy="377.8" r="0.70" fill="#b80f0f"/>
<path d="M642.6 381.1H647.8M645.2 378.5V383.7M643.4 379.3L647.0 382.9M643.4 382.9L647.0 379.3" stroke="#dc1010" stroke-width="0.6" fill="none"/>
<circle cx="645.2" cy="381.1" r="0.70" fill="#b80f0f"/>
<path d="M638.1 387.8H643.3M640.7 385.2V390.4M638.9 386.0L642.5 389.6M638.9 389.6L642.5 386.0" stroke="#dc1010" stroke-width="0.6" fill="none"/>
<circle cx="640.7" cy="387.8" r="0.70" fill="#b80f0f"/>
<path d="M634.8 382.3H640.0M637.4 379.7V384.9M635.6 380.5L639.2 384.1M635.6 384.1L639.2 380.5" stroke="#dc1010" stroke-width="0.6" fill="none"/>
<circle cx="637.4" cy="382.3" r="0.70" fill="#b80f0f"/>
<path d="M628.1 375.6H633.3M630.7 373.0V378.2M628.9 373.8L632.5 377.4M628.9 377.4L632.5 373.8" stroke="#dc1010" stroke-width="0.6" fill="none"/>
<circle cx="630.7" cy="375.6" r="0.70" fill="#b80f0f"/>
<path d="M615.2 380.5H620.4M617.8 377.9V383.1M616.0 378.7L619.6 382.3M616.0 382.3L619.6 378.7" stroke="#dc1010" stroke-width="0.6" fill="none"/>
<circle cx="617.8" cy="380.5" r="0.70" fill="#b80f0f"/>
<path d="M628.1 387.4H633.3M630.7 384.8V390.0M628.9 385.6L632.5 389.2M628.9 389.2L632.5 385.6" stroke="#dc1010" stroke-width="0.6" fill="none"/>
<circle cx="630.7" cy="387.4" r="0.70" fill="#b80f0f"/>
<path d="M630.3 388.9H635.5M632.9 386.3V391.5M631.1 387.1L634.7 390.7M631.1 390.7L634.7 387.1" stroke="#dc1010" stroke-width="0.6" fill="none"/>
<circle cx="632.9" cy="388.9" r="0.70" fill="#b80f0f"/>
<path d="M637.0 391.2H642.2M639.6 388.6V393.8M637.8 389.4L641.4 393.0M637.8 393.0L641.4 389.4" stroke="#dc1010" stroke-width="0.6" fill="none"/>
<circle cx="639.6" cy="391.2" r="0.70" fill="#b80f0f"/>
<path d="M631.4 396.7H636.6M634.0 394.1V399.3M632.2 394.9L635.8 398.5M632.2 398.5L635.8 394.9" stroke="#dc1010" stroke-width="0.6" fill="none"/>
<circle cx="634.0" cy="396.7" r="0.70" fill="#b80f0f"/>
<path d="M625.9 399.0H631.1M628.5 396.4V401.6M626.7 397.2L630.3 400.8M626.7 400.8L630.3 397.2" stroke="#dc1010" stroke-width="0.6" fill="none"/>
<circle cx="628.5" cy="399.0" r="0.70" fill="#b80f0f"/>
<path d="M613.0 400.7H618.2M615.6 398.1V403.3M613.8 398.9L617.4 402.5M613.8 402.5L617.4 398.9" stroke="#dc1010" stroke-width="0.6" fill="none"/>
<circle cx="615.6" cy="400.7" r="0.70" fill="#b80f0f"/>
<path d="M604.7 400.1H609.9M607.3 397.5V402.7M605.5 398.3L609.1 401.9M605.5 401.9L609.1 398.3" stroke="#dc1010" stroke-width="0.6" fill="none"/>
<circle cx="607.3" cy="400.1" r="0.70" fill="#b80f0f"/>
<path d="M599.2 401.2H604.4M601.8 398.6V403.8M600.0 399.4L603.6 403.0M600.0 403.0L603.6 399.4" stroke="#dc1010" stroke-width="0.6" fill="none"/>
<circle cx="601.8" cy="401.2" r="0.70" fill="#b80f0f"/>
<path d="M605.8 403.0H611.0M608.4 400.4V405.6M606.6 401.2L610.2 404.8M606.6 404.8L610.2 401.2" stroke="#dc1010" stroke-width="0.6" fill="none"/>
<circle cx="608.4" cy="403.0" r="0.70" fill="#b80f0f"/>
<path d="M618.7 403.4H623.9M621.3 400.8V406.0M619.5 401.6L623.1 405.2M619.5 405.2L623.1 401.6" stroke="#dc1010" stroke-width="0.6" fill="none"/>
<circle cx="621.3" cy="403.4" r="0.70" fill="#b80f0f"/>
<path d="M620.3 405.6H625.5M622.9 403.0V408.2M621.1 403.8L624.7 407.4M621.1 407.4L624.7 403.8" stroke="#dc1010" stroke-width="0.6" fill="none"/>
<circle cx="622.9" cy="405.6" r="0.70" fill="#b80f0f"/>
<path d="M617.0 407.9H622.2M619.6 405.3V410.5M617.8 406.1L621.4 409.7M617.8 409.7L621.4 406.1" stroke="#dc1010" stroke-width="0.6" fill="none"/>
<circle cx="619.6" cy="407.9" r="0.70" fill="#b80f0f"/>
<path d="M608.5 407.2H613.7M611.1 404.6V409.8M609.3 405.4L612.9 409.0M609.3 409.0L612.9 405.4" stroke="#dc1010" stroke-width="0.6" fill="none"/>
<circle cx="611.1" cy="407.2" r="0.70" fill="#b80f0f"/>
<path d="M618.1 412.3H623.3M620.7 409.7V414.9M618.9 410.5L622.5 414.1M618.9 414.1L622.5 410.5" stroke="#dc1010" stroke-width="0.6" fill="none"/>
<circle cx="620.7" cy="412.3" r="0.70" fill="#b80f0f"/>
<path d="M615.8 414.5H621.0M618.4 411.9V417.1M616.6 412.7L620.2 416.3M616.6 416.3L620.2 412.7" stroke="#dc1010" stroke-width="0.6" fill="none"/>
<circle cx="618.4" cy="414.5" r="0.70" fill="#b80f0f"/>
<path d="M613.6 417.4H618.8M616.2 414.8V420.0M614.4 415.6L618.0 419.2M614.4 419.2L618.0 415.6" stroke="#dc1010" stroke-width="0.6" fill="none"/>
<circle cx="616.2" cy="417.4" r="0.70" fill="#b80f0f"/>
<path d="M601.8 417.4H607.0M604.4 414.8V420.0M602.6 415.6L606.2 419.2M602.6 419.2L606.2 415.6" stroke="#dc1010" stroke-width="0.6" fill="none"/>
<circle cx="604.4" cy="417.4" r="0.70" fill="#b80f0f"/>
<path d="M605.8 419.4H611.0M608.4 416.8V422.0M606.6 417.6L610.2 421.2M606.6 421.2L610.2 417.6" stroke="#dc1010" stroke-width="0.6" fill="none"/>
<circle cx="608.4" cy="419.4" r="0.70" fill="#b80f0f"/>
<path d="M608.1 421.2H613.3M610.7 418.6V423.8M608.9 419.4L612.5 423.0M608.9 423.0L612.5 419.4" stroke="#dc1010" stroke-width="0.6" fill="none"/>
<circle cx="610.7" cy="421.2" r="0.70" fill="#b80f0f"/>
<path d="M610.7 423.9H615.9M613.3 421.3V426.5M611.5 422.1L615.1 425.7M611.5 425.7L615.1 422.1" stroke="#dc1010" stroke-width="0.6" fill="none"/>
<circle cx="613.3" cy="423.9" r="0.70" fill="#b80f0f"/>
<path d="M605.8 427.9H611.0M608.4 425.3V430.5M606.6 426.1L610.2 429.7M606.6 429.7L610.2 426.1" stroke="#dc1010" stroke-width="0.6" fill="none"/>
<circle cx="608.4" cy="427.9" r="0.70" fill="#b80f0f"/>
<path d="M612.1 426.8H617.3M614.7 424.2V429.4M612.9 425.0L616.5 428.6M612.9 428.6L616.5 425.0" stroke="#dc1010" stroke-width="0.6" fill="none"/>
<circle cx="614.7" cy="426.8" r="0.70" fill="#b80f0f"/>
<path d="M614.7 431.2H619.9M617.3 428.6V433.8M615.5 429.4L619.1 433.0M615.5 433.0L619.1 429.4" stroke="#dc1010" stroke-width="0.6" fill="none"/>
<circle cx="617.3" cy="431.2" r="0.70" fill="#b80f0f"/>
<path d="M615.4 433.9H620.6M618.0 431.3V436.5M616.2 432.1L619.8 435.7M616.2 435.7L619.8 432.1" stroke="#dc1010" stroke-width="0.6" fill="none"/>
<circle cx="618.0" cy="433.9" r="0.70" fill="#b80f0f"/>
<path d="M579.1 410.5H584.3M581.7 407.9V413.1M579.9 408.7L583.5 412.3M579.9 412.3L583.5 408.7" stroke="#dc1010" stroke-width="0.6" fill="none"/>
<circle cx="581.7" cy="410.5" r="0.70" fill="#b80f0f"/>
<path d="M582.5 409.4H587.7M585.1 406.8V412.0M583.3 407.6L586.9 411.2M583.3 411.2L586.9 407.6" stroke="#dc1010" stroke-width="0.6" fill="none"/>
<circle cx="585.1" cy="409.4" r="0.70" fill="#b80f0f"/>
<path d="M587.6 408.5H592.8M590.2 405.9V411.1M588.4 406.7L592.0 410.3M588.4 410.3L592.0 406.7" stroke="#dc1010" stroke-width="0.6" fill="none"/>
<circle cx="590.2" cy="408.5" r="0.70" fill="#b80f0f"/>
<path d="M590.2 412.8H595.4M592.8 410.2V415.4M591.0 411.0L594.6 414.6M591.0 414.6L594.6 411.0" stroke="#dc1010" stroke-width="0.6" fill="none"/>
<circle cx="592.8" cy="412.8" r="0.70" fill="#b80f0f"/>
<path d="M585.1 420.1H590.3M587.7 417.5V422.7M585.9 418.3L589.5 421.9M585.9 421.9L589.5 418.3" stroke="#dc1010" stroke-width="0.6" fill="none"/>
<circle cx="587.7" cy="420.1" r="0.70" fill="#b80f0f"/>
<path d="M576.4 424.6H581.6M579.0 422.0V427.2M577.2 422.8L580.8 426.4M577.2 426.4L580.8 422.8" stroke="#dc1010" stroke-width="0.6" fill="none"/>
<circle cx="579.0" cy="424.6" r="0.70" fill="#b80f0f"/>
<path d="M593.6 429.0H598.8M596.2 426.4V431.6M594.4 427.2L598.0 430.8M594.4 430.8L598.0 427.2" stroke="#dc1010" stroke-width="0.6" fill="none"/>
<circle cx="596.2" cy="429.0" r="0.70" fill="#b80f0f"/>
<path d="M632.5 439.7H637.7M635.1 437.1V442.3M633.3 437.9L636.9 441.5M633.3 441.5L636.9 437.9" stroke="#dc1010" stroke-width="0.6" fill="none"/>
<circle cx="635.1" cy="439.7" r="0.70" fill="#b80f0f"/>
<path d="M639.2 442.4H644.4M641.8 439.8V445.0M640.0 440.6L643.6 444.2M640.0 444.2L643.6 440.6" stroke="#dc1010" stroke-width="0.6" fill="none"/>
<circle cx="641.8" cy="442.4" r="0.70" fill="#b80f0f"/>
<path d="M624.8 443.9H630.0M627.4 441.3V446.5M625.6 442.1L629.2 445.7M625.6 445.7L629.2 442.1" stroke="#dc1010" stroke-width="0.6" fill="none"/>
<circle cx="627.4" cy="443.9" r="0.70" fill="#b80f0f"/>
<path d="M640.3 445.7H645.5M642.9 443.1V448.3M641.1 443.9L644.7 447.5M641.1 447.5L644.7 443.9" stroke="#dc1010" stroke-width="0.6" fill="none"/>
<circle cx="642.9" cy="445.7" r="0.70" fill="#b80f0f"/>
<path d="M641.4 447.9H646.6M644.0 445.3V450.5M642.2 446.1L645.8 449.7M642.2 449.7L645.8 446.1" stroke="#dc1010" stroke-width="0.6" fill="none"/>
<circle cx="644.0" cy="447.9" r="0.70" fill="#b80f0f"/>
<path d="M642.6 450.2H647.8M645.2 447.6V452.8M643.4 448.4L647.0 452.0M643.4 452.0L647.0 448.4" stroke="#dc1010" stroke-width="0.6" fill="none"/>
<circle cx="645.2" cy="450.2" r="0.70" fill="#b80f0f"/>
<path d="M641.4 452.4H646.6M644.0 449.8V455.0M642.2 450.6L645.8 454.2M642.2 454.2L645.8 450.6" stroke="#dc1010" stroke-width="0.6" fill="none"/>
<circle cx="644.0" cy="452.4" r="0.70" fill="#b80f0f"/>
<path d="M638.1 453.9H643.3M640.7 451.3V456.5M638.9 452.1L642.5 455.7M638.9 455.7L642.5 452.1" stroke="#dc1010" stroke-width="0.6" fill="none"/>
<circle cx="640.7" cy="453.9" r="0.70" fill="#b80f0f"/>
<path d="M643.7 454.6H648.9M646.3 452.0V457.2M644.5 452.8L648.1 456.4M644.5 456.4L648.1 452.8" stroke="#dc1010" stroke-width="0.6" fill="none"/>
<circle cx="646.3" cy="454.6" r="0.70" fill="#b80f0f"/>
<path d="M648.1 458.4H653.3M650.7 455.8V461.0M648.9 456.6L652.5 460.2M648.9 460.2L652.5 456.6" stroke="#dc1010" stroke-width="0.6" fill="none"/>
<circle cx="650.7" cy="458.4" r="0.70" fill="#b80f0f"/>
<path d="M623.2 460.8H628.4M625.8 458.2V463.4M624.0 459.0L627.6 462.6M624.0 462.6L627.6 459.0" stroke="#dc1010" stroke-width="0.6" fill="none"/>
<circle cx="625.8" cy="460.8" r="0.70" fill="#b80f0f"/>
<path d="M645.9 462.4H651.1M648.5 459.8V465.0M646.7 460.6L650.3 464.2M646.7 464.2L650.3 460.6" stroke="#dc1010" stroke-width="0.6" fill="none"/>
<circle cx="648.5" cy="462.4" r="0.70" fill="#b80f0f"/>
<path d="M648.6 464.6H653.8M651.2 462.0V467.2M649.4 462.8L653.0 466.4M649.4 466.4L653.0 462.8" stroke="#dc1010" stroke-width="0.6" fill="none"/>
<circle cx="651.2" cy="464.6" r="0.70" fill="#b80f0f"/>
<path d="M653.0 466.4H658.2M655.6 463.8V469.0M653.8 464.6L657.4 468.2M653.8 468.2L657.4 464.6" stroke="#dc1010" stroke-width="0.6" fill="none"/>
<circle cx="655.6" cy="466.4" r="0.70" fill="#b80f0f"/>
<path d="M645.5 467.0H650.7M648.1 464.4V469.6M646.3 465.2L649.9 468.8M646.3 468.8L649.9 465.2" stroke="#dc1010" stroke-width="0.6" fill="none"/>
<circle cx="648.1" cy="467.0" r="0.70" fill="#b80f0f"/>
<path d="M640.9 384.5H646.1M643.5 381.9V387.1M641.7 382.7L645.3 386.3M641.7 386.3L645.3 382.7" stroke="#dc1010" stroke-width="0.6" fill="none"/>
<circle cx="643.5" cy="384.5" r="0.70" fill="#b80f0f"/>
<path d="M639.4 386.5H644.6M642.0 383.9V389.1M640.2 384.7L643.8 388.3M640.2 388.3L643.8 384.7" stroke="#dc1010" stroke-width="0.6" fill="none"/>
<circle cx="642.0" cy="386.5" r="0.70" fill="#b80f0f"/>
<path d="M641.9 449.0H647.1M644.5 446.4V451.6M642.7 447.2L646.3 450.8M642.7 450.8L646.3 447.2" stroke="#dc1010" stroke-width="0.6" fill="none"/>
<circle cx="644.5" cy="449.0" r="0.70" fill="#b80f0f"/>
<path d="M640.8 446.8H646.0M643.4 444.2V449.4M641.6 445.0L645.2 448.6M641.6 448.6L645.2 445.0" stroke="#dc1010" stroke-width="0.6" fill="none"/>
<circle cx="643.4" cy="446.8" r="0.70" fill="#b80f0f"/>
<path d="M619.2 404.5H624.4M621.8 401.9V407.1M620.0 402.7L623.6 406.3M620.0 406.3L623.6 402.7" stroke="#dc1010" stroke-width="0.6" fill="none"/>
<circle cx="621.8" cy="404.5" r="0.70" fill="#b80f0f"/>
<path d="M614.6 415.9H619.8M617.2 413.3V418.5M615.4 414.1L619.0 417.7M615.4 417.7L619.0 414.1" stroke="#dc1010" stroke-width="0.6" fill="none"/>
<circle cx="617.2" cy="415.9" r="0.70" fill="#b80f0f"/>
</svg>
</body></html>
